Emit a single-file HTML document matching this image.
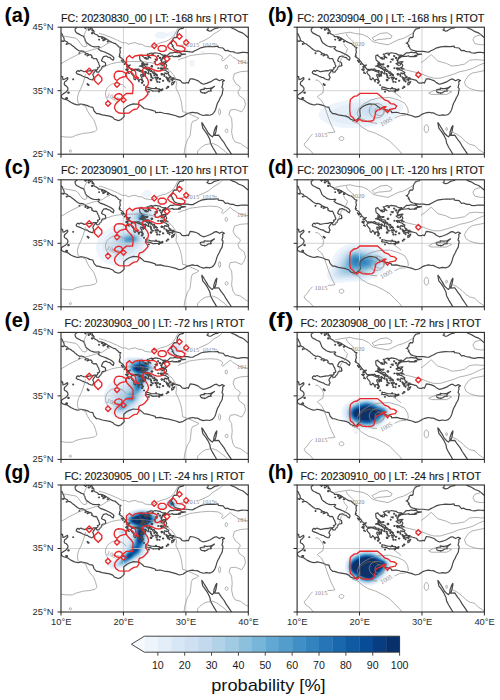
<!DOCTYPE html><html><head><meta charset="utf-8"><style>
html,body{margin:0;padding:0;background:#fff;}
svg{display:block;}
text{font-family:"Liberation Sans",sans-serif;}
</style></head><body>
<svg width="500" height="700" viewBox="0 0 500 700">
<defs>
<g id="coast" fill="none" stroke="#474747" stroke-width="1.2" stroke-linejoin="round" vector-effect="non-scaling-stroke">
<path vector-effect="non-scaling-stroke" d="M10.00 44.06 L10.05 44.03 L10.22 43.87 L10.30 43.55 L10.45 43.35 L10.50 43.15 L10.50 42.93 L10.75 42.80 L10.97 42.70 L11.10 42.55 L11.10 42.40 L11.20 42.44 L11.50 42.35 L11.80 42.10 L12.10 41.90 L12.22 41.77 L12.28 41.73 L12.62 41.45 L13.05 41.22 L13.25 41.28 L13.57 41.21 L13.75 41.10 L13.95 40.95 L14.12 40.82 L14.25 40.83 L14.45 40.73 L14.33 40.57 L14.55 40.62 L14.76 40.68 L15.00 40.42 L14.90 40.25 L15.10 40.15 L15.27 40.03 L15.63 40.07 L15.78 39.90 L15.79 39.80 L15.94 39.50 L16.04 39.36 L16.08 39.13 L16.20 38.92 L16.16 38.74 L15.83 38.62 L15.93 38.55 L15.90 38.42 L15.85 38.36 L15.72 38.25 L15.63 38.22 L15.65 38.10 L15.75 37.92 L16.06 37.93 L16.15 38.08 L16.26 38.23 L16.40 38.32 L16.55 38.69 L16.63 38.82 L17.02 38.90 L17.10 38.90 L17.20 39.03 L17.13 39.08 L17.13 39.37 L16.95 39.50 L16.65 39.60 L16.50 39.72 L16.53 39.87 L16.70 40.20 L16.82 40.37 L17.24 40.47 L17.50 40.30 L17.90 40.20 L17.99 40.05 L18.36 39.80 L18.49 40.15 L18.30 40.40 L17.94 40.64 L17.30 40.95 L16.87 41.13 L16.28 41.32 L15.92 41.63 L16.05 41.70 L16.18 41.88 L16.00 41.95 L15.88 41.93 L15.35 41.90 L14.99 42.00 L14.70 42.12 L14.40 42.35 L14.21 42.46 L13.95 42.75 L13.88 42.95 L13.80 43.18 L13.62 43.55 L13.52 43.62 L13.22 43.72 L12.90 43.91 L12.57 44.06 L12.40 44.20 L12.28 44.42 L12.25 44.70 L12.40 44.85 L12.55 44.95 L12.45 45.05"/>
<path vector-effect="non-scaling-stroke" d="M15.65 38.27 L15.24 38.26 L15.00 38.13 L14.75 38.16 L14.02 38.04 L13.70 37.98 L13.50 38.10 L13.36 38.13 L13.25 38.20 L13.10 38.19 L12.90 38.03 L12.73 38.18 L12.50 38.02 L12.43 37.80 L12.59 37.65 L12.83 37.58 L13.08 37.50 L13.52 37.28 L13.94 37.10 L14.25 37.06 L14.43 36.88 L14.85 36.72 L15.13 36.69 L15.15 36.90 L15.29 37.07 L15.22 37.23 L15.09 37.50 L15.20 37.73 L15.29 37.85 L15.56 38.19 L15.65 38.27Z"/>
<path vector-effect="non-scaling-stroke" d="M13.65 45.05 L13.70 45.00 L13.85 44.87 L13.90 44.76 L14.05 44.95 L14.15 45.05"/>
<path vector-effect="non-scaling-stroke" d="M14.85 45.05 L14.90 45.00 L15.00 44.75 L15.07 44.53 L15.30 44.35 L15.23 44.12 L15.44 43.94 L15.90 43.73 L15.97 43.53 L16.25 43.52 L16.44 43.51 L16.70 43.44 L17.02 43.30 L17.45 43.02 L17.70 42.90 L17.75 42.83 L18.09 42.65 L18.22 42.58 L18.53 42.45 L18.70 42.45 L18.84 42.28 L19.10 42.10 L19.20 41.93 L19.37 41.85 L19.60 41.80 L19.43 41.58 L19.45 41.32 L19.50 41.00 L19.40 40.80 L19.35 40.55 L19.49 40.47 L19.30 40.42 L19.47 40.25 L19.75 40.10 L20.00 39.87 L20.02 39.75 L20.17 39.62 L20.27 39.50 L20.40 39.28 L20.75 38.96 L21.10 39.05 L20.95 38.93 L20.80 38.85 L21.08 38.53 L21.20 38.35 L21.43 38.37 L21.76 38.33 L21.83 38.39 L22.20 38.35 L22.42 38.43 L22.60 38.25 L22.80 38.20 L23.15 38.18 L22.93 37.94 L22.73 38.00 L22.08 38.25 L21.78 38.30 L21.73 38.25 L21.35 38.17 L21.15 37.94 L21.32 37.65 L21.67 37.25 L21.68 36.92 L21.70 36.82 L21.88 36.72 L21.96 36.80 L22.11 37.03 L22.35 36.75 L22.48 36.39 L22.55 36.70 L22.57 36.76 L22.80 36.80 L23.05 36.50 L23.20 36.44 L23.05 36.69 L22.95 37.00 L22.75 37.40 L22.80 37.57 L23.10 37.45 L23.15 37.35 L23.45 37.45 L23.16 37.63 L23.00 37.93 L23.35 37.98 L23.55 38.03 L23.64 37.94 L23.78 37.80 L24.02 37.65 L24.06 37.72 L24.01 38.02 L24.00 38.15 L23.75 38.32 L23.60 38.46 L23.20 38.65 L22.85 38.85 L22.55 38.85 L22.95 39.00 L22.95 39.20 L22.94 39.36 L23.20 39.15 L23.05 39.08 L23.35 39.15 L23.20 39.40 L22.95 39.60 L22.70 39.80 L22.65 39.90 L22.60 40.25 L22.60 40.50 L22.94 40.64 L22.95 40.50 L23.30 40.25 L23.40 40.10 L23.70 39.95 L23.50 40.20 L23.60 40.25 L23.80 40.00 L23.95 39.98 L24.00 40.20 L23.90 40.35 L24.30 40.20 L24.40 40.15 L24.10 40.40 L23.80 40.75 L24.10 40.80 L24.41 40.94 L24.80 40.87 L25.10 40.98 L25.55 40.90 L25.87 40.85 L26.05 40.72 L26.30 40.60 L26.75 40.62 L26.55 40.45 L26.30 40.30 L26.18 40.05 L26.35 40.18 L26.67 40.41 L27.10 40.60 L27.50 40.98 L27.95 40.97 L28.25 41.07 L28.60 41.00 L28.98 41.00 L29.05 41.10 L29.10 41.22 L29.00 41.25 L28.60 41.35 L28.30 41.45 L28.10 41.63 L27.98 41.88 L27.80 42.00 L27.95 42.10 L27.85 42.17 L27.70 42.42 L27.47 42.50 L27.65 42.55 L27.73 42.66 L27.88 42.82 L27.90 42.90 L27.95 43.20 L28.17 43.40 L28.47 43.36 L28.60 43.55 L28.58 43.80 L28.65 44.17 L28.80 44.45 L29.00 44.70 L29.60 44.85 L29.65 45.05"/>
<path vector-effect="non-scaling-stroke" d="M33.60 45.05 L33.55 44.85 L33.52 44.62 L33.37 44.58 L33.50 44.50 L33.73 44.39 L34.00 44.42 L34.17 44.50 L34.42 44.67 L34.70 44.80 L34.97 44.85 L35.20 44.90 L35.35 45.05"/>
<path vector-effect="non-scaling-stroke" d="M37.10 45.05 L37.30 44.90 L37.60 44.75 L37.78 44.72 L38.05 44.57 L38.50 44.30 L39.07 44.10 L39.40 43.87 L39.72 43.58 L39.92 43.43 L40.05 43.36"/>
<path vector-effect="non-scaling-stroke" d="M40.05 40.95 L39.73 41.00 L39.55 41.02 L39.00 41.03 L38.39 40.92 L37.88 40.98 L37.77 41.07 L37.67 41.12 L37.28 41.13 L36.97 41.20 L36.70 41.35 L36.33 41.29 L35.95 41.72 L35.20 41.80 L35.15 42.02 L34.60 41.95 L34.34 41.95 L33.77 41.98 L33.00 41.89 L32.70 41.83 L32.38 41.75 L32.03 41.57 L31.80 41.45 L31.42 41.28 L31.12 41.09 L30.70 41.10 L30.20 41.18 L29.60 41.18 L29.10 41.20 L29.02 41.02 L29.30 40.82 L29.45 40.77 L29.92 40.76 L29.60 40.70 L29.27 40.65 L28.83 40.52 L29.15 40.43 L28.88 40.37 L28.50 40.40 L27.97 40.35 L27.90 40.50 L27.50 40.40 L27.30 40.40 L26.68 40.35 L26.40 40.15 L26.20 40.00 L26.15 39.80 L26.07 39.48 L26.33 39.50 L26.60 39.55 L26.95 39.58 L26.69 39.32 L26.89 39.07 L26.93 38.93 L26.75 38.67 L26.90 38.55 L27.14 38.42 L26.80 38.45 L26.50 38.65 L26.30 38.32 L26.78 38.20 L27.00 38.00 L27.26 37.86 L27.15 37.68 L27.30 37.48 L27.27 37.37 L27.60 37.24 L27.25 37.00 L27.43 37.03 L28.10 37.03 L27.70 36.75 L27.37 36.68 L28.27 36.85 L28.80 36.70 L29.10 36.62 L29.40 36.26 L29.64 36.20 L29.98 36.20 L30.15 36.30 L30.40 36.20 L30.57 36.60 L30.70 36.88 L31.00 36.85 L31.40 36.77 L32.00 36.54 L32.30 36.27 L32.80 36.02 L33.30 36.15 L33.93 36.38 L34.30 36.60 L34.63 36.80 L34.90 36.85 L35.37 36.57 L35.80 36.77 L36.17 36.59 L35.88 36.41 L35.93 36.08 L35.78 35.52 L35.93 35.36 L35.95 35.18 L35.88 34.89 L35.82 34.44 L35.65 34.12 L35.50 33.90 L35.37 33.56 L35.20 33.27 L35.10 33.10 L34.99 32.82 L34.89 32.50 L34.77 32.08 L34.65 31.80 L34.45 31.50 L34.25 31.30 L33.80 31.13 L33.30 31.20 L32.80 31.10 L32.30 31.26 L31.81 31.52 L31.50 31.50 L31.10 31.60 L30.80 31.55 L30.42 31.45 L30.07 31.32 L29.90 31.20 L29.50 30.95 L28.95 30.83 L28.40 31.05 L27.23 31.35 L26.50 31.45 L25.92 31.61 L25.15 31.55 L25.10 31.77 L24.50 31.95 L23.98 32.08 L23.30 32.20 L23.10 32.40 L22.64 32.77 L22.17 32.90 L21.97 32.90 L21.60 32.93 L20.95 32.72 L20.57 32.53 L20.07 32.12 L20.05 31.70 L20.10 31.20 L20.12 30.95 L20.00 30.80 L19.57 30.42 L19.20 30.28 L18.57 30.50 L18.30 30.80 L17.80 31.00 L16.59 31.20 L16.00 31.40 L15.70 31.40 L15.30 31.80 L15.10 32.37 L14.57 32.47 L14.26 32.65 L13.70 32.80 L13.18 32.90 L13.00 32.82 L12.73 32.77 L12.48 32.80 L12.08 32.93 L11.56 33.17 L11.10 33.50 L10.85 33.60 L10.40 33.70 L10.10 33.88 L10.05 34.10 L10.07 34.30 L10.35 34.50 L10.76 34.74 L11.00 35.00 L11.12 35.24 L11.07 35.50 L10.83 35.77 L10.64 35.83 L10.50 36.05 L10.60 36.40 L10.73 36.45 L11.10 36.85 L11.05 37.08 L10.98 37.05 L10.55 36.80 L10.30 36.75 L10.30 36.82 L10.33 36.86 L10.20 37.15 L10.28 37.18 L10.00 37.28 L9.90 37.30"/>
<path vector-effect="non-scaling-stroke" d="M34.98 24.90 L34.90 25.07 L34.65 25.50 L34.28 26.10 L33.94 26.75 L33.85 27.30 L33.50 28.00 L33.10 28.60 L32.70 29.10 L32.60 29.60 L32.55 29.97 L32.70 29.80 L33.00 29.30 L33.30 28.85 L33.60 28.30 L34.00 27.90 L34.25 27.73 L34.45 28.00 L34.50 28.50 L34.75 29.20 L34.95 29.50 L34.95 29.30 L34.80 28.50 L34.60 27.95 L35.25 28.00 L35.70 27.35 L36.10 26.85 L36.45 26.24 L36.90 25.60 L37.27 25.05 L37.30 24.90"/>
<path vector-effect="non-scaling-stroke" d="M23.58 35.60 L23.60 35.30 L23.53 35.27 L23.68 35.23 L24.00 35.20 L24.30 35.15 L24.73 34.93 L24.90 34.95 L25.50 34.98 L25.74 35.00 L26.10 35.02 L26.30 35.10 L26.30 35.30 L26.10 35.20 L25.72 35.19 L25.75 35.30 L25.13 35.34 L24.47 35.37 L24.20 35.45 L24.02 35.52 L23.75 35.55 L23.58 35.60Z"/>
<path vector-effect="non-scaling-stroke" d="M32.28 35.10 L32.42 34.77 L32.70 34.65 L33.04 34.67 L32.98 34.57 L33.30 34.70 L33.63 34.92 L34.08 34.96 L33.94 35.12 L34.20 35.40 L34.59 35.70 L34.00 35.40 L33.60 35.35 L33.32 35.34 L32.92 35.40 L32.95 35.20 L32.60 35.20 L32.28 35.10Z"/>
<path vector-effect="non-scaling-stroke" d="M28.22 36.45 L27.72 36.20 L27.75 35.90 L28.00 36.05 L28.22 36.45Z"/>
<path vector-effect="non-scaling-stroke" d="M22.85 38.85 L23.30 39.05 L23.60 38.75 L24.10 38.65 L24.20 38.40 L24.55 38.15 L24.60 37.98 L24.30 38.05 L24.00 38.35 L23.60 38.50 L23.20 38.75 L22.85 38.85Z"/>
<path vector-effect="non-scaling-stroke" d="M25.85 39.28 L26.20 39.00 L26.55 39.05 L26.60 39.30 L26.20 39.38 L25.85 39.28Z"/>
<path vector-effect="non-scaling-stroke" d="M25.85 38.55 L26.15 38.25 L26.10 38.60 L25.85 38.55Z"/>
<path vector-effect="non-scaling-stroke" d="M26.60 37.80 L27.05 37.70 L26.90 37.65 L26.60 37.80Z"/>
<path vector-effect="non-scaling-stroke" d="M25.05 39.95 L25.35 39.80 L25.40 40.00 L25.05 39.95Z"/>
<path vector-effect="non-scaling-stroke" d="M24.55 40.70 L24.75 40.60 L24.75 40.78 L24.55 40.70Z"/>
<path vector-effect="non-scaling-stroke" d="M19.65 39.80 L20.10 39.60 L19.90 39.45 L19.65 39.80Z"/>
<path vector-effect="non-scaling-stroke" d="M20.35 38.35 L20.70 38.10 L20.55 38.45 L20.35 38.35Z"/>
<path vector-effect="non-scaling-stroke" d="M20.65 37.80 L20.95 37.70 L20.75 37.90 L20.65 37.80Z"/>
<path vector-effect="non-scaling-stroke" d="M10.10 42.80 L10.45 42.75 L10.35 42.85 L10.10 42.80Z"/>
<path vector-effect="non-scaling-stroke" d="M24.67 37.85 L24.76 37.98 L24.94 37.98 L25.03 37.85 L24.94 37.72 L24.76 37.72Z"/>
<path vector-effect="non-scaling-stroke" d="M25.03 37.60 L25.09 37.68 L25.21 37.68 L25.27 37.60 L25.21 37.52 L25.09 37.52Z"/>
<path vector-effect="non-scaling-stroke" d="M25.25 37.45 L25.30 37.52 L25.40 37.52 L25.45 37.45 L25.40 37.38 L25.30 37.38Z"/>
<path vector-effect="non-scaling-stroke" d="M24.85 37.44 L24.89 37.50 L24.97 37.50 L25.01 37.44 L24.97 37.38 L24.89 37.38Z"/>
<path vector-effect="non-scaling-stroke" d="M24.23 37.63 L24.28 37.70 L24.38 37.70 L24.43 37.63 L24.38 37.56 L24.28 37.56Z"/>
<path vector-effect="non-scaling-stroke" d="M24.34 37.40 L24.38 37.46 L24.46 37.46 L24.50 37.40 L24.46 37.34 L24.38 37.34Z"/>
<path vector-effect="non-scaling-stroke" d="M24.40 37.15 L24.44 37.21 L24.52 37.21 L24.56 37.15 L24.52 37.09 L24.44 37.09Z"/>
<path vector-effect="non-scaling-stroke" d="M24.62 36.98 L24.66 37.04 L24.74 37.04 L24.78 36.98 L24.74 36.92 L24.66 36.92Z"/>
<path vector-effect="non-scaling-stroke" d="M24.28 36.70 L24.35 36.80 L24.49 36.80 L24.56 36.70 L24.49 36.60 L24.35 36.60Z"/>
<path vector-effect="non-scaling-stroke" d="M25.03 37.05 L25.09 37.13 L25.21 37.13 L25.27 37.05 L25.21 36.97 L25.09 36.97Z"/>
<path vector-effect="non-scaling-stroke" d="M25.30 37.05 L25.38 37.15 L25.52 37.15 L25.60 37.05 L25.52 36.95 L25.38 36.95Z"/>
<path vector-effect="non-scaling-stroke" d="M25.22 36.72 L25.26 36.78 L25.34 36.78 L25.38 36.72 L25.34 36.66 L25.26 36.66Z"/>
<path vector-effect="non-scaling-stroke" d="M25.73 36.85 L25.79 36.93 L25.91 36.93 L25.97 36.85 L25.91 36.77 L25.79 36.77Z"/>
<path vector-effect="non-scaling-stroke" d="M25.33 36.40 L25.38 36.47 L25.48 36.47 L25.53 36.40 L25.48 36.33 L25.38 36.33Z"/>
<path vector-effect="non-scaling-stroke" d="M25.71 36.36 L25.75 36.41 L25.82 36.41 L25.85 36.36 L25.82 36.31 L25.75 36.31Z"/>
<path vector-effect="non-scaling-stroke" d="M26.25 36.57 L26.30 36.64 L26.40 36.64 L26.45 36.57 L26.40 36.50 L26.30 36.50Z"/>
<path vector-effect="non-scaling-stroke" d="M26.95 36.85 L27.03 36.95 L27.18 36.95 L27.25 36.85 L27.18 36.75 L27.03 36.75Z"/>
<path vector-effect="non-scaling-stroke" d="M26.90 37.00 L26.94 37.06 L27.02 37.06 L27.06 37.00 L27.02 36.94 L26.94 36.94Z"/>
<path vector-effect="non-scaling-stroke" d="M26.78 37.15 L26.82 37.20 L26.89 37.20 L26.92 37.15 L26.89 37.10 L26.82 37.10Z"/>
<path vector-effect="non-scaling-stroke" d="M26.48 37.32 L26.52 37.37 L26.59 37.37 L26.62 37.32 L26.59 37.27 L26.52 37.27Z"/>
<path vector-effect="non-scaling-stroke" d="M26.01 37.60 L26.08 37.70 L26.22 37.70 L26.29 37.60 L26.22 37.50 L26.08 37.50Z"/>
<path vector-effect="non-scaling-stroke" d="M26.43 37.58 L26.46 37.63 L26.54 37.63 L26.57 37.58 L26.54 37.53 L26.46 37.53Z"/>
<path vector-effect="non-scaling-stroke" d="M27.08 36.60 L27.11 36.65 L27.18 36.65 L27.22 36.60 L27.18 36.55 L27.11 36.55Z"/>
<path vector-effect="non-scaling-stroke" d="M27.31 36.43 L27.34 36.48 L27.41 36.48 L27.45 36.43 L27.41 36.38 L27.34 36.38Z"/>
<path vector-effect="non-scaling-stroke" d="M27.76 36.60 L27.79 36.65 L27.86 36.65 L27.90 36.60 L27.86 36.55 L27.79 36.55Z"/>
<path vector-effect="non-scaling-stroke" d="M27.03 35.60 L27.09 35.68 L27.21 35.68 L27.27 35.60 L27.21 35.52 L27.09 35.52Z"/>
<path vector-effect="non-scaling-stroke" d="M26.85 35.40 L26.89 35.45 L26.96 35.45 L26.99 35.40 L26.96 35.35 L26.89 35.35Z"/>
<path vector-effect="non-scaling-stroke" d="M22.86 36.25 L22.92 36.33 L23.04 36.33 L23.10 36.25 L23.04 36.17 L22.92 36.17Z"/>
<path vector-effect="non-scaling-stroke" d="M23.23 35.87 L23.27 35.92 L23.34 35.92 L23.37 35.87 L23.34 35.82 L23.27 35.82Z"/>
<path vector-effect="non-scaling-stroke" d="M23.43 37.73 L23.46 37.78 L23.54 37.78 L23.57 37.73 L23.54 37.68 L23.46 37.68Z"/>
<path vector-effect="non-scaling-stroke" d="M23.43 37.93 L23.46 37.98 L23.54 37.98 L23.57 37.93 L23.54 37.88 L23.46 37.88Z"/>
<path vector-effect="non-scaling-stroke" d="M23.38 37.52 L23.41 37.57 L23.48 37.57 L23.52 37.52 L23.48 37.47 L23.41 37.47Z"/>
<path vector-effect="non-scaling-stroke" d="M23.40 37.34 L23.43 37.39 L23.50 37.39 L23.54 37.34 L23.50 37.29 L23.43 37.29Z"/>
<path vector-effect="non-scaling-stroke" d="M23.08 37.26 L23.11 37.31 L23.18 37.31 L23.22 37.26 L23.18 37.21 L23.11 37.21Z"/>
<path vector-effect="non-scaling-stroke" d="M23.38 39.16 L23.41 39.21 L23.48 39.21 L23.52 39.16 L23.48 39.11 L23.41 39.11Z"/>
<path vector-effect="non-scaling-stroke" d="M23.64 39.13 L23.68 39.19 L23.76 39.19 L23.80 39.13 L23.76 39.07 L23.68 39.07Z"/>
<path vector-effect="non-scaling-stroke" d="M23.78 39.17 L23.82 39.22 L23.89 39.22 L23.92 39.17 L23.89 39.12 L23.82 39.12Z"/>
<path vector-effect="non-scaling-stroke" d="M24.41 38.85 L24.48 38.95 L24.62 38.95 L24.69 38.85 L24.62 38.75 L24.48 38.75Z"/>
<path vector-effect="non-scaling-stroke" d="M24.92 39.53 L24.95 39.58 L25.02 39.58 L25.06 39.53 L25.02 39.48 L24.95 39.48Z"/>
<path vector-effect="non-scaling-stroke" d="M25.73 40.17 L25.79 40.25 L25.91 40.25 L25.97 40.17 L25.91 40.09 L25.79 40.09Z"/>
<path vector-effect="non-scaling-stroke" d="M25.96 39.83 L26.00 39.88 L26.07 39.88 L26.10 39.83 L26.07 39.78 L26.00 39.78Z"/>
<path vector-effect="non-scaling-stroke" d="M25.46 40.47 L25.50 40.53 L25.60 40.53 L25.64 40.47 L25.60 40.41 L25.50 40.41Z"/>
<path vector-effect="non-scaling-stroke" d="M25.50 38.55 L25.54 38.60 L25.61 38.60 L25.64 38.55 L25.61 38.50 L25.54 38.50Z"/>
<path vector-effect="non-scaling-stroke" d="M26.15 38.52 L26.18 38.57 L26.25 38.57 L26.29 38.52 L26.25 38.47 L26.18 38.47Z"/>
<path vector-effect="non-scaling-stroke" d="M24.01 34.84 L24.04 34.89 L24.11 34.89 L24.15 34.84 L24.11 34.79 L24.04 34.79Z"/>
<path vector-effect="non-scaling-stroke" d="M25.63 34.87 L25.66 34.92 L25.73 34.92 L25.77 34.87 L25.73 34.82 L25.66 34.82Z"/>
<path vector-effect="non-scaling-stroke" d="M25.15 35.45 L25.18 35.50 L25.25 35.50 L25.29 35.45 L25.25 35.40 L25.18 35.40Z"/>
<path vector-effect="non-scaling-stroke" d="M20.13 39.20 L20.16 39.25 L20.23 39.25 L20.27 39.20 L20.23 39.15 L20.16 39.15Z"/>
<path vector-effect="non-scaling-stroke" d="M20.53 38.75 L20.59 38.83 L20.71 38.83 L20.77 38.75 L20.71 38.67 L20.59 38.67Z"/>
<path vector-effect="non-scaling-stroke" d="M20.63 38.40 L20.66 38.45 L20.73 38.45 L20.77 38.40 L20.73 38.35 L20.66 38.35Z"/>
<path vector-effect="non-scaling-stroke" d="M14.30 35.90 L14.35 35.97 L14.45 35.97 L14.50 35.90 L14.45 35.83 L14.35 35.83Z"/>
<path vector-effect="non-scaling-stroke" d="M14.18 36.05 L14.21 36.10 L14.29 36.10 L14.32 36.05 L14.29 36.00 L14.21 36.00Z"/>
<path vector-effect="non-scaling-stroke" d="M11.88 36.80 L11.91 36.85 L11.98 36.85 L12.02 36.80 L11.98 36.75 L11.91 36.75Z"/>
<path vector-effect="non-scaling-stroke" d="M10.75 33.80 L10.83 33.90 L10.97 33.90 L11.05 33.80 L10.97 33.70 L10.83 33.70Z"/>
<path vector-effect="non-scaling-stroke" d="M11.08 34.70 L11.14 34.78 L11.26 34.78 L11.32 34.70 L11.26 34.62 L11.14 34.62Z"/>
<path vector-effect="non-scaling-stroke" d="M16.85 43.10 L16.93 43.20 L17.07 43.20 L17.15 43.10 L17.07 43.00 L16.93 43.00Z"/>
<path vector-effect="non-scaling-stroke" d="M16.48 43.30 L16.54 43.38 L16.66 43.38 L16.72 43.30 L16.66 43.22 L16.54 43.22Z"/>
<path vector-effect="non-scaling-stroke" d="M16.03 43.05 L16.07 43.10 L16.14 43.10 L16.17 43.05 L16.14 43.00 L16.07 43.00Z"/>
<path vector-effect="non-scaling-stroke" d="M17.40 42.75 L17.45 42.82 L17.55 42.82 L17.60 42.75 L17.55 42.68 L17.45 42.68Z"/>
<path vector-effect="non-scaling-stroke" d="M16.68 42.95 L16.74 43.03 L16.86 43.03 L16.92 42.95 L16.86 42.87 L16.74 42.87Z"/>
<path vector-effect="non-scaling-stroke" d="M14.88 44.05 L14.94 44.13 L15.06 44.13 L15.12 44.05 L15.06 43.97 L14.94 43.97Z"/>
<path vector-effect="non-scaling-stroke" d="M14.35 44.60 L14.40 44.67 L14.50 44.67 L14.55 44.60 L14.50 44.53 L14.40 44.53Z"/>
<path vector-effect="non-scaling-stroke" d="M14.30 44.95 L14.35 45.02 L14.45 45.02 L14.50 44.95 L14.45 44.88 L14.35 44.88Z"/>
<path vector-effect="non-scaling-stroke" d="M14.50 45.00 L14.55 45.07 L14.65 45.07 L14.70 45.00 L14.65 44.93 L14.55 44.93Z"/>
<path vector-effect="non-scaling-stroke" d="M14.95 44.50 L15.00 44.57 L15.10 44.57 L15.15 44.50 L15.10 44.43 L15.00 44.43Z"/>
<path vector-effect="non-scaling-stroke" d="M14.68 44.75 L14.71 44.80 L14.79 44.80 L14.82 44.75 L14.79 44.70 L14.71 44.70Z"/>
<path vector-effect="non-scaling-stroke" d="M14.16 40.55 L14.20 40.60 L14.27 40.60 L14.30 40.55 L14.27 40.50 L14.20 40.50Z"/>
<path vector-effect="non-scaling-stroke" d="M13.83 40.72 L13.87 40.77 L13.94 40.77 L13.97 40.72 L13.94 40.67 L13.87 40.67Z"/>
<path vector-effect="non-scaling-stroke" d="M12.88 40.90 L12.91 40.95 L12.98 40.95 L13.02 40.90 L12.98 40.85 L12.91 40.85Z"/>
<path vector-effect="non-scaling-stroke" d="M10.83 42.35 L10.87 42.40 L10.94 42.40 L10.97 42.35 L10.94 42.30 L10.87 42.30Z"/>
<path vector-effect="non-scaling-stroke" d="M9.83 43.00 L9.87 43.05 L9.94 43.05 L9.97 43.00 L9.94 42.95 L9.87 42.95Z"/>
</g>

<clipPath id="cp0"><rect x="61.00" y="27.20" width="187.30" height="127.00"/></clipPath>
<clipPath id="cp1"><rect x="297.10" y="27.20" width="187.30" height="127.00"/></clipPath>
<clipPath id="cp2"><rect x="61.00" y="179.80" width="187.30" height="127.00"/></clipPath>
<clipPath id="cp3"><rect x="297.10" y="179.80" width="187.30" height="127.00"/></clipPath>
<clipPath id="cp4"><rect x="61.00" y="332.40" width="187.30" height="127.00"/></clipPath>
<clipPath id="cp5"><rect x="297.10" y="332.40" width="187.30" height="127.00"/></clipPath>
<clipPath id="cp6"><rect x="61.00" y="485.00" width="187.30" height="127.00"/></clipPath>
<clipPath id="cp7"><rect x="297.10" y="485.00" width="187.30" height="127.00"/></clipPath>
<filter id="bl" x="-5%" y="-5%" width="110%" height="110%"><feGaussianBlur stdDeviation="0.5"/></filter>
</defs>
<rect width="500" height="700" fill="#fff"/>
<g clip-path="url(#cp0)">
<g transform="translate(61.00 27.20)" filter="url(#bl)">
<path d="M110.8 3.5l1.2 -.3 1.5 .1 1.3 .7 .7 1 .2 1.5 -.3 1 -.9 1.2 -1.5 .7 -2 .1 -3.5 -.6 -4.2 2.1 -1.8 .4 -2 .1 -2 -.3 -1.9 -.7 -1.3 -1 -.5 -1 0 -1 .5 -1 1.2 -1 1.5 -.6 2 -.4 2 0 2 .4 3 1 1 0 3.8 -2.4zM140.4 24l1.1 -.4 1.5 .1 .6 .3 .4 .5 .2 .5 -.2 .5 -.5 .5 -1 .4 -1.5 -.1 -1 -.7 -.2 -.6 .2 -.5 .4 -.5zM130.8 32.5l1.2 .2 .9 .8 .6 1.1 .2 1.4 -.2 1.4 -.6 1.1 -.9 .8 -1 .2 -1 -.2 -.9 -.8 -.6 -1.1 -.2 -1.4 .2 -1.4 .5 -1 1 -.9 .8 -.2z" fill="#edf4fc" fill-rule="evenodd"/>
</g>
<g transform="translate(-1.433 312.950) scale(6.24333 -6.35000)">
<g stroke="#c8c8c8" stroke-width="0.8" fill="none">
<path vector-effect="non-scaling-stroke" d="M20 25 L20 45 M30 25 L30 45 M10 35 L40 35"/>
</g>
<use href="#coast"/>
</g>
<g transform="translate(61.00 27.20)">
<g stroke="#8e8e8e" stroke-width="0.7" fill="none">
<path d="M0.00 8.60 L3.20 9.00 L8.00 9.80 L14.80 11.00 L17.20 13.00 L19.60 16.60 L21.60 19.00 L24.00 19.60 L26.00 18.60 L25.60 17.00 L24.00 13.40 L23.20 7.40 L26.80 0.00"/>
<path d="M0.00 36.50 L4.00 34.20 L8.80 31.40 L12.00 29.80 L19.20 26.20 L22.00 25.40 L30.00 23.00 L41.20 19.80 L46.00 16.60 L49.20 15.40"/>
<path d="M38.00 6.20 L42.80 7.40 L50.00 10.20 L56.40 13.00 L62.00 15.80 L64.40 15.40 L67.60 17.00 L70.00 16.20 L74.00 15.40 L78.00 17.00 L80.80 17.00 L84.00 19.00 L90.40 19.80 L96.00 17.00 L100.00 15.40 L104.80 14.20 L109.60 11.80 L112.80 8.60 L115.20 4.60 L116.50 2.00 L118.00 0.00"/>
<path d="M118.00 18.40 L124.00 17.60"/>
<path d="M153.00 16.80 L156.00 17.00"/>
<path d="M138.00 15.40 L142.00 13.80 L147.60 11.00 L152.40 7.00 L158.00 3.60 L161.80 0.00"/>
<path d="M124.00 30.50 L125.00 30.00 L128.70 28.50 L131.60 28.10 L140.40 26.90 L149.20 26.30 L156.70 26.90 L160.50 28.80 L161.80 30.70 L160.50 32.50 L161.80 33.80 L165.60 30.70 L169.30 27.50 L172.10 30.30 L174.40 31.30 L177.10 33.40"/>
<path d="M124.00 30.50 L120.00 31.50 L117.00 33.00"/>
<path d="M24.50 47.00 L23.90 49.70 L22.00 56.00 L20.00 61.00 L17.50 66.00 L16.40 70.90 L17.00 75.90 L20.20 77.20 L24.60 79.10 L26.40 83.50 L29.00 87.90 L32.70 92.30 L34.60 97.30 L35.90 102.40 L34.00 104.30 L29.00 105.50 L22.70 106.10 L15.10 108.00 L11.30 109.90 L5.00 109.90 L1.30 109.30 L0.00 109.30"/>
<path d="M36.00 46.00 L39.00 42.80 L44.10 39.00 L50.40 36.50 L56.70 35.20 L63.00 34.60 L70.00 34.30 L80.40 34.40 L90.00 35.50 L97.20 37.40 L104.00 40.50 L110.30 44.90 L114.00 50.00 L115.50 56.00 L114.90 60.80 L117.40 65.80 L119.30 70.90 L120.60 75.90 L121.20 81.00 L121.80 84.70 L124.00 84.90 L130.00 87.50 L137.90 91.00 L135.30 92.90 L131.60 94.20 L130.30 97.30 L129.70 103.60 L129.00 108.70 L126.50 112.40 L125.30 116.20 L124.00 120.00 L123.00 127.00"/>
<path d="M47.07 73.25 L46.02 71.83 L45.23 70.26 L44.72 68.59 L44.51 66.87 L44.59 65.13 L44.98 63.43 L45.66 61.81 L46.60 60.33 L47.79 59.01 L49.19 57.90 L50.76 57.02 L52.47 56.41 L54.25 56.07 L56.08 56.01 L57.88 56.25 L59.62 56.76 L61.25 57.55 L62.72 58.58 L63.99 59.82 L65.03 61.25"/>
<path d="M187.00 43.90 L179.60 44.50 L173.40 46.40 L172.10 51.40 L174.60 56.30 L178.30 58.80 L179.40 60.80 L176.90 64.60 L178.20 68.40 L183.20 72.10 L184.50 77.20 L183.20 81.00 L180.70 84.70 L174.40 82.20 L169.30 82.80 L168.00 87.30 L170.60 91.00 L171.20 98.60 L170.60 104.90 L171.90 111.20 L174.40 115.00 L179.40 116.20 L184.50 120.00 L187.00 121.30"/>
<path d="M136.60 127.00 L136.60 123.80 L140.40 120.00 L144.20 117.50 L147.90 116.80 L151.70 116.20 L156.00 118.00 L160.00 121.00 L164.00 124.00 L167.00 127.00"/>
<path d="M159.60 84.70 L159.47 86.20 L159.10 87.30 L158.60 87.70 L158.10 87.30 L157.73 86.20 L157.60 84.70 L157.73 83.20 L158.10 82.10 L158.60 81.70 L159.10 82.10 L159.47 83.20 L159.60 84.70"/>
<path d="M167.00 103.60 L166.81 104.50 L166.30 105.16 L165.60 105.40 L164.90 105.16 L164.39 104.50 L164.20 103.60 L164.39 102.70 L164.90 102.04 L165.60 101.80 L166.30 102.04 L166.81 102.70 L167.00 103.60"/>
<path d="M166.50 39.60 L166.34 40.60 L165.90 41.33 L165.30 41.60 L164.70 41.33 L164.26 40.60 L164.10 39.60 L164.26 38.60 L164.70 37.87 L165.30 37.60 L165.90 37.87 L166.34 38.60 L166.50 39.60"/>
<path d="M10.40 123.80 L10.21 124.51 L9.71 124.94 L9.09 124.94 L8.59 124.51 L8.40 123.80 L8.59 123.09 L9.09 122.66 L9.71 122.66 L10.21 123.09 L10.40 123.80"/>
<path d="M177.10 33.40 L182.00 35.00 L187.30 36.00"/>
</g>
<text x="125.3" y="19.4" font-size="6.4" style="font-family:&quot;Liberation Serif&quot;,serif" fill="#858585" transform="rotate(0 125.3 19.4)">1015</text>
<text x="141.0" y="19.4" font-size="6.4" style="font-family:&quot;Liberation Serif&quot;,serif" fill="#858585" transform="rotate(0 141.0 19.4)">1015</text>
<text x="176.0" y="36.8" font-size="6.4" style="font-family:&quot;Liberation Serif&quot;,serif" fill="#858585" transform="rotate(0 176.0 36.8)">101</text>
<text x="45.0" y="69.5" font-size="6.4" style="font-family:&quot;Liberation Serif&quot;,serif" fill="#858585" transform="rotate(25 45.0 69.5)">1005</text>
<g stroke="#e8292b" stroke-width="1.35" fill="none" stroke-linejoin="miter" stroke-miterlimit="3">
<path d="M77.80 51.00 L75.00 48.60 L74.60 45.00 L73.40 43.00 L71.00 41.80 L68.20 41.00 L66.20 39.80 L65.40 37.40 L65.40 33.40 L65.60 30.80 L68.50 28.30 L70.00 29.80 L71.50 30.80 L74.00 28.80 L78.00 28.10 L88.60 28.20 L93.00 28.30 L95.00 29.30 L96.50 31.30 L96.00 32.80 L94.50 33.80 L94.00 35.80 L94.50 37.30 L96.50 37.80 L99.00 36.30 L101.00 36.30 L103.00 37.80 L103.50 40.30 L102.00 42.80 L99.00 43.80 L96.00 43.80 L93.00 42.80 L90.00 41.30 L87.00 40.60 L84.00 40.80 L82.00 41.80 L81.00 43.30 L81.50 44.80 L84.00 47.80 L85.00 49.80 L86.50 51.80 L87.50 54.80 L87.00 57.80 L85.00 59.80 L84.50 62.80 L86.00 64.30 L87.00 66.80 L84.00 70.30 L81.50 72.30 L78.50 73.30 L77.50 75.80 L78.00 78.80 L76.00 81.80 L73.00 82.30 L70.50 83.80 L68.00 85.80 L62.00 86.10 L58.00 85.80 L55.00 83.80 L53.50 80.80 L54.00 77.80 L56.00 75.30 L59.00 72.80 L61.00 71.50"/>
<path d="M77.80 51.00 L75.00 51.00 L73.40 49.40 L72.60 47.40 L70.20 45.00 L67.80 44.20 L65.80 45.00 L65.00 47.40 L65.80 50.20 L67.80 52.60 L70.20 55.00 L72.00 57.80 L72.00 62.80 L71.50 66.30 L68.50 66.30 L65.50 66.30 L63.50 67.80 L62.00 69.30"/>
<path d="M65.00 47.40 L64.20 45.80 L61.40 44.20 L57.40 43.80 L55.00 44.60 L53.40 47.00 L53.20 49.80 L54.20 52.00 L56.00 53.30 L59.00 50.80 L62.00 49.80 L64.50 49.30 L65.00 47.40"/>
<path d="M53.50 69.30 L55.00 67.30 L58.00 66.30 L60.50 67.30 L61.50 69.30 L60.00 71.80 L58.00 72.30 L55.50 71.80 L53.50 70.30 L53.50 69.30"/>
<path d="M59.90 72.80 L62.50 70.20 L65.10 72.80 L62.50 75.40 L59.90 72.80"/>
<path d="M24.90 44.20 L28.20 40.90 L31.50 44.20 L28.20 47.50 L24.90 44.20"/>
<path d="M33.60 50.60 L37.20 47.00 L40.80 50.60 L40.80 53.60 L37.20 57.20 L33.60 53.60 L33.60 50.60"/>
<path d="M53.20 57.30 L56.00 54.50 L58.80 57.30 L56.00 60.10 L53.20 57.30"/>
<path d="M44.20 76.30 L47.00 73.50 L49.80 76.30 L47.00 79.10 L44.20 76.30"/>
<path d="M90.40 18.50 L93.20 15.70 L96.00 18.50 L93.20 21.30 L90.40 18.50"/>
<path d="M97.20 20.00 L99.40 18.40 L103.00 18.40 L105.20 20.00 L105.20 22.61 L103.00 24.20 L99.40 24.20 L97.20 22.61 L97.20 20.00"/>
<path d="M106.40 18.80 L108.80 16.00 L111.60 12.80 L113.20 14.00 L115.20 16.00 L116.00 18.40 L118.00 18.60 L121.20 19.20 L124.00 21.20 L123.60 23.20 L121.20 24.40 L117.20 24.80 L114.00 24.00 L111.20 22.80 L108.40 21.20 L106.40 18.80"/>
<path d="M115.60 9.30 L118.40 6.50 L121.20 9.30 L118.40 12.10 L115.60 9.30"/>
<path d="M122.30 15.40 L125.10 12.60 L127.90 15.40 L125.10 18.20 L122.30 15.40"/>
<path d="M103.10 31.60 L106.00 28.70 L108.90 31.60 L106.00 34.50 L103.10 31.60"/>
</g>
</g></g>
<rect x="61.00" y="27.20" width="187.30" height="127.00" fill="none" stroke="#2a2a2a" stroke-width="1.1"/>
<path d="M61.00 27.20 h-3.5 M61.00 90.70 h-3.5 M61.00 154.20 h-3.5 M61.00 154.20 v3.5 M123.43 154.20 v3.5 M185.87 154.20 v3.5 M248.30 154.20 v3.5" stroke="#2a2a2a" stroke-width="1.0"/>
<text x="154.65" y="21.70" font-size="11" fill="#1a1a1a" stroke="#1a1a1a" stroke-width="0.18" text-anchor="middle" textLength="187.2" lengthAdjust="spacingAndGlyphs">FC: 20230830_00 | LT: -168 hrs | RTOT</text>
<text x="4.60" y="21.60" font-size="19.5" font-weight="bold" fill="#000" textLength="25.5" lengthAdjust="spacingAndGlyphs"><tspan font-size="21" dy="0">(</tspan>a<tspan font-size="21">)</tspan></text>
<text x="32.60" y="30.10" font-size="9.4" fill="#2a2a2a" textLength="21" lengthAdjust="spacingAndGlyphs">45°N</text>
<text x="32.60" y="93.60" font-size="9.4" fill="#2a2a2a" textLength="21" lengthAdjust="spacingAndGlyphs">35°N</text>
<text x="32.60" y="157.10" font-size="9.4" fill="#2a2a2a" textLength="21" lengthAdjust="spacingAndGlyphs">25°N</text>
<g clip-path="url(#cp1)">
<g transform="translate(297.10 27.20)" filter="url(#bl)">
<path d="M62.3 71.5l7.2 -.4 6.5 .1 18 1.7 4 .5 3.7 1.1 2.6 1.5 1 1 .6 1 .3 1 -.1 1 -.5 1.5 -1.3 2 -4 4.5 -2.7 2.5 -2.6 1.8 -3 1.7 -3 1.3 -4 1.4 -4.5 1.2 -5.5 1.1 -6 .8 -6.5 .6 -6.5 .4 -6 0 -5 -.3 -4.5 -.6 -4.5 -1.2 -4.5 -1.7 -4 -2.1 -3.3 -2.4 -1.8 -2 -.5 -1 -.4 -1.5 0 -1.5 .3 -1 1.2 -2 2.1 -2 3.4 -2 4.5 -2 5.5 -1.9 5 -1.3 5.5 -1.2 6 -.9 7.3 -.7z" fill="#edf4fc" fill-rule="evenodd"/>
<path d="M71.2 74l3.8 0 4 .2 14 2.1 3.5 .9 1 .6 .7 .7 .3 1 -.6 1.5 -6.4 7.1 -1.6 1.4 -1.9 1.3 -4.5 2.2 -3 .9 -3.5 .9 -8 1.2 -12.5 1.1 -4.5 .1 -3.5 -.2 -3 -.4 -2.5 -.5 -4.1 -1.6 -2.5 -1.5 -1.9 -1.5 -1.5 -1.5 -.9 -1.5 -.2 -1.5 .3 -1 .6 -1 1.1 -1 3.1 -2 5.5 -2.5 5 -1.6 6.3 -1.4 10.7 -1.8 6.7 -.7z" fill="#e3eef8" fill-rule="evenodd"/>
<path d="M69.5 76.5l5 -.4 5 .4 2.6 .5 2.9 .9 1.6 .6 1.7 1 .9 1 .2 1 0 1 -.5 1.5 -.8 1.5 -1.1 1.4 -2.5 2.1 -2.5 1.2 -3 1 -3.5 .7 -4 .3 -9.5 -.2 -7 .2 -2.5 0 -3 -.7 -1 -.6 -.9 -.9 -.2 -.5 .1 -1 .5 -1 1 -1 7.7 -5 3.7 -2 2.6 -1.2 3.5 -1.1 3 -.7z" fill="#d8e7f5" fill-rule="evenodd"/>
<path d="M71 78.5l2.5 -.4 3 0 2.6 .4 2.4 .8 2 1.2 .9 1 .4 1.5 -.4 1.5 -1 1.5 -1.4 1.2 -2 1 -2 .6 -2.5 .4 -2.5 0 -2.5 -.4 -2 -.6 -1.5 -.8 -1.4 -1.4 -.7 -1.5 -.1 -1.5 .7 -1.5 1 -1 2 -1.2 2.5 -.8z" fill="#cee0f2" fill-rule="evenodd"/>
<path d="M73.5 80.5l2.5 -.2 1.5 .3 1.2 .4 .8 .5 .8 1 .2 .5 -.2 1 -.7 1 -.6 .5 -2 .7 -2.5 .2 -2.5 -.6 -1 -.6 -.6 -.7 -.3 -.5 0 -1 .4 -.9 .6 -.6 .9 -.5 1.5 -.5z" fill="#c2d9ee" fill-rule="evenodd"/>
</g>
<g transform="translate(234.667 312.950) scale(6.24333 -6.35000)">
<g stroke="#c8c8c8" stroke-width="0.8" fill="none">
<path vector-effect="non-scaling-stroke" d="M20 25 L20 45 M30 25 L30 45 M10 35 L40 35"/>
</g>
<use href="#coast"/>
</g>
<g transform="translate(297.10 27.20)">
<g stroke="#8e8e8e" stroke-width="0.7" fill="none">
<path d="M38.00 7.50 L44.00 6.30 L48.00 5.70 L53.00 5.00 L58.00 6.30 L63.00 6.90 L66.00 7.40 L71.00 9.90 L73.50 12.40 L76.00 14.50 L81.00 15.80 L91.00 17.60 L96.00 15.10 L101.00 12.60 L106.00 11.30 L111.00 8.80 L115.00 6.30 L118.90 2.50 L122.60 0.00"/>
<path d="M75.00 10.60 L79.00 8.60 L83.00 6.30 L90.00 5.50 L95.00 8.60 L93.70 11.10 L88.00 11.80 L81.00 12.40 L77.40 13.60 L75.00 10.60"/>
<path d="M49.10 6.30 L50.40 9.40 L54.20 12.60 L56.00 14.50 L57.90 16.40"/>
<path d="M46.60 16.40 L47.90 18.90 L50.40 21.40 L49.10 25.20 L46.60 29.00 L44.10 31.50 L41.60 40.30 L37.80 44.10 L35.30 46.60"/>
<path d="M18.30 52.90 L20.80 52.90 L23.30 55.40 L25.20 57.90 L26.40 60.80 L25.80 65.80 L21.40 68.40 L20.20 69.60 L24.60 73.40 L27.10 78.40 L29.00 83.50 L31.50 91.00 L34.00 97.30 L36.50 102.40 L37.80 104.90 L34.00 105.50 L30.50 105.50"/>
<path d="M15.50 106.80 L12.60 109.90 L10.10 113.70 L6.90 116.80 L8.80 120.00 L12.60 122.50 L16.40 127.00"/>
<path d="M46.80 111.40 L46.48 112.40 L45.60 113.13 L44.40 113.40 L43.20 113.13 L42.32 112.40 L42.00 111.40 L42.32 110.40 L43.20 109.67 L44.40 109.40 L45.60 109.67 L46.48 110.40 L46.80 111.40"/>
<path d="M87.40 83.50 L87.21 85.10 L86.65 86.62 L85.74 87.99 L84.54 89.13 L83.10 89.99 L81.49 90.52 L79.80 90.70 L78.11 90.52 L76.50 89.99 L75.06 89.13 L73.86 87.99 L72.95 86.62 L72.39 85.10 L72.20 83.50 L72.39 81.90 L72.95 80.38 L73.86 79.01 L75.06 77.87 L76.50 77.01 L78.11 76.48 L79.80 76.30 L81.49 76.48 L83.10 77.01 L84.54 77.87 L85.74 79.01 L86.65 80.38 L87.21 81.90 L87.40 83.50"/>
<path d="M86.70 84.10 L86.48 85.46 L85.86 86.69 L84.89 87.66 L83.66 88.28 L82.30 88.50 L80.94 88.28 L79.71 87.66 L78.74 86.69 L78.12 85.46 L77.90 84.10 L78.12 82.74 L78.74 81.51 L79.71 80.54 L80.94 79.92 L82.30 79.70 L83.66 79.92 L84.89 80.54 L85.86 81.51 L86.48 82.74 L86.70 84.10"/>
<path d="M62.20 91.00 L60.00 86.00 L62.00 81.00 L66.00 77.20 L73.50 72.90 L81.00 70.90 L92.40 70.20 L101.20 72.80 L107.50 75.90 L110.60 80.90 L111.30 85.40 L108.80 87.90 L102.50 88.50 L97.40 91.00"/>
<path d="M80.00 96.10 L73.50 95.40 L66.00 92.30 L62.20 91.00"/>
<path d="M55.00 94.00 L60.90 96.10 L64.70 99.80 L71.00 103.60 L78.50 106.10 L86.10 109.90 L92.40 113.70 L97.40 118.70 L102.50 123.80 L105.00 127.00"/>
<path d="M123.90 35.60 L129.00 31.80 L134.10 27.30 L140.50 33.70 L149.50 36.30 L154.60 38.80 L161.00 38.20 L167.40 36.90 L172.50 33.10 L177.70 32.40 L187.90 33.10"/>
<path d="M105.00 42.00 L112.00 43.50 L118.00 45.00 L123.90 46.50 L130.30 49.10 L136.70 51.00 L143.10 51.00 L149.50 49.10 L155.90 47.20 L162.30 44.60 L168.70 43.30 L175.10 41.40 L181.50 38.20 L187.90 35.60"/>
<path d="M187.90 43.30 L181.50 44.60 L175.10 45.90 L171.30 48.50 L168.70 52.30 L167.40 54.80 L168.70 58.70 L172.50 61.20 L178.00 63.00 L184.00 64.00 L187.90 63.50"/>
<path d="M184.00 7.50 L177.70 9.40 L175.80 12.60 L177.70 16.40 L184.10 17.70 L187.90 17.10"/>
<path d="M131.60 65.90 L136.70 63.40 L149.50 62.70 L154.60 64.60 L149.50 67.20 L143.10 67.20 L134.10 67.20 L131.60 65.90"/>
<path d="M131.50 101.50 L131.28 103.24 L130.67 104.63 L129.79 105.40 L128.81 105.40 L127.93 104.63 L127.32 103.24 L127.10 101.50 L127.32 99.76 L127.93 98.37 L128.81 97.60 L129.79 97.60 L130.67 98.37 L131.28 99.76 L131.50 101.50"/>
<path d="M150.30 101.80 L150.15 102.74 L149.75 103.32 L149.25 103.32 L148.85 102.74 L148.70 101.80 L148.85 100.86 L149.25 100.28 L149.75 100.28 L150.15 100.86 L150.30 101.80"/>
<path d="M154.60 104.30 L159.70 106.90 L164.90 110.70 L168.70 114.60 L172.50 117.10 L177.70 118.40 L181.50 122.30 L185.40 124.80 L187.30 126.00"/>
<path d="M92.00 61.00 L96.00 64.50 L101.00 68.00 L104.00 70.50"/>
</g>
<text x="54.5" y="18.6" font-size="6.4" style="font-family:&quot;Liberation Serif&quot;,serif" fill="#858585" transform="rotate(0 54.5 18.6)">1020</text>
<text x="17.5" y="109.8" font-size="6.4" style="font-family:&quot;Liberation Serif&quot;,serif" fill="#858585" transform="rotate(0 17.5 109.8)">1015</text>
<text x="84.5" y="99.3" font-size="6.4" style="font-family:&quot;Liberation Serif&quot;,serif" fill="#858585" transform="rotate(-28 84.5 99.3)">1005</text>
<g stroke="#e8292b" stroke-width="1.35" fill="none" stroke-linejoin="miter" stroke-miterlimit="3">
<path d="M53.30 72.20 L56.90 69.20 L59.90 68.60 L62.90 66.20 L80.30 66.20 L83.90 69.20 L87.50 72.80 L91.10 74.00 L93.50 76.40 L97.10 77.00 L99.50 78.80 L98.30 81.20 L94.70 81.80 L92.30 82.40 L90.50 85.40 L89.30 84.20 L87.50 82.40 L86.90 80.60 L89.30 79.40 L86.90 79.40 L84.50 81.20 L82.70 82.40 L80.30 83.00 L78.50 84.80 L77.90 88.40 L76.70 92.60 L74.90 93.80 L69.50 94.20 L65.30 93.80 L62.30 92.00 L59.90 94.40 L58.10 93.20 L55.70 90.20 L53.30 88.40 L52.70 83.60 L52.70 77.60 L53.30 72.20"/>
<path d="M118.40 47.50 L121.20 44.70 L124.00 47.50 L121.20 50.30 L118.40 47.50"/>
</g>
</g></g>
<rect x="297.10" y="27.20" width="187.30" height="127.00" fill="none" stroke="#2a2a2a" stroke-width="1.1"/>
<path d="M297.10 27.20 h-3.5 M297.10 90.70 h-3.5 M297.10 154.20 h-3.5 M297.10 154.20 v3.5 M359.53 154.20 v3.5 M421.97 154.20 v3.5 M484.40 154.20 v3.5" stroke="#2a2a2a" stroke-width="1.0"/>
<text x="390.75" y="21.70" font-size="11" fill="#1a1a1a" stroke="#1a1a1a" stroke-width="0.18" text-anchor="middle" textLength="187.2" lengthAdjust="spacingAndGlyphs">FC: 20230904_00 | LT: -168 hrs | RTOT</text>
<text x="267.90" y="21.60" font-size="19.5" font-weight="bold" fill="#000" textLength="25.5" lengthAdjust="spacingAndGlyphs"><tspan font-size="21" dy="0">(</tspan>b<tspan font-size="21">)</tspan></text>
<g clip-path="url(#cp2)">
<g transform="translate(61.00 179.80)" filter="url(#bl)">
<path d="M83.9 10.5l1.6 -.4 1.5 .1 1.5 .5 1.2 .8 .8 1 .4 1.5 -.4 1.5 -.8 1 -1.7 1.1 -2 .3 -2 -.3 -1.7 -1.1 -1 -1.5 -.2 -1 .2 -1 1 -1.5 1.6 -1zM82.9 26l2.6 .1 2.5 .3 3 .8 2 .9 1.5 .9 1.5 1.5 .8 1.5 .4 2 -.4 2.5 -.8 1.5 -1 1.4 -2.5 2.5 -5 4.1 -1.1 1.5 -.2 1 .2 1.5 1.7 4 .8 2.5 .3 2 -.1 2.5 -.4 2.5 -1 3 -1.4 3 -1.7 2.5 -2.1 2.5 -2 1.9 -2.5 2 -2.5 1.7 -3 1.6 -2.5 1.1 -3 1 -3.5 .9 -3 .5 -3 .2 -3 -.1 -3 -.3 -3 -.7 -2.5 -.9 -2.5 -1.2 -2 -1.3 -2.5 -2.2 -2 -2.7 -1.3 -3 -.7 -3.5 .1 -3.5 .8 -3.5 1.3 -3 2.2 -3.5 3.1 -3.5 3.5 -2.9 3.5 -2.3 6.2 -3.3 2.1 -1.5 1.7 -2 2.1 -4 1.4 -2 2 -2 2 -1.6 3.5 -2 4 -1.5 4.5 -1.1 3.9 -.3z" fill="#edf4fc" fill-rule="evenodd"/>
<path d="M78.4 28.5l2.6 -.3 3 -.1 2.5 .3 2.5 .7 1.8 .9 1.3 1 1.1 1.5 .4 1.5 0 1 -.4 1.5 -1.5 2.5 -3.2 2.9 -4.5 2.8 -.7 .8 -.6 1 -.7 3 0 2.5 2 5 .3 1.5 0 1.5 -.2 1.5 -.6 2 -2.1 4 -3 4 -1.9 1.9 -2 1.6 -2 1.4 -2.5 1.3 -4.5 1.7 -5 1 -2.5 .1 -2.5 -.1 -2.5 -.4 -2 -.5 -2 -.8 -2 -1.1 -2.1 -1.6 -1.7 -2 -1.1 -2 -.8 -2.5 -.2 -2.5 .3 -2.5 1 -3 1.3 -2.5 1.5 -2 1.8 -2 2 -1.7 2 -1.4 4 -2.2 7.2 -2.7 2.3 -1.2 .7 -.8 .2 -1 -.5 -3.5 .2 -2.5 .8 -2 1 -1.5 2.1 -2 2.5 -1.6 3.5 -1.5 3.4 -.9z" fill="#e3eef8" fill-rule="evenodd"/>
<path d="M78.1 30l2.4 -.4 2.5 0 2 .2 2 .5 1.5 .7 1.3 1 .8 1 .5 1.5 0 1 -.5 1.5 -1.6 2.5 -2.5 2.2 -3.9 2.3 -.9 1 -.4 1 -1.6 5 -.2 1 .4 1.5 1.6 3 .5 2 -.3 2.5 -1.1 2.5 -2.6 3.2 -4.9 4.8 -3.1 2.2 -3.5 1.7 -4.5 1.2 -4 .2 -4 -.6 -2 -.7 -1.5 -.8 -1.6 -1.2 -1.4 -1.5 -.9 -1.5 -.7 -2 -.2 -2 .2 -2 .8 -2.5 1.1 -2 1.9 -2.5 2.3 -2.2 3 -2 3 -1.4 3.5 -1.1 3 -.5 3 -.1 4.5 .2 1 -.1 .7 -.3 .4 -.5 .1 -1 -.3 -1.5 -.4 -1.4 -1 -1.5 -2.5 -1.9 -1.1 -1.2 -.7 -1.5 -.1 -2 .6 -1.5 .6 -1 2 -2 3.2 -1.8 3.6 -1.2z" fill="#d8e7f5" fill-rule="evenodd"/>
<path d="M78.8 31l2.2 -.3 2 0 2 .4 1.5 .6 1.3 .8 .8 1 .5 1 .1 1.5 -.6 2 -1.4 2 -1.7 1.4 -3.2 1.6 -1.3 1 -.7 1 -1.3 3.2 -.5 .6 -1 .4 -.5 -.2 -.7 -1 -1.3 -3.5 -.8 -1.5 -3.2 -3.5 -.4 -1 -.1 -1 .3 -1 .4 -1 1.9 -2 2.6 -1.5 3.1 -1zM63.2 52.5l2.8 -.4 3.5 -.1 5 .4 2 .4 1 .7 1 .9 1.4 2.1 .6 2 -.1 1.5 -.3 1 -1.2 2 -2.4 2.4 -6.5 4.5 -3.5 2 -3 1 -3 .5 -3 -.1 -2.5 -.7 -1.5 -.8 -1.1 -.8 -.9 -1 -.9 -1.5 -.4 -1.5 -.2 -1.5 .2 -1.5 .6 -2 1 -2 1 -1.5 1.4 -1.5 1.3 -1.1 1.5 -1.1 2 -1 2 -.7 2.2 -.6z" fill="#cee0f2" fill-rule="evenodd"/>
<path d="M78.5 32l1.5 -.3 2 -.1 1.5 .2 1.5 .4 1.3 .8 1 1 .5 1 .2 1.5 -.6 2 -1.4 1.7 -1.5 1.1 -3.9 1.7 -1.2 1 -.9 1.3 -.5 .4 -.5 -.1 -.5 -.6 -1.4 -2.5 -2.2 -3 -.5 -1 -.2 -1 .3 -1.5 1 -1.5 2 -1.5 2.5 -1zM64.8 53.5l3.2 -.4 3.5 .1 3 .4 2 .8 1.5 1.2 1.1 1.9 .2 1.5 -.5 2 -1.3 1.8 -2 1.7 -3 1.6 -4 1.7 -4 1.3 -2.5 .5 -2.5 -.1 -2 -.6 -1 -.6 -1 -1 -.5 -.8 -.6 -1.5 -.1 -1.5 .1 -1.5 .8 -2.5 1.4 -2 2.4 -1.9 2.5 -1.2 3.3 -.9z" fill="#c2d9ee" fill-rule="evenodd"/>
<path d="M79.6 32.5l1.4 -.2 1.5 .1 1.5 .3 1 .5 1 .8 .8 1 .3 1 0 1 -.3 1 -.5 1 -.9 1 -.9 .7 -2.5 1.1 -3 .8 -1 .1 -1 -.6 -1.8 -2.1 -.8 -1.5 -.1 -1.5 .5 -1.5 1.2 -1.3 1.5 -1 2.1 -.7zM68.4 54l2.6 0 2.5 .3 2 .6 1.5 1 1.1 1.6 .2 1.5 -.3 1.5 -1 1.4 -1.5 1.3 -2.5 1.4 -3 1.1 -2.5 .6 -2.5 .2 -2.5 -.1 -2 -.5 -1.5 -.9 -1.3 -1.5 -.5 -2 .3 -2 .9 -1.5 1.6 -1.5 2.5 -1.3 3 -.9 2.9 -.3z" fill="#b2d2e8" fill-rule="evenodd"/>
<path d="M80.2 33l1.3 -.1 1.5 .2 2 .9 1.2 1.5 .2 1 -.1 1 -.6 1.5 -1.7 1.5 -2.5 .9 -2.5 .3 -1.5 -.6 -1.2 -1.1 -.8 -1.5 -.1 -1.5 .5 -1.5 .9 -1 1.7 -1 1.7 -.5zM66.3 55l2.7 -.3 2.5 0 2 .3 1.5 .5 1.4 1 .7 1 .3 1.5 -.4 1.5 -1 1.3 -1.5 1.1 -2 1 -2.5 .8 -2.5 .3 -2 .1 -2 -.3 -2 -.8 -1.3 -1 -.7 -1 -.4 -1.5 .4 -1.5 1.1 -1.5 1.4 -1 2 -.9 2.3 -.6z" fill="#a1cbe2" fill-rule="evenodd"/>
<path d="M80.4 33.5l2.1 0 1 .3 1 .6 .6 .6 .6 1 .1 1.5 -.7 1.5 -1.6 1.3 -2 .7 -2 .1 -1.5 -.5 -1 -.9 -.6 -1.2 -.2 -1.5 .3 -1 1 -1.2 1.5 -.9 1.4 -.4zM67.6 55.5l2.4 -.2 2 .1 1.5 .3 1.5 .7 1.1 1.1 .4 1 -.1 1 -.4 1 -.9 1 -1.4 1 -1.7 .7 -2 .6 -2 .3 -2 -.1 -2 -.4 -1.4 -.6 -1.2 -1 -.5 -1 -.1 -1.5 .5 -1 1 -1 1.7 -1 1.5 -.6 2.1 -.4z" fill="#8cc0dd" fill-rule="evenodd"/>
<path d="M80.2 34l1.3 -.1 1.5 .3 1.4 .8 .7 1 .2 1.5 -.4 1 -.9 1 -1 .6 -2 .5 -1.5 -.1 -1.5 -.7 -.9 -1.3 -.2 -1.5 .6 -1.4 1.3 -1.1 1.4 -.5zM68.8 56l3.2 0 1.5 .4 1.1 .6 .8 1 .2 1 -.3 1 -.8 1 -1 .8 -1.5 .7 -1.5 .4 -2 .3 -2 -.1 -1.5 -.3 -1 -.4 -1.2 -.9 -.5 -1 0 -1 .5 -1 .5 -.5 2.2 -1.3 3.3 -.7z" fill="#77b5d9" fill-rule="evenodd"/>
<path d="M80 34.5l1.5 -.2 1 .2 1 .4 .7 .6 .6 1 0 1 -.4 1 -.9 .9 -1.5 .7 -1.5 .1 -1.5 -.4 -1 -.8 -.5 -1 .1 -1.5 .9 -1.2 1.5 -.8zM67.2 57l3.3 -.4 2.5 .4 1.3 1 .3 .5 -.1 1 -.5 .9 -.7 .6 -2.3 1 -3 .4 -2.3 -.4 -1.6 -1 -.3 -.5 -.1 -1 .6 -1 .6 -.5 2.3 -1z" fill="#63a8d3" fill-rule="evenodd"/>
<path d="M79.9 35l1.1 -.3 1 .1 1.6 .7 .4 .5 .4 1 -.2 1 -.7 .9 -1 .6 -1.5 .3 -1.5 -.2 -.8 -.6 -.6 -1 -.1 -1 .5 -1 1.4 -1zM68.4 57.5l2.1 -.2 1.5 .2 .9 .5 .4 .5 0 1 -.8 1 -2 .8 -2 .2 -2 -.4 -.9 -.6 -.2 -.5 .2 -1 1.3 -1 1.5 -.5z" fill="#529dcc" fill-rule="evenodd"/>
<path d="M79.9 35.5l1.1 -.3 1 0 .7 .3 .7 .5 .5 1 -.2 1 -.4 .5 -.8 .6 -1 .3 -1 0 -1 -.4 -.8 -1 -.1 -1 .6 -1 .7 -.5zM68.9 58.5l1.1 -.1 1 .1 .6 .5 -.1 .5 -.5 .5 -1 .3 -1.5 0 -.7 -.3 -.2 -.5 .3 -.5 1 -.5z" fill="#4090c5" fill-rule="evenodd"/>
<path d="M80 36l1 -.4 1.5 .3 .6 .6 .2 .5 -.2 1 -.6 .6 -1 .4 -1.5 -.3 -.5 -.4 -.4 -.8 .3 -1 .6 -.5z" fill="#3383be" fill-rule="evenodd"/>
<path d="M80.3 36.5l1.2 -.3 .8 .3 .4 .5 -.2 .9 -1 .6 -1 -.2 -.5 -.3 -.2 -.5 .1 -.5 .4 -.5z" fill="#2575b7" fill-rule="evenodd"/>
</g>
<g transform="translate(-1.433 465.550) scale(6.24333 -6.35000)">
<g stroke="#c8c8c8" stroke-width="0.8" fill="none">
<path vector-effect="non-scaling-stroke" d="M20 25 L20 45 M30 25 L30 45 M10 35 L40 35"/>
</g>
<use href="#coast"/>
</g>
<g transform="translate(61.00 179.80)">
<g stroke="#8e8e8e" stroke-width="0.7" fill="none">
<path d="M0.00 8.60 L3.20 9.00 L8.00 9.80 L14.80 11.00 L17.20 13.00 L19.60 16.60 L21.60 19.00 L24.00 19.60 L26.00 18.60 L25.60 17.00 L24.00 13.40 L23.20 7.40 L26.80 0.00"/>
<path d="M0.00 36.50 L4.00 34.20 L8.80 31.40 L12.00 29.80 L19.20 26.20 L22.00 25.40 L30.00 23.00 L41.20 19.80 L46.00 16.60 L49.20 15.40"/>
<path d="M38.00 6.20 L42.80 7.40 L50.00 10.20 L56.40 13.00 L62.00 15.80 L64.40 15.40 L67.60 17.00 L70.00 16.20 L74.00 15.40 L78.00 17.00 L80.80 17.00 L84.00 19.00 L90.40 19.80 L96.00 17.00 L100.00 15.40 L104.80 14.20 L109.60 11.80 L112.80 8.60 L115.20 4.60 L116.50 2.00 L118.00 0.00"/>
<path d="M118.00 18.40 L124.00 17.60"/>
<path d="M153.00 16.80 L156.00 17.00"/>
<path d="M138.00 15.40 L142.00 13.80 L147.60 11.00 L152.40 7.00 L158.00 3.60 L161.80 0.00"/>
<path d="M124.00 30.50 L125.00 30.00 L128.70 28.50 L131.60 28.10 L140.40 26.90 L149.20 26.30 L156.70 26.90 L160.50 28.80 L161.80 30.70 L160.50 32.50 L161.80 33.80 L165.60 30.70 L169.30 27.50 L172.10 30.30 L174.40 31.30 L177.10 33.40"/>
<path d="M124.00 30.50 L120.00 31.50 L117.00 33.00"/>
<path d="M24.50 47.00 L23.90 49.70 L22.00 56.00 L20.00 61.00 L17.50 66.00 L16.40 70.90 L17.00 75.90 L20.20 77.20 L24.60 79.10 L26.40 83.50 L29.00 87.90 L32.70 92.30 L34.60 97.30 L35.90 102.40 L34.00 104.30 L29.00 105.50 L22.70 106.10 L15.10 108.00 L11.30 109.90 L5.00 109.90 L1.30 109.30 L0.00 109.30"/>
<path d="M36.00 46.00 L39.00 42.80 L44.10 39.00 L50.40 36.50 L56.70 35.20 L63.00 34.60 L70.00 34.30 L80.40 34.40 L90.00 35.50 L97.20 37.40 L104.00 40.50 L110.30 44.90 L114.00 50.00 L115.50 56.00 L114.90 60.80 L117.40 65.80 L119.30 70.90 L120.60 75.90 L121.20 81.00 L121.80 84.70 L124.00 84.90 L130.00 87.50 L137.90 91.00 L135.30 92.90 L131.60 94.20 L130.30 97.30 L129.70 103.60 L129.00 108.70 L126.50 112.40 L125.30 116.20 L124.00 120.00 L123.00 127.00"/>
<path d="M47.07 73.25 L46.02 71.83 L45.23 70.26 L44.72 68.59 L44.51 66.87 L44.59 65.13 L44.98 63.43 L45.66 61.81 L46.60 60.33 L47.79 59.01 L49.19 57.90 L50.76 57.02 L52.47 56.41 L54.25 56.07 L56.08 56.01 L57.88 56.25 L59.62 56.76 L61.25 57.55 L62.72 58.58 L63.99 59.82 L65.03 61.25"/>
<path d="M187.00 43.90 L179.60 44.50 L173.40 46.40 L172.10 51.40 L174.60 56.30 L178.30 58.80 L179.40 60.80 L176.90 64.60 L178.20 68.40 L183.20 72.10 L184.50 77.20 L183.20 81.00 L180.70 84.70 L174.40 82.20 L169.30 82.80 L168.00 87.30 L170.60 91.00 L171.20 98.60 L170.60 104.90 L171.90 111.20 L174.40 115.00 L179.40 116.20 L184.50 120.00 L187.00 121.30"/>
<path d="M136.60 127.00 L136.60 123.80 L140.40 120.00 L144.20 117.50 L147.90 116.80 L151.70 116.20 L156.00 118.00 L160.00 121.00 L164.00 124.00 L167.00 127.00"/>
<path d="M159.60 84.70 L159.47 86.20 L159.10 87.30 L158.60 87.70 L158.10 87.30 L157.73 86.20 L157.60 84.70 L157.73 83.20 L158.10 82.10 L158.60 81.70 L159.10 82.10 L159.47 83.20 L159.60 84.70"/>
<path d="M167.00 103.60 L166.81 104.50 L166.30 105.16 L165.60 105.40 L164.90 105.16 L164.39 104.50 L164.20 103.60 L164.39 102.70 L164.90 102.04 L165.60 101.80 L166.30 102.04 L166.81 102.70 L167.00 103.60"/>
<path d="M166.50 39.60 L166.34 40.60 L165.90 41.33 L165.30 41.60 L164.70 41.33 L164.26 40.60 L164.10 39.60 L164.26 38.60 L164.70 37.87 L165.30 37.60 L165.90 37.87 L166.34 38.60 L166.50 39.60"/>
<path d="M10.40 123.80 L10.21 124.51 L9.71 124.94 L9.09 124.94 L8.59 124.51 L8.40 123.80 L8.59 123.09 L9.09 122.66 L9.71 122.66 L10.21 123.09 L10.40 123.80"/>
<path d="M177.10 33.40 L182.00 35.00 L187.30 36.00"/>
</g>
<text x="125.3" y="19.4" font-size="6.4" style="font-family:&quot;Liberation Serif&quot;,serif" fill="#858585" transform="rotate(0 125.3 19.4)">1015</text>
<text x="141.0" y="19.4" font-size="6.4" style="font-family:&quot;Liberation Serif&quot;,serif" fill="#858585" transform="rotate(0 141.0 19.4)">1015</text>
<text x="176.0" y="36.8" font-size="6.4" style="font-family:&quot;Liberation Serif&quot;,serif" fill="#858585" transform="rotate(0 176.0 36.8)">101</text>
<text x="45.0" y="69.5" font-size="6.4" style="font-family:&quot;Liberation Serif&quot;,serif" fill="#858585" transform="rotate(25 45.0 69.5)">1005</text>
<g stroke="#e8292b" stroke-width="1.35" fill="none" stroke-linejoin="miter" stroke-miterlimit="3">
<path d="M77.80 51.00 L75.00 48.60 L74.60 45.00 L73.40 43.00 L71.00 41.80 L68.20 41.00 L66.20 39.80 L65.40 37.40 L65.40 33.40 L65.60 30.80 L68.50 28.30 L70.00 29.80 L71.50 30.80 L74.00 28.80 L78.00 28.10 L88.60 28.20 L93.00 28.30 L95.00 29.30 L96.50 31.30 L96.00 32.80 L94.50 33.80 L94.00 35.80 L94.50 37.30 L96.50 37.80 L99.00 36.30 L101.00 36.30 L103.00 37.80 L103.50 40.30 L102.00 42.80 L99.00 43.80 L96.00 43.80 L93.00 42.80 L90.00 41.30 L87.00 40.60 L84.00 40.80 L82.00 41.80 L81.00 43.30 L81.50 44.80 L84.00 47.80 L85.00 49.80 L86.50 51.80 L87.50 54.80 L87.00 57.80 L85.00 59.80 L84.50 62.80 L86.00 64.30 L87.00 66.80 L84.00 70.30 L81.50 72.30 L78.50 73.30 L77.50 75.80 L78.00 78.80 L76.00 81.80 L73.00 82.30 L70.50 83.80 L68.00 85.80 L62.00 86.10 L58.00 85.80 L55.00 83.80 L53.50 80.80 L54.00 77.80 L56.00 75.30 L59.00 72.80 L61.00 71.50"/>
<path d="M77.80 51.00 L75.00 51.00 L73.40 49.40 L72.60 47.40 L70.20 45.00 L67.80 44.20 L65.80 45.00 L65.00 47.40 L65.80 50.20 L67.80 52.60 L70.20 55.00 L72.00 57.80 L72.00 62.80 L71.50 66.30 L68.50 66.30 L65.50 66.30 L63.50 67.80 L62.00 69.30"/>
<path d="M65.00 47.40 L64.20 45.80 L61.40 44.20 L57.40 43.80 L55.00 44.60 L53.40 47.00 L53.20 49.80 L54.20 52.00 L56.00 53.30 L59.00 50.80 L62.00 49.80 L64.50 49.30 L65.00 47.40"/>
<path d="M53.50 69.30 L55.00 67.30 L58.00 66.30 L60.50 67.30 L61.50 69.30 L60.00 71.80 L58.00 72.30 L55.50 71.80 L53.50 70.30 L53.50 69.30"/>
<path d="M59.90 72.80 L62.50 70.20 L65.10 72.80 L62.50 75.40 L59.90 72.80"/>
<path d="M24.90 44.20 L28.20 40.90 L31.50 44.20 L28.20 47.50 L24.90 44.20"/>
<path d="M33.60 50.60 L37.20 47.00 L40.80 50.60 L40.80 53.60 L37.20 57.20 L33.60 53.60 L33.60 50.60"/>
<path d="M53.20 57.30 L56.00 54.50 L58.80 57.30 L56.00 60.10 L53.20 57.30"/>
<path d="M44.20 76.30 L47.00 73.50 L49.80 76.30 L47.00 79.10 L44.20 76.30"/>
<path d="M90.40 18.50 L93.20 15.70 L96.00 18.50 L93.20 21.30 L90.40 18.50"/>
<path d="M97.20 20.00 L99.40 18.40 L103.00 18.40 L105.20 20.00 L105.20 22.61 L103.00 24.20 L99.40 24.20 L97.20 22.61 L97.20 20.00"/>
<path d="M106.40 18.80 L108.80 16.00 L111.60 12.80 L113.20 14.00 L115.20 16.00 L116.00 18.40 L118.00 18.60 L121.20 19.20 L124.00 21.20 L123.60 23.20 L121.20 24.40 L117.20 24.80 L114.00 24.00 L111.20 22.80 L108.40 21.20 L106.40 18.80"/>
<path d="M115.60 9.30 L118.40 6.50 L121.20 9.30 L118.40 12.10 L115.60 9.30"/>
<path d="M122.30 15.40 L125.10 12.60 L127.90 15.40 L125.10 18.20 L122.30 15.40"/>
<path d="M103.10 31.60 L106.00 28.70 L108.90 31.60 L106.00 34.50 L103.10 31.60"/>
</g>
</g></g>
<rect x="61.00" y="179.80" width="187.30" height="127.00" fill="none" stroke="#2a2a2a" stroke-width="1.1"/>
<path d="M61.00 179.80 h-3.5 M61.00 243.30 h-3.5 M61.00 306.80 h-3.5 M61.00 306.80 v3.5 M123.43 306.80 v3.5 M185.87 306.80 v3.5 M248.30 306.80 v3.5" stroke="#2a2a2a" stroke-width="1.0"/>
<text x="154.65" y="174.30" font-size="11" fill="#1a1a1a" stroke="#1a1a1a" stroke-width="0.18" text-anchor="middle" textLength="187.2" lengthAdjust="spacingAndGlyphs">FC: 20230901_00 | LT: -120 hrs | RTOT</text>
<text x="4.60" y="174.20" font-size="19.5" font-weight="bold" fill="#000" textLength="25.5" lengthAdjust="spacingAndGlyphs"><tspan font-size="21" dy="0">(</tspan>c<tspan font-size="21">)</tspan></text>
<text x="32.60" y="182.70" font-size="9.4" fill="#2a2a2a" textLength="21" lengthAdjust="spacingAndGlyphs">45°N</text>
<text x="32.60" y="246.20" font-size="9.4" fill="#2a2a2a" textLength="21" lengthAdjust="spacingAndGlyphs">35°N</text>
<text x="32.60" y="309.70" font-size="9.4" fill="#2a2a2a" textLength="21" lengthAdjust="spacingAndGlyphs">25°N</text>
<g clip-path="url(#cp3)">
<g transform="translate(297.10 179.80)" filter="url(#bl)">
<path d="M61.3 63l3.7 .1 3.5 .5 3 .7 3 .9 3.5 1.4 3.5 1.7 5.5 3 2.5 1.5 2 1.7 1.3 1.5 .9 1.5 .5 1.5 .1 1.5 -.2 1.5 -.9 2 -1 1.5 -1.8 2 -4.9 4.7 -4.5 3.8 -2 1.3 -2.5 1.3 -5 1.8 -3.5 .7 -3.5 .5 -12 .4 -8 .9 -3.5 .3 -2.5 -.1 -2.5 -.5 -2 -.7 -1.4 -.9 -1.4 -1.5 -1 -2 -.3 -2 .3 -2.5 .6 -2 2.6 -6.5 2.4 -7 1.3 -2.5 1.3 -2 1.8 -2 2.3 -2 2.5 -1.7 3 -1.5 3 -1.2 3.5 -.9 3.5 -.6 3.3 -.1z" fill="#edf4fc" fill-rule="evenodd"/>
<path d="M56.9 66l2.6 -.2 3.5 0 3.5 .4 3.5 .7 5.5 1.8 9.5 4.3 2 1.2 1.7 1.3 .9 1 1 1.5 .4 1 .1 1.5 -.3 1.5 -.7 1.5 -1.1 1.5 -1.5 1.5 -8.5 7.4 -4.5 2.8 -4.5 1.7 -3.5 .8 -3.5 .5 -11 .2 -9 .7 -4 -.3 -1.5 -.5 -1.5 -.8 -1.2 -1 -.9 -1.5 -.4 -2 .2 -2 1.2 -3.5 4.3 -10 1.5 -3 1.5 -2 1.4 -1.5 1.9 -1.6 2 -1.4 4.5 -2.2 2.5 -.8 2.4 -.5z" fill="#e3eef8" fill-rule="evenodd"/>
<path d="M55.7 68l2.3 -.4 3 0 3 .2 3.5 .5 5 1.4 8 3.1 4.5 2.2 2.4 2 .8 1 .5 1.5 .1 1 -.3 1.5 -.8 1.5 -1.7 1.9 -7 6.1 -3 2.1 -2.5 1.6 -2 1 -2.5 .9 -4.5 1 -4.5 .4 -8 0 -8 .3 -2.5 -.2 -2.2 -.6 -1.6 -1 -.9 -1 -.6 -1.5 0 -2 .3 -1.5 .7 -2 5.2 -11 2.5 -3.5 3.1 -2.8 4 -2.4 3.7 -1.3z" fill="#d8e7f5" fill-rule="evenodd"/>
<path d="M58.1 69l4.9 .2 6 1 6 2 7 2.8 2.5 1.5 1.1 1 .7 1 .4 1 .1 1 -.1 1 -.8 1.5 -1.2 1.5 -2 2 -5.7 4.6 -6 3.7 -2 .9 -2.5 .8 -3 .6 -3 .3 -14.5 0 -3.5 -.4 -1.5 -.4 -1 -.6 -1 -1 -.5 -1 -.1 -1.5 .2 -1.5 1.3 -3.5 3.3 -7 1.7 -3 1.5 -2 1.4 -1.5 3.2 -2.5 3.5 -1.8 3.6 -.7z" fill="#cee0f2" fill-rule="evenodd"/>
<path d="M56 70.5l2 -.3 2 -.1 6 .8 5.5 1.4 7 2.5 3.5 1.7 1.9 1.5 .7 1 .4 1 -.1 1 -.2 1 -1 1.5 -1.3 1.5 -2.9 2.7 -2.5 2 -2.5 1.6 -3.5 1.9 -2.7 1.3 -2.3 .8 -3.5 .8 -4.5 .3 -11.5 -.3 -2 -.3 -1.5 -.4 -1.4 -.9 -.8 -1 -.3 -1 .1 -1.5 .9 -3 3.8 -8 2.2 -3.5 2.5 -2.7 3 -2.1 3 -1.2z" fill="#c2d9ee" fill-rule="evenodd"/>
<path d="M56.2 71.5l3.3 -.4 5 .7 6 1.4 6.5 2.2 3.4 1.6 1.9 1.5 .8 1.5 .1 1 -.3 1 -.9 1.5 -1.3 1.5 -2.2 2.1 -2.5 1.9 -4 2.3 -7 3 -3.5 .7 -4 .3 -9 -.4 -2 -.3 -1.5 -.4 -1.3 -.7 -.7 -.9 -.4 -1.1 0 -1 .9 -3 2.9 -6.5 2 -3.5 2.5 -3 2.6 -1.9 2.7 -1.1z" fill="#b2d2e8" fill-rule="evenodd"/>
<path d="M56.1 72.5l2.9 -.4 3.5 .4 7 1.5 6 2 3.3 1.5 1.7 1.3 .6 .7 .3 1 -.2 1.5 -.8 1.5 -1.2 1.5 -2.2 2 -2 1.5 -3.5 1.8 -6.5 2.4 -3.5 .9 -4 .3 -7 -.3 -2 -.3 -1.5 -.4 -1 -.6 -.7 -.8 -.4 -1 0 -1 .5 -2.5 2 -5 1.8 -3.5 2.2 -3 2.1 -1.8 2.6 -1.2z" fill="#a1cbe2" fill-rule="evenodd"/>
<path d="M55.9 73.5l2.6 -.5 3 .3 7.5 1.7 5.5 1.7 2.8 1.3 1.8 1.5 .6 1.5 -.3 1.5 -1.3 2 -2.7 2.5 -2.9 1.8 -3.5 1.3 -6.5 1.5 -4 .5 -5.5 0 -3.5 -.7 -1.5 -.9 -.5 -.7 -.3 -.8 .2 -2.5 1 -3.5 1.8 -4 1.6 -2.5 2.2 -2 1.9 -1z" fill="#8cc0dd" fill-rule="evenodd"/>
<path d="M57.5 74l2 -.1 2.5 .4 8 2 4.5 1.5 2 1.2 1 1 .5 1.5 -.4 1.5 -1.4 2 -2.2 1.8 -2.5 1.4 -3 .9 -4.5 .8 -5.5 .5 -4 0 -3 -.7 -1.5 -1.1 -.4 -.6 -.3 -1 .2 -2.5 1 -3.5 1.4 -3 1.6 -2 2 -1.4 2 -.6z" fill="#77b5d9" fill-rule="evenodd"/>
<path d="M57.1 75l1.9 -.2 2 .3 8.5 2.1 3.5 1.2 1.9 1.1 1 1 .4 1 -.3 1.5 -.9 1.5 -1.7 1.5 -2.4 1.3 -2.5 .8 -4 .6 -5.5 .3 -3 -.1 -2.5 -.6 -1.5 -.9 -.8 -1.4 -.1 -2 .4 -2.5 1 -2.5 1.4 -2 1.6 -1.3 1.6 -.7z" fill="#63a8d3" fill-rule="evenodd"/>
<path d="M57.1 76l1.4 -.2 2 .2 8.5 2.2 2.4 .8 1.6 .8 1 1 .5 1.2 -.2 1 -1 1.5 -1.2 1 -1.6 .8 -2.2 .7 -3.3 .5 -5.5 .3 -2.5 -.2 -2 -.5 -1.5 -1 -.6 -1.1 -.3 -1.5 .1 -2 .7 -2 .9 -1.5 1.2 -1.2 1.6 -.8z" fill="#529dcc" fill-rule="evenodd"/>
<path d="M57.5 77l1.5 -.2 1.5 .3 9.5 2.8 1.1 .6 .9 .8 .3 .7 0 1 -.7 1 -1.1 .9 -1.4 .6 -1.6 .4 -7 .6 -2.5 -.1 -1.5 -.4 -1 -.5 -1 -1 -.5 -1.5 0 -1.5 .4 -1.5 .8 -1.5 1.2 -1 1.1 -.5z" fill="#4090c5" fill-rule="evenodd"/>
<path d="M57.3 78.5l1.2 -.4 1.5 .2 7.5 2.7 1 .5 .5 .5 .2 .5 -.1 .5 -.4 .5 -.9 .5 -2.3 .5 -5 .5 -1.5 -.1 -1.5 -.3 -1 -.6 -.5 -.5 -.5 -1.5 0 -1 .4 -1 .6 -.9 .8 -.6z" fill="#3383be" fill-rule="evenodd"/>
<path d="M58.8 80.5l.7 0 1 .4 .5 .6 -.1 .5 -.9 .5 -1 -.1 -.5 -.2 -.4 -.7 .1 -.5 .6 -.5z" fill="#2575b7" fill-rule="evenodd"/>
</g>
<g transform="translate(234.667 465.550) scale(6.24333 -6.35000)">
<g stroke="#c8c8c8" stroke-width="0.8" fill="none">
<path vector-effect="non-scaling-stroke" d="M20 25 L20 45 M30 25 L30 45 M10 35 L40 35"/>
</g>
<use href="#coast"/>
</g>
<g transform="translate(297.10 179.80)">
<g stroke="#8e8e8e" stroke-width="0.7" fill="none">
<path d="M38.00 7.50 L44.00 6.30 L48.00 5.70 L53.00 5.00 L58.00 6.30 L63.00 6.90 L66.00 7.40 L71.00 9.90 L73.50 12.40 L76.00 14.50 L81.00 15.80 L91.00 17.60 L96.00 15.10 L101.00 12.60 L106.00 11.30 L111.00 8.80 L115.00 6.30 L118.90 2.50 L122.60 0.00"/>
<path d="M75.00 10.60 L79.00 8.60 L83.00 6.30 L90.00 5.50 L95.00 8.60 L93.70 11.10 L88.00 11.80 L81.00 12.40 L77.40 13.60 L75.00 10.60"/>
<path d="M49.10 6.30 L50.40 9.40 L54.20 12.60 L56.00 14.50 L57.90 16.40"/>
<path d="M46.60 16.40 L47.90 18.90 L50.40 21.40 L49.10 25.20 L46.60 29.00 L44.10 31.50 L41.60 40.30 L37.80 44.10 L35.30 46.60"/>
<path d="M18.30 52.90 L20.80 52.90 L23.30 55.40 L25.20 57.90 L26.40 60.80 L25.80 65.80 L21.40 68.40 L20.20 69.60 L24.60 73.40 L27.10 78.40 L29.00 83.50 L31.50 91.00 L34.00 97.30 L36.50 102.40 L37.80 104.90 L34.00 105.50 L30.50 105.50"/>
<path d="M15.50 106.80 L12.60 109.90 L10.10 113.70 L6.90 116.80 L8.80 120.00 L12.60 122.50 L16.40 127.00"/>
<path d="M46.80 111.40 L46.48 112.40 L45.60 113.13 L44.40 113.40 L43.20 113.13 L42.32 112.40 L42.00 111.40 L42.32 110.40 L43.20 109.67 L44.40 109.40 L45.60 109.67 L46.48 110.40 L46.80 111.40"/>
<path d="M87.40 83.50 L87.21 85.10 L86.65 86.62 L85.74 87.99 L84.54 89.13 L83.10 89.99 L81.49 90.52 L79.80 90.70 L78.11 90.52 L76.50 89.99 L75.06 89.13 L73.86 87.99 L72.95 86.62 L72.39 85.10 L72.20 83.50 L72.39 81.90 L72.95 80.38 L73.86 79.01 L75.06 77.87 L76.50 77.01 L78.11 76.48 L79.80 76.30 L81.49 76.48 L83.10 77.01 L84.54 77.87 L85.74 79.01 L86.65 80.38 L87.21 81.90 L87.40 83.50"/>
<path d="M86.70 84.10 L86.48 85.46 L85.86 86.69 L84.89 87.66 L83.66 88.28 L82.30 88.50 L80.94 88.28 L79.71 87.66 L78.74 86.69 L78.12 85.46 L77.90 84.10 L78.12 82.74 L78.74 81.51 L79.71 80.54 L80.94 79.92 L82.30 79.70 L83.66 79.92 L84.89 80.54 L85.86 81.51 L86.48 82.74 L86.70 84.10"/>
<path d="M62.20 91.00 L60.00 86.00 L62.00 81.00 L66.00 77.20 L73.50 72.90 L81.00 70.90 L92.40 70.20 L101.20 72.80 L107.50 75.90 L110.60 80.90 L111.30 85.40 L108.80 87.90 L102.50 88.50 L97.40 91.00"/>
<path d="M80.00 96.10 L73.50 95.40 L66.00 92.30 L62.20 91.00"/>
<path d="M55.00 94.00 L60.90 96.10 L64.70 99.80 L71.00 103.60 L78.50 106.10 L86.10 109.90 L92.40 113.70 L97.40 118.70 L102.50 123.80 L105.00 127.00"/>
<path d="M123.90 35.60 L129.00 31.80 L134.10 27.30 L140.50 33.70 L149.50 36.30 L154.60 38.80 L161.00 38.20 L167.40 36.90 L172.50 33.10 L177.70 32.40 L187.90 33.10"/>
<path d="M105.00 42.00 L112.00 43.50 L118.00 45.00 L123.90 46.50 L130.30 49.10 L136.70 51.00 L143.10 51.00 L149.50 49.10 L155.90 47.20 L162.30 44.60 L168.70 43.30 L175.10 41.40 L181.50 38.20 L187.90 35.60"/>
<path d="M187.90 43.30 L181.50 44.60 L175.10 45.90 L171.30 48.50 L168.70 52.30 L167.40 54.80 L168.70 58.70 L172.50 61.20 L178.00 63.00 L184.00 64.00 L187.90 63.50"/>
<path d="M184.00 7.50 L177.70 9.40 L175.80 12.60 L177.70 16.40 L184.10 17.70 L187.90 17.10"/>
<path d="M131.60 65.90 L136.70 63.40 L149.50 62.70 L154.60 64.60 L149.50 67.20 L143.10 67.20 L134.10 67.20 L131.60 65.90"/>
<path d="M131.50 101.50 L131.28 103.24 L130.67 104.63 L129.79 105.40 L128.81 105.40 L127.93 104.63 L127.32 103.24 L127.10 101.50 L127.32 99.76 L127.93 98.37 L128.81 97.60 L129.79 97.60 L130.67 98.37 L131.28 99.76 L131.50 101.50"/>
<path d="M150.30 101.80 L150.15 102.74 L149.75 103.32 L149.25 103.32 L148.85 102.74 L148.70 101.80 L148.85 100.86 L149.25 100.28 L149.75 100.28 L150.15 100.86 L150.30 101.80"/>
<path d="M154.60 104.30 L159.70 106.90 L164.90 110.70 L168.70 114.60 L172.50 117.10 L177.70 118.40 L181.50 122.30 L185.40 124.80 L187.30 126.00"/>
<path d="M92.00 61.00 L96.00 64.50 L101.00 68.00 L104.00 70.50"/>
</g>
<text x="54.5" y="18.6" font-size="6.4" style="font-family:&quot;Liberation Serif&quot;,serif" fill="#858585" transform="rotate(0 54.5 18.6)">1020</text>
<text x="17.5" y="109.8" font-size="6.4" style="font-family:&quot;Liberation Serif&quot;,serif" fill="#858585" transform="rotate(0 17.5 109.8)">1015</text>
<text x="84.5" y="99.3" font-size="6.4" style="font-family:&quot;Liberation Serif&quot;,serif" fill="#858585" transform="rotate(-28 84.5 99.3)">1005</text>
<g stroke="#e8292b" stroke-width="1.35" fill="none" stroke-linejoin="miter" stroke-miterlimit="3">
<path d="M53.30 72.20 L56.90 69.20 L59.90 68.60 L62.90 66.20 L80.30 66.20 L83.90 69.20 L87.50 72.80 L91.10 74.00 L93.50 76.40 L97.10 77.00 L99.50 78.80 L98.30 81.20 L94.70 81.80 L92.30 82.40 L90.50 85.40 L89.30 84.20 L87.50 82.40 L86.90 80.60 L89.30 79.40 L86.90 79.40 L84.50 81.20 L82.70 82.40 L80.30 83.00 L78.50 84.80 L77.90 88.40 L76.70 92.60 L74.90 93.80 L69.50 94.20 L65.30 93.80 L62.30 92.00 L59.90 94.40 L58.10 93.20 L55.70 90.20 L53.30 88.40 L52.70 83.60 L52.70 77.60 L53.30 72.20"/>
<path d="M118.40 47.50 L121.20 44.70 L124.00 47.50 L121.20 50.30 L118.40 47.50"/>
</g>
</g></g>
<rect x="297.10" y="179.80" width="187.30" height="127.00" fill="none" stroke="#2a2a2a" stroke-width="1.1"/>
<path d="M297.10 179.80 h-3.5 M297.10 243.30 h-3.5 M297.10 306.80 h-3.5 M297.10 306.80 v3.5 M359.53 306.80 v3.5 M421.97 306.80 v3.5 M484.40 306.80 v3.5" stroke="#2a2a2a" stroke-width="1.0"/>
<text x="390.75" y="174.30" font-size="11" fill="#1a1a1a" stroke="#1a1a1a" stroke-width="0.18" text-anchor="middle" textLength="187.2" lengthAdjust="spacingAndGlyphs">FC: 20230906_00 | LT: -120 hrs | RTOT</text>
<text x="267.90" y="174.20" font-size="19.5" font-weight="bold" fill="#000" textLength="25.5" lengthAdjust="spacingAndGlyphs"><tspan font-size="21" dy="0">(</tspan>d<tspan font-size="21">)</tspan></text>
<g clip-path="url(#cp4)">
<g transform="translate(61.00 332.40)" filter="url(#bl)">
<path d="M114.9 10l2.1 -.1 2 .3 1.5 .8 1 .9 .6 1.1 .4 1.5 -.1 1.5 -.7 2 -1 1.5 -1.7 1.7 -1.5 1.1 -2 1 -2 .6 -2 .2 -2 -.2 -1.5 -.6 -1.5 -1.2 -.8 -1.6 -.1 -2 .7 -2.5 1.4 -2 2.3 -2 2.5 -1.3 2.4 -.7zM66.3 24.5l2.7 -.3 4.5 .4 6.5 .3 4.5 .7 4 1.3 3 1.4 2.1 1.7 .8 1 .6 1.5 .2 1 -.1 1.5 -.9 2.5 -3 4 -.3 1 -.1 3.5 -.5 1.5 -.8 1.5 -2.2 2.5 -.9 1.5 -1.7 6.5 -3.3 10.5 -1.3 3 -2.1 3.2 -2.1 2.3 -2.4 2 -2.5 1.6 -2.5 1.1 -3 .9 -3 .5 -3.5 .1 -3 -.3 -3 -.9 -2.5 -1.3 -1.7 -1.7 -1.7 -2.5 -2.4 -4.5 -1.3 -3.5 -.7 -4 .2 -4 .9 -3.5 1.4 -3 1.8 -2.6 2.3 -2.4 2.2 -1.7 2 -1.1 3 -1.2 5.5 -1.3 1 -.7 .9 -1 .4 -1 .1 -1.5 -.9 -6.2 -1.6 -4.3 -.1 -2 .6 -1.5 .9 -1 1.2 -.8 1.8 -.7z" fill="#edf4fc" fill-rule="evenodd"/>
<path d="M113.4 12l1.6 -.4 1.5 0 1.5 .3 1 .6 .6 .5 .6 1 .2 1 -.1 1.5 -.6 1.5 -.7 1 -1 1.1 -1.5 1 -1.5 .8 -1.5 .4 -1.5 .1 -1.5 -.2 -1.5 -.7 -1 -1 -.4 -1.5 .1 -1.5 .9 -2 1.3 -1.5 1.6 -1.1 1.9 -.9zM66.6 26l2.4 -.4 10 0 2.5 .2 3.5 1 4.5 1.8 2.5 1.7 .9 1.2 .5 1 .3 1 0 1.5 -.5 1.5 -.5 1 -2.8 3.5 -.3 1 .1 3.5 -.4 1.5 -.9 1.5 -2.3 2.5 -.6 1 -.5 1.1 -1.9 6.4 -2.1 4.7 -1.7 4.8 -1.1 2 -1 1.5 -2.2 2.3 -3 2.6 -2.5 1.7 -2.5 1.3 -3 1.1 -3 .7 -2.5 .2 -2.5 -.2 -2 -.7 -1.5 -.8 -1.1 -1.2 -.9 -1.5 -3.4 -9.5 -.4 -3.5 .3 -3 .7 -2.5 1 -2 1.3 -2 1.5 -1.6 2 -1.6 2.5 -1.4 2 -.7 3.5 -.7 1.5 -.7 1.5 -1.5 1.8 -2.8 .6 -1.5 0 -1 -1.3 -4 -.8 -4.5 -1 -3 -.1 -1 .1 -1 .6 -1 1.1 -1 1.1 -.5z" fill="#e3eef8" fill-rule="evenodd"/>
<path d="M114.3 13l2.2 0 1.5 .7 .8 1.3 .1 1 -.2 1 -.5 1 -.8 1 -1.9 1.4 -1 .4 -1.5 .3 -2 -.2 -1 -.6 -.6 -.8 -.3 -1 .2 -1.5 .9 -1.5 1 -1 1.3 -.9 1.8 -.6zM69.8 26.5l6.7 -.4 3 0 3 .6 3 1 3.5 1.5 1.5 1 .9 .8 .7 1 .5 1 .2 1 -.2 1.5 -.9 2 -2.2 2.5 -.7 1 -.2 1 .3 3 -.3 1.5 -.8 1.5 -2.3 2.5 -.9 1.5 -2.2 7 -2.4 4.6 -2 4.9 -1.5 2.5 -2 2 -4.5 3.6 -2.5 1.8 -2 1.1 -2.5 1 -2.5 .5 -2.5 .2 -2 -.3 -1.5 -.6 -1 -.7 -.9 -1.1 -.5 -1 -.3 -1.5 -.4 -3.5 -1.3 -4 -.4 -2 0 -2.5 .3 -2 .7 -2 1.1 -2 1.2 -1.5 1.5 -1.3 2.5 -1.5 2 -.7 3.5 -.8 1.5 -1 4.4 -7.2 .3 -1 0 -.5 -2.2 -5 -1.3 -8 .3 -1 1 -1.1 1.5 -.6 1.8 -.3z" fill="#d8e7f5" fill-rule="evenodd"/>
<path d="M113.4 14.5l1.6 -.3 1.4 .3 .6 .5 .3 .5 .1 1 -.7 1.5 -1.1 1 -1.6 .7 -1.5 .1 -.9 -.3 -.6 -.5 -.3 -.5 -.1 -1 .4 -1 .5 -.7 .9 -.8 1 -.5zM76.6 26.5l3.9 .2 3.5 1 3.5 1.5 2 1.1 1.4 1.2 .7 1 .4 1.5 -.3 2 -.8 1.5 -2.4 2.5 -.6 1 -.1 1 .4 3 -.3 1.5 -.6 1 -2.3 2.5 -.9 1.5 -2.3 7 -2.8 5 -2.1 5 -1.8 2.5 -7.6 6.1 -3 1.8 -2 .8 -2.5 .5 -2 .1 -2 -.5 -1 -.5 -.9 -.8 -.6 -1 -.3 -1 -.1 -1.5 .3 -4 -1 -4 -.2 -2 .2 -2 .5 -1.5 1.4 -2.5 2.2 -2.1 2.5 -1.2 4 -1 1.5 -.9 1 -1.5 1.2 -3.3 .8 -1.5 1 -1.3 2.1 -2.2 .1 -.5 -.3 -1 -2.2 -3 -1.1 -2.5 -.7 -6.5 .3 -1.5 1 -1 1.3 -.5 7.6 -1z" fill="#cee0f2" fill-rule="evenodd"/>
<path d="M113.9 16l.6 -.1 .5 .2 .3 .4 -.1 .5 -.7 .8 -.5 .2 -.8 0 -.5 -.5 .1 -.5 .3 -.5 .8 -.5zM75.5 27l3 -.2 3 .5 2.5 .9 4.5 2.1 1.6 1.2 1 1.5 .3 1.5 -.3 1.5 -.9 1.5 -2.9 3 -.3 1 .6 3.5 -.4 1.5 -.7 1.1 -2 2.1 -.8 1.3 -2.3 7 -3 5 -1.8 4.5 -1.1 1.8 -2 1.9 -3.2 2.3 -3.8 3.3 -2 1.3 -2 .9 -2 .5 -2 .1 -1.5 -.3 -1 -.5 -1 -.8 -.5 -1 -.3 -1 .1 -1.5 1.1 -4.5 -.5 -5 .4 -2.5 1.2 -2 1.6 -1.5 1.9 -1 4 -1.1 1.5 -1 .9 -1.4 1 -4 .8 -2 1.3 -1.5 2 -1.2 .7 -.8 .3 -1 -.2 -1 -3.3 -3.5 -.6 -1 -.7 -1.5 -.3 -2.5 .1 -4 .5 -1.3 1 -.8 2 -.6 4.5 -.8z" fill="#c2d9ee" fill-rule="evenodd"/>
<path d="M74.8 27.5l3.2 -.3 2.5 .2 2.5 .9 4.5 2 1.5 .9 1.2 1.3 .6 1.5 -.1 1.5 -.4 1 -.7 1 -3 3 -.3 1 .7 3 -.2 1.5 -.5 1 -2.3 2.5 -.6 1 -.7 1.5 -1.6 5.5 -1.1 2 -2.1 3 -1.8 4.5 -1.1 1.7 -1.5 1.6 -4 2.6 -3.2 3.1 -2.1 1.5 -1.7 .8 -2 .5 -1.5 .1 -1.5 -.3 -1 -.4 -.7 -.7 -.5 -1 -.1 -1 .4 -2 1.8 -3.5 .5 -1.5 .1 -3.5 .5 -2 .7 -1 1.1 -1 5.2 -2.8 1.5 -1.2 .8 -1.5 .5 -4 .7 -2 1 -1.1 2.5 -1.7 .5 -.7 .5 -1.4 0 -1.1 -.4 -1 -3.3 -3 -.8 -1.1 -.7 -1.4 -.3 -1.5 0 -1.5 .1 -2 .4 -1.5 .7 -1 .8 -.6 2 -.7 2.8 -.7z" fill="#b2d2e8" fill-rule="evenodd"/>
<path d="M74.4 28l3.1 -.5 2.5 .2 2 .6 4.5 2 2 1.1 1.1 1.1 .7 1.5 -.1 1.5 -.5 1 -.7 1 -2.3 2 -.8 1 -.3 1 .8 3 -.2 1.5 -.6 1 -1.8 2 -.8 1.2 -.6 1.3 -1.1 4 -.7 2 -1.1 1.8 -2.4 3.2 -1.5 4 -1.1 1.8 -1.8 1.7 -3.7 2.2 -3.1 3.3 -2 1.5 -1.4 .7 -1.5 .4 -1.5 .2 -1.5 -.3 -1 -.5 -.7 -1 -.2 -1.5 .5 -1.5 1.4 -2.1 2.9 -3.4 .4 -1 .5 -3 .8 -1.5 1.4 -1.5 4 -2.9 .9 -1.1 .5 -1.5 .1 -3 .3 -1.5 .7 -1 2.5 -2.3 1 -1.9 .3 -1.8 -.3 -1.4 -.9 -1.1 -2.1 -1.6 -1.3 -1.4 -1 -2 -.2 -2 .5 -3 .9 -1.5 1.6 -1 2.9 -1z" fill="#a1cbe2" fill-rule="evenodd"/>
<path d="M76.2 28l2.3 -.2 2 .4 2 .7 5 2.4 1 .7 .9 1 .4 1 -.1 1.5 -.9 1.5 -2.8 2.5 -.9 1 -.3 1 1 3 -.3 1.5 -2.9 4 -.7 1.5 -1 4 -.6 1.5 -1.2 2 -2.6 3 -1.4 4 -1.1 2 -2 1.6 -4 2 -2.6 3.4 -1.8 1.5 -1.1 .6 -1.5 .4 -1.5 .1 -1 -.2 -1 -.6 -.5 -.8 0 -1 .5 -1.4 1.5 -1.9 3.5 -2.5 .7 -.7 .4 -1 .1 -3 .9 -2 1.4 -1.5 3.5 -2.5 .7 -1 .4 -1 .2 -3 .3 -1.5 .6 -1 1.8 -2.4 1.2 -3.1 .3 -2 -.5 -1.3 -.6 -.7 -3.2 -2.5 -.8 -1 -.5 -1 -.4 -2 .4 -2.5 .7 -1.5 1.4 -1.2 2.5 -1.2 2.2 -.6z" fill="#8cc0dd" fill-rule="evenodd"/>
<path d="M75.7 28.5l2.3 -.3 2 .2 1.7 .6 4.8 2.2 1.3 .8 1 1 .5 1 -.1 1.5 -.9 1.5 -2.9 2.5 -1.2 1.5 -.1 1 1 2.5 -.2 1.5 -1.9 2.5 -.9 1.5 -.6 1.5 -1.1 4 -.9 2 -1 1.4 -2.2 2.1 -.7 1 -.9 3.5 -1.1 2 -1.1 1 -1.5 .9 -4.6 1.1 -.3 .5 -.5 2 -.4 1 -.8 1 -1.2 1 -2.2 .9 -1 .1 -1 -.3 -.5 -.2 -.6 -1 .1 -1 .5 -1 1 -1.1 1.5 -1 4.3 -1.4 .2 -.5 0 -.5 -.4 -2.5 -.1 -1.5 .7 -2 1.2 -1.5 3.8 -2.5 .7 -1 .7 -5 2.4 -5 .9 -3 .2 -1.5 -.2 -1 -.7 -1 -3.2 -2.3 -1.4 -1.7 -.6 -1.5 0 -2 .5 -1.5 1.1 -1.5 2.2 -1.5 2.4 -1z" fill="#77b5d9" fill-rule="evenodd"/>
<path d="M75.7 29l1.8 -.4 2 .1 1.5 .4 4.5 2 1.7 .9 1.1 1 .5 1 .1 1 -.4 1 -.7 1 -3.1 2.5 -1.3 1.5 -.2 1 1.1 2.5 0 1 -2.7 4.5 -1.4 5 -.9 2 -1.3 1.7 -3 2.3 -.4 1 -.6 3.5 -1 1.7 -1 .9 -1 .5 -1.5 .3 -1 0 -1 -.4 -1 -1.3 -.4 -1.7 .2 -1.5 .7 -1.3 1 -1 1.5 -.9 2 -.9 .6 -.4 .4 -.5 .4 -5.5 2.1 -5 1 -3.5 .2 -1.5 -.1 -1 -.7 -1 -3.5 -2.5 -1.3 -1.5 -.6 -1.5 0 -2 .5 -1.3 1 -1.2 2.2 -1.5 2 -1zM61 72.5l1.5 -.5 1 .1 .6 .4 .1 1 -.5 1 -1.1 1 -1.1 .5 -1.5 .1 -.9 -.6 0 -1 .6 -1 1.3 -1z" fill="#63a8d3" fill-rule="evenodd"/>
<path d="M77.8 29l1.2 0 1.5 .4 5.9 2.6 1.1 .8 .6 .7 .3 1.5 -.4 1 -.7 1 -3.8 3 -1.1 1.5 0 1 1 2 .1 1 -2.4 4.5 -1.4 5 -.6 1.5 -1.1 1.4 -1 .8 -1 .4 -1 .1 -.6 -.2 -.6 -1 -.3 -1.5 -.1 -2 .4 -1.5 1.9 -5 1 -3.5 .2 -1.5 -.4 -1 -.4 -.5 -3.5 -2.5 -1.2 -1 -.9 -1.5 -.2 -1.5 .4 -1.5 .6 -1 .7 -.6 3.9 -2.4 1.9 -.5zM70.3 61.5l1.7 -.2 1 .4 .5 1.1 0 1.7 -.5 1.5 -.7 1 -1.3 .8 -1.5 .2 -1 -.3 -.8 -.7 -.5 -1 -.1 -1 .2 -1 .7 -1.1 1 -.8 1.3 -.6zM61.5 74l0 .5 0 -.5z" fill="#529dcc" fill-rule="evenodd"/>
<path d="M76.4 30l1.1 -.4 1 -.1 1.5 .3 1.5 .5 3.5 1.4 1.5 .8 1.1 1 .3 1 -.1 1 -.8 1.2 -4.2 3.3 -1.4 1.5 -.2 1 1.2 2 .1 .5 -.1 1 -1.9 4 -1.1 4.5 -.6 1.5 -1.3 1.5 -1.5 .6 -1 -.3 -.5 -.7 -.3 -1.1 -.1 -1.5 .4 -1.5 1.4 -3.5 1.8 -6 0 -1 -.3 -.5 -1.1 -1 -3.1 -2 -1.2 -1 -1 -1.5 -.2 -1.5 .4 -1.5 .8 -.9 4.4 -2.6zM70.5 62.5l1 0 .5 .3 .5 .7 .1 1 -.2 1 -.8 1 -.6 .3 -1 .2 -1.2 -.5 -.4 -.5 -.2 -1 .2 -1 .4 -.5 .7 -.6 1 -.4z" fill="#4090c5" fill-rule="evenodd"/>
<path d="M77.1 30.5l.9 -.3 1.5 0 4.5 1.4 2.6 1.4 .4 .5 .4 1 -.1 1 -1.1 1.5 -6.7 4.9 -1 -.2 -5 -2.9 -1.5 -1.3 -.7 -1.5 0 -1.5 1 -1.5 1.2 -.8 3.6 -1.7zM79.3 43.5l.7 0 1 .9 .4 .6 .1 1 -1.8 4.5 -.7 3.4 -.5 1.4 -1 1.3 -.6 .4 -.9 .1 -.5 -.3 -.5 -.8 -.2 -1 .2 -1.5 1.4 -3.5 1.4 -4.5 .7 -1.4 .8 -.6zM69.9 64.5l.6 -.3 .5 .2 .1 .6 -.6 .4 -.5 -.1 -.1 -.3 0 -.5z" fill="#3383be" fill-rule="evenodd"/>
<path d="M77.8 31l1.2 -.2 1.5 .2 2.5 .6 2.1 .9 .9 .6 .8 .9 .2 1 -.4 1 -.9 1 -1.7 1.3 -3 1.9 -1.5 .6 -1.5 -.1 -3 -1.4 -2 -1.3 -.8 -1 -.5 -1.5 .1 -1 .7 -1 1 -.8 4.3 -1.7zM79.2 45.5l.3 -.1 .5 .2 .2 .4 -.1 1 -1.3 3.5 -.3 2.5 -.4 1.5 -.6 1 -.5 .3 -.5 .1 -.5 -.3 -.2 -.6 0 -1.5 1.6 -3.5 .9 -3.5 .9 -1z" fill="#2575b7" fill-rule="evenodd"/>
<path d="M78.2 31.5l1.3 -.2 2 .3 2 .6 1.5 .7 .9 .6 .5 1 .1 .5 -.4 1 -.9 1 -1.7 1.2 -2 1.3 -1.5 .6 -1 .2 -1 -.1 -3 -1.3 -1.4 -.9 -.9 -1 -.6 -1.5 .3 -1 .6 -.8 1 -.7 4.2 -1.5z" fill="#1967ad" fill-rule="evenodd"/>
<path d="M78.1 32l1.4 -.2 1.5 .1 3 .8 1 .6 .7 .7 .2 .5 -.1 1 -.6 1 -1.2 1 -2 1.3 -1.5 .7 -2 .3 -2.5 -.7 -1.8 -1.1 -1 -1 -.5 -1 0 -1 .6 -1 .7 -.5 1.5 -.7 2.6 -.8z" fill="#0f5aa3" fill-rule="evenodd"/>
<path d="M77.8 32.5l2.7 -.3 1.5 .2 1.5 .5 1.6 1.1 .3 .5 -.1 1 -.6 1 -1.2 1 -3 1.6 -2 .3 -2 -.5 -2.3 -1.4 -.8 -1 -.2 -1 .3 -.9 .6 -.6 1.4 -.8 2.3 -.7z" fill="#084c95" fill-rule="evenodd"/>
<path d="M77.3 33l2.7 -.4 1.5 .1 1.3 .3 1.7 1 .3 .5 0 1 -1.2 1.5 -2.6 1.6 -2 .4 -2 -.3 -1.5 -.7 -1 -.8 -.6 -.7 -.2 -1 .5 -1 .7 -.5 2.4 -1z" fill="#083e81" fill-rule="evenodd"/>
<path d="M78.9 33l2.1 -.1 2 .6 1.2 1 .1 .5 -.3 1 -1.7 1.5 -2.3 1 -2 .1 -2 -.7 -1 -.8 -.5 -.6 -.2 -1 .2 -.5 .5 -.5 1 -.6 2.9 -.9z" fill="#08306b" fill-rule="evenodd"/>
</g>
<g transform="translate(-1.433 618.150) scale(6.24333 -6.35000)">
<g stroke="#c8c8c8" stroke-width="0.8" fill="none">
<path vector-effect="non-scaling-stroke" d="M20 25 L20 45 M30 25 L30 45 M10 35 L40 35"/>
</g>
<use href="#coast"/>
</g>
<g transform="translate(61.00 332.40)">
<g stroke="#8e8e8e" stroke-width="0.7" fill="none">
<path d="M0.00 8.60 L3.20 9.00 L8.00 9.80 L14.80 11.00 L17.20 13.00 L19.60 16.60 L21.60 19.00 L24.00 19.60 L26.00 18.60 L25.60 17.00 L24.00 13.40 L23.20 7.40 L26.80 0.00"/>
<path d="M0.00 36.50 L4.00 34.20 L8.80 31.40 L12.00 29.80 L19.20 26.20 L22.00 25.40 L30.00 23.00 L41.20 19.80 L46.00 16.60 L49.20 15.40"/>
<path d="M38.00 6.20 L42.80 7.40 L50.00 10.20 L56.40 13.00 L62.00 15.80 L64.40 15.40 L67.60 17.00 L70.00 16.20 L74.00 15.40 L78.00 17.00 L80.80 17.00 L84.00 19.00 L90.40 19.80 L96.00 17.00 L100.00 15.40 L104.80 14.20 L109.60 11.80 L112.80 8.60 L115.20 4.60 L116.50 2.00 L118.00 0.00"/>
<path d="M118.00 18.40 L124.00 17.60"/>
<path d="M153.00 16.80 L156.00 17.00"/>
<path d="M138.00 15.40 L142.00 13.80 L147.60 11.00 L152.40 7.00 L158.00 3.60 L161.80 0.00"/>
<path d="M124.00 30.50 L125.00 30.00 L128.70 28.50 L131.60 28.10 L140.40 26.90 L149.20 26.30 L156.70 26.90 L160.50 28.80 L161.80 30.70 L160.50 32.50 L161.80 33.80 L165.60 30.70 L169.30 27.50 L172.10 30.30 L174.40 31.30 L177.10 33.40"/>
<path d="M124.00 30.50 L120.00 31.50 L117.00 33.00"/>
<path d="M24.50 47.00 L23.90 49.70 L22.00 56.00 L20.00 61.00 L17.50 66.00 L16.40 70.90 L17.00 75.90 L20.20 77.20 L24.60 79.10 L26.40 83.50 L29.00 87.90 L32.70 92.30 L34.60 97.30 L35.90 102.40 L34.00 104.30 L29.00 105.50 L22.70 106.10 L15.10 108.00 L11.30 109.90 L5.00 109.90 L1.30 109.30 L0.00 109.30"/>
<path d="M36.00 46.00 L39.00 42.80 L44.10 39.00 L50.40 36.50 L56.70 35.20 L63.00 34.60 L70.00 34.30 L80.40 34.40 L90.00 35.50 L97.20 37.40 L104.00 40.50 L110.30 44.90 L114.00 50.00 L115.50 56.00 L114.90 60.80 L117.40 65.80 L119.30 70.90 L120.60 75.90 L121.20 81.00 L121.80 84.70 L124.00 84.90 L130.00 87.50 L137.90 91.00 L135.30 92.90 L131.60 94.20 L130.30 97.30 L129.70 103.60 L129.00 108.70 L126.50 112.40 L125.30 116.20 L124.00 120.00 L123.00 127.00"/>
<path d="M47.07 73.25 L46.02 71.83 L45.23 70.26 L44.72 68.59 L44.51 66.87 L44.59 65.13 L44.98 63.43 L45.66 61.81 L46.60 60.33 L47.79 59.01 L49.19 57.90 L50.76 57.02 L52.47 56.41 L54.25 56.07 L56.08 56.01 L57.88 56.25 L59.62 56.76 L61.25 57.55 L62.72 58.58 L63.99 59.82 L65.03 61.25"/>
<path d="M187.00 43.90 L179.60 44.50 L173.40 46.40 L172.10 51.40 L174.60 56.30 L178.30 58.80 L179.40 60.80 L176.90 64.60 L178.20 68.40 L183.20 72.10 L184.50 77.20 L183.20 81.00 L180.70 84.70 L174.40 82.20 L169.30 82.80 L168.00 87.30 L170.60 91.00 L171.20 98.60 L170.60 104.90 L171.90 111.20 L174.40 115.00 L179.40 116.20 L184.50 120.00 L187.00 121.30"/>
<path d="M136.60 127.00 L136.60 123.80 L140.40 120.00 L144.20 117.50 L147.90 116.80 L151.70 116.20 L156.00 118.00 L160.00 121.00 L164.00 124.00 L167.00 127.00"/>
<path d="M159.60 84.70 L159.47 86.20 L159.10 87.30 L158.60 87.70 L158.10 87.30 L157.73 86.20 L157.60 84.70 L157.73 83.20 L158.10 82.10 L158.60 81.70 L159.10 82.10 L159.47 83.20 L159.60 84.70"/>
<path d="M167.00 103.60 L166.81 104.50 L166.30 105.16 L165.60 105.40 L164.90 105.16 L164.39 104.50 L164.20 103.60 L164.39 102.70 L164.90 102.04 L165.60 101.80 L166.30 102.04 L166.81 102.70 L167.00 103.60"/>
<path d="M166.50 39.60 L166.34 40.60 L165.90 41.33 L165.30 41.60 L164.70 41.33 L164.26 40.60 L164.10 39.60 L164.26 38.60 L164.70 37.87 L165.30 37.60 L165.90 37.87 L166.34 38.60 L166.50 39.60"/>
<path d="M10.40 123.80 L10.21 124.51 L9.71 124.94 L9.09 124.94 L8.59 124.51 L8.40 123.80 L8.59 123.09 L9.09 122.66 L9.71 122.66 L10.21 123.09 L10.40 123.80"/>
<path d="M177.10 33.40 L182.00 35.00 L187.30 36.00"/>
</g>
<text x="125.3" y="19.4" font-size="6.4" style="font-family:&quot;Liberation Serif&quot;,serif" fill="#858585" transform="rotate(0 125.3 19.4)">1015</text>
<text x="141.0" y="19.4" font-size="6.4" style="font-family:&quot;Liberation Serif&quot;,serif" fill="#858585" transform="rotate(0 141.0 19.4)">1015</text>
<text x="176.0" y="36.8" font-size="6.4" style="font-family:&quot;Liberation Serif&quot;,serif" fill="#858585" transform="rotate(0 176.0 36.8)">101</text>
<text x="45.0" y="69.5" font-size="6.4" style="font-family:&quot;Liberation Serif&quot;,serif" fill="#858585" transform="rotate(25 45.0 69.5)">1005</text>
<g stroke="#e8292b" stroke-width="1.35" fill="none" stroke-linejoin="miter" stroke-miterlimit="3">
<path d="M77.80 51.00 L75.00 48.60 L74.60 45.00 L73.40 43.00 L71.00 41.80 L68.20 41.00 L66.20 39.80 L65.40 37.40 L65.40 33.40 L65.60 30.80 L68.50 28.30 L70.00 29.80 L71.50 30.80 L74.00 28.80 L78.00 28.10 L88.60 28.20 L93.00 28.30 L95.00 29.30 L96.50 31.30 L96.00 32.80 L94.50 33.80 L94.00 35.80 L94.50 37.30 L96.50 37.80 L99.00 36.30 L101.00 36.30 L103.00 37.80 L103.50 40.30 L102.00 42.80 L99.00 43.80 L96.00 43.80 L93.00 42.80 L90.00 41.30 L87.00 40.60 L84.00 40.80 L82.00 41.80 L81.00 43.30 L81.50 44.80 L84.00 47.80 L85.00 49.80 L86.50 51.80 L87.50 54.80 L87.00 57.80 L85.00 59.80 L84.50 62.80 L86.00 64.30 L87.00 66.80 L84.00 70.30 L81.50 72.30 L78.50 73.30 L77.50 75.80 L78.00 78.80 L76.00 81.80 L73.00 82.30 L70.50 83.80 L68.00 85.80 L62.00 86.10 L58.00 85.80 L55.00 83.80 L53.50 80.80 L54.00 77.80 L56.00 75.30 L59.00 72.80 L61.00 71.50"/>
<path d="M77.80 51.00 L75.00 51.00 L73.40 49.40 L72.60 47.40 L70.20 45.00 L67.80 44.20 L65.80 45.00 L65.00 47.40 L65.80 50.20 L67.80 52.60 L70.20 55.00 L72.00 57.80 L72.00 62.80 L71.50 66.30 L68.50 66.30 L65.50 66.30 L63.50 67.80 L62.00 69.30"/>
<path d="M65.00 47.40 L64.20 45.80 L61.40 44.20 L57.40 43.80 L55.00 44.60 L53.40 47.00 L53.20 49.80 L54.20 52.00 L56.00 53.30 L59.00 50.80 L62.00 49.80 L64.50 49.30 L65.00 47.40"/>
<path d="M53.50 69.30 L55.00 67.30 L58.00 66.30 L60.50 67.30 L61.50 69.30 L60.00 71.80 L58.00 72.30 L55.50 71.80 L53.50 70.30 L53.50 69.30"/>
<path d="M59.90 72.80 L62.50 70.20 L65.10 72.80 L62.50 75.40 L59.90 72.80"/>
<path d="M24.90 44.20 L28.20 40.90 L31.50 44.20 L28.20 47.50 L24.90 44.20"/>
<path d="M33.60 50.60 L37.20 47.00 L40.80 50.60 L40.80 53.60 L37.20 57.20 L33.60 53.60 L33.60 50.60"/>
<path d="M53.20 57.30 L56.00 54.50 L58.80 57.30 L56.00 60.10 L53.20 57.30"/>
<path d="M44.20 76.30 L47.00 73.50 L49.80 76.30 L47.00 79.10 L44.20 76.30"/>
<path d="M90.40 18.50 L93.20 15.70 L96.00 18.50 L93.20 21.30 L90.40 18.50"/>
<path d="M97.20 20.00 L99.40 18.40 L103.00 18.40 L105.20 20.00 L105.20 22.61 L103.00 24.20 L99.40 24.20 L97.20 22.61 L97.20 20.00"/>
<path d="M106.40 18.80 L108.80 16.00 L111.60 12.80 L113.20 14.00 L115.20 16.00 L116.00 18.40 L118.00 18.60 L121.20 19.20 L124.00 21.20 L123.60 23.20 L121.20 24.40 L117.20 24.80 L114.00 24.00 L111.20 22.80 L108.40 21.20 L106.40 18.80"/>
<path d="M115.60 9.30 L118.40 6.50 L121.20 9.30 L118.40 12.10 L115.60 9.30"/>
<path d="M122.30 15.40 L125.10 12.60 L127.90 15.40 L125.10 18.20 L122.30 15.40"/>
<path d="M103.10 31.60 L106.00 28.70 L108.90 31.60 L106.00 34.50 L103.10 31.60"/>
</g>
</g></g>
<rect x="61.00" y="332.40" width="187.30" height="127.00" fill="none" stroke="#2a2a2a" stroke-width="1.1"/>
<path d="M61.00 332.40 h-3.5 M61.00 395.90 h-3.5 M61.00 459.40 h-3.5 M61.00 459.40 v3.5 M123.43 459.40 v3.5 M185.87 459.40 v3.5 M248.30 459.40 v3.5" stroke="#2a2a2a" stroke-width="1.0"/>
<text x="154.65" y="326.90" font-size="11" fill="#1a1a1a" stroke="#1a1a1a" stroke-width="0.18" text-anchor="middle" textLength="180.3" lengthAdjust="spacingAndGlyphs">FC: 20230903_00 | LT: -72 hrs | RTOT</text>
<text x="4.60" y="326.80" font-size="19.5" font-weight="bold" fill="#000" textLength="25.5" lengthAdjust="spacingAndGlyphs"><tspan font-size="21" dy="0">(</tspan>e<tspan font-size="21">)</tspan></text>
<text x="32.60" y="335.30" font-size="9.4" fill="#2a2a2a" textLength="21" lengthAdjust="spacingAndGlyphs">45°N</text>
<text x="32.60" y="398.80" font-size="9.4" fill="#2a2a2a" textLength="21" lengthAdjust="spacingAndGlyphs">35°N</text>
<text x="32.60" y="462.30" font-size="9.4" fill="#2a2a2a" textLength="21" lengthAdjust="spacingAndGlyphs">25°N</text>
<g clip-path="url(#cp5)">
<g transform="translate(297.10 332.40)" filter="url(#bl)">
<path d="M65 65.5l3 -.2 3.5 0 3.5 .5 3.5 1 3.5 1.5 8 4.5 2 1.4 1.3 1.3 .9 1.5 .4 1.5 0 1.5 -.7 2 -1.2 2 -3.8 5 -1.8 2 -1.6 1.4 -2 1.3 -2 1.1 -2.5 1 -3 .8 -5 .6 -2.5 0 -3 -.3 -3.5 -.6 -2 -.6 -6 -2.4 -4 -2.4 -1.6 -1.4 -1.7 -2 -1 -1.5 -.9 -2 -.5 -2 -.1 -2 .2 -2 .6 -2 .7 -1.5 1.4 -2 1.4 -1.4 1.5 -1.1 3.5 -1.8 5 -1.5 6.5 -1.2zM58.3 98l.7 -.1 1 .1 .9 .5 .4 .5 .3 1 -.1 .5 -1 1 -1 .4 -1 0 -1 -.4 -.7 -.5 -.4 -1 .3 -1 .8 -.7 .8 -.3z" fill="#edf4fc" fill-rule="evenodd"/>
<path d="M65.8 66.5l3.2 -.2 3 .2 2.5 .3 3.5 1 3.5 1.6 8 4.3 1.5 1.1 1.2 1.2 .8 1.5 .3 1.5 -.2 1.5 -.6 1.5 -1 1.5 -4.3 5.5 -1.7 1.7 -2 1.6 -4 2.1 -4.5 1.3 -4.5 .4 -5 -.3 -2.5 -.5 -3 -.9 -5 -2.2 -3.5 -2.3 -1.4 -1.4 -1.3 -1.5 -1.1 -2 -.6 -1.5 -.3 -1.5 -.1 -2 .2 -1.5 .6 -2 .7 -1.5 1.1 -1.5 1.2 -1.3 1.5 -1.1 3.5 -1.9 6 -1.9 4.3 -.8zM58.3 99.5l.7 -.2 .5 .1 .4 .6 -.4 .5 -1 0 -.4 -.5 .2 -.5z" fill="#e3eef8" fill-rule="evenodd"/>
<path d="M64.2 67.5l4.3 -.5 4 .2 4 .9 4 1.7 8.5 4.5 2 1.6 .8 1.1 .6 1.5 0 1.5 -.5 1.5 -1 1.5 -4 5 -2.4 2.4 -1.5 1.2 -2 1.2 -3.5 1.4 -2.5 .7 -2.5 .3 -5 .1 -3 -.5 -2.5 -.6 -5 -2 -2.5 -1.4 -2 -1.4 -1.8 -1.9 -1.1 -1.5 -.9 -2 -.5 -2 -.1 -2 .3 -2 .8 -2 .9 -1.5 1.4 -1.5 1.5 -1.2 2 -1.2 3 -1.3 3.5 -1.1 2.7 -.7z" fill="#d8e7f5" fill-rule="evenodd"/>
<path d="M64.8 68l3.7 -.4 4 .2 4 1 3.5 1.4 8 4.1 2.3 1.7 .8 1 .6 1.5 0 1.5 -.6 1.5 -1 1.5 -4.2 5 -2 2 -1.4 1.1 -2 1.2 -3.5 1.4 -4.5 .9 -2.5 .2 -2.5 -.1 -2.5 -.4 -2.5 -.6 -5 -2 -2.5 -1.4 -2 -1.5 -1.7 -1.8 -1 -1.5 -.7 -1.5 -.5 -2 0 -2 .3 -2 .9 -2 1 -1.5 1.2 -1.3 1.5 -1.1 2.5 -1.3 2.5 -1.1 3 -1 2.8 -.7z" fill="#cee0f2" fill-rule="evenodd"/>
<path d="M65 68.5l3.5 -.4 3.5 .2 3.5 .7 3.5 1.4 8.5 4.2 2 1.4 .9 1 .7 1.5 0 1 -.4 1.5 -1.3 2 -5.8 6.5 -3.1 2.2 -3.5 1.5 -4.5 .9 -4.5 .1 -2.5 -.3 -2.5 -.6 -4.5 -1.7 -2.5 -1.4 -2 -1.4 -1.8 -1.8 -1 -1.5 -.9 -2 -.4 -1.5 -.1 -2 .4 -2 .6 -1.5 1 -1.5 1.2 -1.2 1.5 -1.2 2.5 -1.4 2.5 -1.1 3 -1 2.5 -.6z" fill="#c2d9ee" fill-rule="evenodd"/>
<path d="M64.8 69l3.7 -.4 3.5 .1 3 .7 3.5 1.3 4.5 2.3 4 1.8 2 1.3 1 1.2 .5 1.2 .1 1 -.4 1.5 -1.2 1.7 -6 6.6 -3 2 -3 1.3 -2 .6 -2.5 .4 -4.5 .1 -4.5 -.8 -4.5 -1.7 -2.5 -1.3 -1.9 -1.4 -1.6 -1.5 -1.1 -1.5 -.8 -1.5 -.5 -2 -.1 -1.5 .3 -2 .5 -1.5 .9 -1.5 1.3 -1.4 1.5 -1.1 4.5 -2.3 3 -1.1 2.3 -.6z" fill="#b2d2e8" fill-rule="evenodd"/>
<path d="M68 69l2 0 2.5 .2 2.5 .6 2 .7 10.5 5.1 1.5 1.1 .9 1.3 .2 1 -.1 1 -.3 1 -.7 1 -6 6.6 -2 1.6 -2 1.1 -3.5 1.3 -3.5 .6 -4 .1 -3.5 -.6 -4 -1.3 -4 -2.1 -2.8 -2.3 -1.7 -2.5 -.9 -2.5 0 -2.5 .9 -2.5 1.5 -2.1 2.5 -1.9 4.5 -2.2 4 -1.3 3.5 -.5z" fill="#a1cbe2" fill-rule="evenodd"/>
<path d="M66.9 69.5l4.1 -.1 4 .9 2.5 .9 4.5 2.3 4.5 1.9 1.7 1.1 1.2 1.5 .2 1.5 -.4 1.5 -1.2 1.6 -6.2 6.4 -2.8 1.8 -3 1.2 -4 .8 -4.5 0 -4.5 -1 -4 -1.6 -2.1 -1.2 -1.9 -1.4 -1.1 -1.1 -1.1 -1.5 -.7 -1.5 -.5 -2 .1 -2 .4 -1.5 .8 -1.5 .7 -1 1.4 -1.3 1.5 -.9 5.5 -2.6 2.5 -.7 2.4 -.5z" fill="#8cc0dd" fill-rule="evenodd"/>
<path d="M66.2 70l3.8 -.2 4 .6 3 1.1 5 2.4 4 1.7 2 1.3 .9 1.1 .3 1 -.2 1.5 -1 1.5 -6.4 6.5 -2.6 1.8 -2.7 1.2 -3.8 .9 -4.5 0 -4 -.7 -4 -1.5 -2 -1.1 -2 -1.3 -1.4 -1.3 -1.2 -1.5 -.8 -1.5 -.4 -1.5 -.1 -2 .3 -1.5 .7 -1.5 .7 -1 1.2 -1.1 1.5 -1.1 5.5 -2.6 4.2 -1.2z" fill="#77b5d9" fill-rule="evenodd"/>
<path d="M65.7 70.5l2.8 -.4 2.5 .1 3 .6 2.5 .9 4.6 2.3 4.4 1.7 1.5 .8 1.1 1 .5 1 .2 1 -.3 1 -1 1.5 -6 6 -2.5 1.8 -2.6 1.2 -3.4 .9 -4 .2 -4 -.6 -4 -1.3 -2.5 -1.3 -2 -1.3 -1.3 -1.1 -1.2 -1.4 -.9 -1.6 -.4 -1.5 -.1 -1.5 .2 -1.5 .6 -1.5 .6 -1 1 -1 1.5 -1.2 5 -2.4 4.2 -1.4z" fill="#63a8d3" fill-rule="evenodd"/>
<path d="M65.3 71l2.7 -.4 2.5 0 2.7 .4 2.8 .9 5.3 2.6 4.2 1.6 1.5 .9 .6 .5 .6 1 .1 1 -.2 1 -1.1 1.5 -2.8 2.5 -3.4 3.5 -2.3 1.6 -2.5 1.1 -3.5 .8 -3.5 .2 -3.5 -.5 -3.9 -1.2 -4.1 -2.2 -1.5 -1.2 -1.1 -1.1 -1 -1.5 -.6 -1.5 -.3 -1.5 .1 -1.5 .5 -1.5 .6 -1 .9 -1 1.2 -1 4.2 -2.3 4.8 -1.7z" fill="#529dcc" fill-rule="evenodd"/>
<path d="M67.4 71l3.1 -.1 3.5 .7 2.3 .9 4.7 2.3 4.5 1.7 1.5 1 .7 1 .2 1 -.3 1 -1.1 1.4 -2.9 2.6 -3.5 3.5 -2.1 1.4 -2.5 1 -3.5 .8 -3.5 .1 -4 -.7 -3.5 -1.3 -3.9 -2.3 -1.2 -1 -1.2 -1.5 -.7 -1.2 -.4 -1.3 -.1 -1.5 .2 -1.5 .5 -1 .8 -1.3 1 -.9 1.5 -1.1 5.9 -2.7 2.1 -.6 1.9 -.4z" fill="#4090c5" fill-rule="evenodd"/>
<path d="M66.8 71.5l3.2 -.2 3.5 .6 2.5 1 4.5 2.1 4.5 1.6 1.5 .9 .7 1 .2 1 -.3 1 -.7 1 -3 2.5 -3.5 3.5 -2.2 1.5 -2.2 1 -3.5 .8 -3.5 .1 -3.5 -.6 -3.5 -1.3 -4 -2.3 -1.4 -1.2 -.9 -1 -.7 -1.2 -.4 -1.3 -.2 -1.5 .3 -1.5 .5 -1 .8 -1.1 1 -1 1.4 -.9 5.4 -2.5 3.5 -1z" fill="#3383be" fill-rule="evenodd"/>
<path d="M66.4 72l2.1 -.3 2 .1 2 .3 2.5 .8 5 2.4 5.5 2 1.2 1.2 .2 .5 0 1 -1.1 1.5 -3.1 2.5 -3.2 3.2 -1.8 1.3 -2.2 1 -3 .8 -3.5 .2 -3.3 -.5 -3.1 -1 -3.9 -2 -1.4 -1 -1.3 -1.2 -.9 -1.3 -.6 -1.5 -.1 -1.5 .2 -1 1 -2 1.9 -1.7 5 -2.5 3.9 -1.3z" fill="#2575b7" fill-rule="evenodd"/>
<path d="M66.3 72.5l1.7 -.3 2 0 2 .2 2 .6 5.5 2.6 5.6 1.9 1.1 1 .2 .5 -.1 1 -.8 1.2 -3 2.4 -3.6 3.4 -1.4 1 -2 1 -3 .8 -3 .2 -3 -.3 -3 -.8 -4 -1.9 -2.7 -2 -.8 -1 -.8 -1.5 -.3 -1 .1 -1.5 .2 -1 .8 -1.3 2 -1.7 4.5 -2.2 3.8 -1.3z" fill="#1967ad" fill-rule="evenodd"/>
<path d="M66.3 73l1.7 -.3 2 0 2 .3 1.8 .5 5.7 2.6 5 1.6 1 .8 .3 .5 -.1 1 -.7 1 -3.3 2.5 -3.2 3.1 -1.5 1.1 -1.6 .8 -2.4 .7 -3 .4 -3 -.3 -3.1 -.8 -4.3 -2 -2.6 -2 -1.3 -2 -.3 -1 .1 -1.5 .3 -1 .6 -1 1.7 -1.5 4.1 -2 4.1 -1.5z" fill="#0f5aa3" fill-rule="evenodd"/>
<path d="M66.6 73.5l1.9 -.3 1.5 0 1.9 .3 1.6 .5 5.5 2.5 5 1.5 .7 .5 .4 .5 0 1 -.9 1 -3.2 2.3 -3.3 3.2 -2.7 1.5 -2.5 .8 -3 .2 -2.5 -.2 -2.9 -.8 -4.1 -1.9 -2.5 -1.9 -1 -1.2 -.4 -1 -.2 -1 .1 -1 .4 -1 .6 -.9 1.5 -1.3 3.9 -1.8 4.2 -1.5z" fill="#084c95" fill-rule="evenodd"/>
<path d="M67.2 74l2.8 -.2 3 .7 6 2.7 4.5 1.3 .6 .5 .2 .5 -.1 .5 -1 1 -2.9 2 -3.2 3 -2.6 1.5 -2.5 .7 -2.5 .2 -2.5 -.2 -2.5 -.7 -3.5 -1.5 -1.7 -1 -1.2 -1 -.9 -1 -.5 -1 -.2 -1 .1 -1 .9 -1.6 1.8 -1.4 4.7 -2 3.2 -1z" fill="#083e81" fill-rule="evenodd"/>
<path d="M66.3 75l2.7 -.4 3 .4 1.5 .5 4.5 2.2 4.3 1.3 .5 .5 0 .5 -3.3 2.5 -3.2 3 -2.3 1.3 -2 .6 -2 .3 -2.5 -.2 -2.2 -.5 -3.8 -1.5 -2.5 -1.5 -1.3 -1.5 -.4 -1 0 -1 .6 -1.5 1.6 -1.4 2.6 -1.1 4.2 -1.5z" fill="#08306b" fill-rule="evenodd"/>
</g>
<g transform="translate(234.667 618.150) scale(6.24333 -6.35000)">
<g stroke="#c8c8c8" stroke-width="0.8" fill="none">
<path vector-effect="non-scaling-stroke" d="M20 25 L20 45 M30 25 L30 45 M10 35 L40 35"/>
</g>
<use href="#coast"/>
</g>
<g transform="translate(297.10 332.40)">
<g stroke="#8e8e8e" stroke-width="0.7" fill="none">
<path d="M38.00 7.50 L44.00 6.30 L48.00 5.70 L53.00 5.00 L58.00 6.30 L63.00 6.90 L66.00 7.40 L71.00 9.90 L73.50 12.40 L76.00 14.50 L81.00 15.80 L91.00 17.60 L96.00 15.10 L101.00 12.60 L106.00 11.30 L111.00 8.80 L115.00 6.30 L118.90 2.50 L122.60 0.00"/>
<path d="M75.00 10.60 L79.00 8.60 L83.00 6.30 L90.00 5.50 L95.00 8.60 L93.70 11.10 L88.00 11.80 L81.00 12.40 L77.40 13.60 L75.00 10.60"/>
<path d="M49.10 6.30 L50.40 9.40 L54.20 12.60 L56.00 14.50 L57.90 16.40"/>
<path d="M46.60 16.40 L47.90 18.90 L50.40 21.40 L49.10 25.20 L46.60 29.00 L44.10 31.50 L41.60 40.30 L37.80 44.10 L35.30 46.60"/>
<path d="M18.30 52.90 L20.80 52.90 L23.30 55.40 L25.20 57.90 L26.40 60.80 L25.80 65.80 L21.40 68.40 L20.20 69.60 L24.60 73.40 L27.10 78.40 L29.00 83.50 L31.50 91.00 L34.00 97.30 L36.50 102.40 L37.80 104.90 L34.00 105.50 L30.50 105.50"/>
<path d="M15.50 106.80 L12.60 109.90 L10.10 113.70 L6.90 116.80 L8.80 120.00 L12.60 122.50 L16.40 127.00"/>
<path d="M46.80 111.40 L46.48 112.40 L45.60 113.13 L44.40 113.40 L43.20 113.13 L42.32 112.40 L42.00 111.40 L42.32 110.40 L43.20 109.67 L44.40 109.40 L45.60 109.67 L46.48 110.40 L46.80 111.40"/>
<path d="M87.40 83.50 L87.21 85.10 L86.65 86.62 L85.74 87.99 L84.54 89.13 L83.10 89.99 L81.49 90.52 L79.80 90.70 L78.11 90.52 L76.50 89.99 L75.06 89.13 L73.86 87.99 L72.95 86.62 L72.39 85.10 L72.20 83.50 L72.39 81.90 L72.95 80.38 L73.86 79.01 L75.06 77.87 L76.50 77.01 L78.11 76.48 L79.80 76.30 L81.49 76.48 L83.10 77.01 L84.54 77.87 L85.74 79.01 L86.65 80.38 L87.21 81.90 L87.40 83.50"/>
<path d="M86.70 84.10 L86.48 85.46 L85.86 86.69 L84.89 87.66 L83.66 88.28 L82.30 88.50 L80.94 88.28 L79.71 87.66 L78.74 86.69 L78.12 85.46 L77.90 84.10 L78.12 82.74 L78.74 81.51 L79.71 80.54 L80.94 79.92 L82.30 79.70 L83.66 79.92 L84.89 80.54 L85.86 81.51 L86.48 82.74 L86.70 84.10"/>
<path d="M62.20 91.00 L60.00 86.00 L62.00 81.00 L66.00 77.20 L73.50 72.90 L81.00 70.90 L92.40 70.20 L101.20 72.80 L107.50 75.90 L110.60 80.90 L111.30 85.40 L108.80 87.90 L102.50 88.50 L97.40 91.00"/>
<path d="M80.00 96.10 L73.50 95.40 L66.00 92.30 L62.20 91.00"/>
<path d="M55.00 94.00 L60.90 96.10 L64.70 99.80 L71.00 103.60 L78.50 106.10 L86.10 109.90 L92.40 113.70 L97.40 118.70 L102.50 123.80 L105.00 127.00"/>
<path d="M123.90 35.60 L129.00 31.80 L134.10 27.30 L140.50 33.70 L149.50 36.30 L154.60 38.80 L161.00 38.20 L167.40 36.90 L172.50 33.10 L177.70 32.40 L187.90 33.10"/>
<path d="M105.00 42.00 L112.00 43.50 L118.00 45.00 L123.90 46.50 L130.30 49.10 L136.70 51.00 L143.10 51.00 L149.50 49.10 L155.90 47.20 L162.30 44.60 L168.70 43.30 L175.10 41.40 L181.50 38.20 L187.90 35.60"/>
<path d="M187.90 43.30 L181.50 44.60 L175.10 45.90 L171.30 48.50 L168.70 52.30 L167.40 54.80 L168.70 58.70 L172.50 61.20 L178.00 63.00 L184.00 64.00 L187.90 63.50"/>
<path d="M184.00 7.50 L177.70 9.40 L175.80 12.60 L177.70 16.40 L184.10 17.70 L187.90 17.10"/>
<path d="M131.60 65.90 L136.70 63.40 L149.50 62.70 L154.60 64.60 L149.50 67.20 L143.10 67.20 L134.10 67.20 L131.60 65.90"/>
<path d="M131.50 101.50 L131.28 103.24 L130.67 104.63 L129.79 105.40 L128.81 105.40 L127.93 104.63 L127.32 103.24 L127.10 101.50 L127.32 99.76 L127.93 98.37 L128.81 97.60 L129.79 97.60 L130.67 98.37 L131.28 99.76 L131.50 101.50"/>
<path d="M150.30 101.80 L150.15 102.74 L149.75 103.32 L149.25 103.32 L148.85 102.74 L148.70 101.80 L148.85 100.86 L149.25 100.28 L149.75 100.28 L150.15 100.86 L150.30 101.80"/>
<path d="M154.60 104.30 L159.70 106.90 L164.90 110.70 L168.70 114.60 L172.50 117.10 L177.70 118.40 L181.50 122.30 L185.40 124.80 L187.30 126.00"/>
<path d="M92.00 61.00 L96.00 64.50 L101.00 68.00 L104.00 70.50"/>
</g>
<text x="54.5" y="18.6" font-size="6.4" style="font-family:&quot;Liberation Serif&quot;,serif" fill="#858585" transform="rotate(0 54.5 18.6)">1020</text>
<text x="17.5" y="109.8" font-size="6.4" style="font-family:&quot;Liberation Serif&quot;,serif" fill="#858585" transform="rotate(0 17.5 109.8)">1015</text>
<text x="84.5" y="99.3" font-size="6.4" style="font-family:&quot;Liberation Serif&quot;,serif" fill="#858585" transform="rotate(-28 84.5 99.3)">1005</text>
<g stroke="#e8292b" stroke-width="1.35" fill="none" stroke-linejoin="miter" stroke-miterlimit="3">
<path d="M53.30 72.20 L56.90 69.20 L59.90 68.60 L62.90 66.20 L80.30 66.20 L83.90 69.20 L87.50 72.80 L91.10 74.00 L93.50 76.40 L97.10 77.00 L99.50 78.80 L98.30 81.20 L94.70 81.80 L92.30 82.40 L90.50 85.40 L89.30 84.20 L87.50 82.40 L86.90 80.60 L89.30 79.40 L86.90 79.40 L84.50 81.20 L82.70 82.40 L80.30 83.00 L78.50 84.80 L77.90 88.40 L76.70 92.60 L74.90 93.80 L69.50 94.20 L65.30 93.80 L62.30 92.00 L59.90 94.40 L58.10 93.20 L55.70 90.20 L53.30 88.40 L52.70 83.60 L52.70 77.60 L53.30 72.20"/>
<path d="M118.40 47.50 L121.20 44.70 L124.00 47.50 L121.20 50.30 L118.40 47.50"/>
</g>
</g></g>
<rect x="297.10" y="332.40" width="187.30" height="127.00" fill="none" stroke="#2a2a2a" stroke-width="1.1"/>
<path d="M297.10 332.40 h-3.5 M297.10 395.90 h-3.5 M297.10 459.40 h-3.5 M297.10 459.40 v3.5 M359.53 459.40 v3.5 M421.97 459.40 v3.5 M484.40 459.40 v3.5" stroke="#2a2a2a" stroke-width="1.0"/>
<text x="390.75" y="326.90" font-size="11" fill="#1a1a1a" stroke="#1a1a1a" stroke-width="0.18" text-anchor="middle" textLength="180.3" lengthAdjust="spacingAndGlyphs">FC: 20230908_00 | LT: -72 hrs | RTOT</text>
<text x="267.90" y="326.80" font-size="19.5" font-weight="bold" fill="#000" textLength="25.5" lengthAdjust="spacingAndGlyphs"><tspan font-size="21" dy="0">(</tspan>f<tspan font-size="21">)</tspan></text>
<g clip-path="url(#cp6)">
<g transform="translate(61.00 485.00)" filter="url(#bl)">
<path d="M107.6 14l1.4 -.4 1.5 .1 2 .5 1 .5 3 2.9 2.5 1.2 1 .7 .4 .5 -.1 1 -.8 .9 -1 .5 -1.5 .4 -4 .6 -2 .1 -1.5 -.3 -4.5 -2.1 -1 1.4 -1.5 .8 -2 .3 -1 -.2 -1 -.4 -.6 -.5 -.3 -1 .5 -1 .9 -.6 1 -.3 1.5 -.1 3 .6 .2 -2.6 .5 -1.5 .8 -1.1 1.6 -.9zM78.2 23.5l4.3 -.4 4 .1 4 .6 3.5 1.1 3 1.5 2 1.6 1.6 2 .6 1.5 .3 1 0 1.5 -.3 1.5 -1 2 -1.2 1.5 -1.6 1.5 -1.9 1.4 -5 2.6 -1 .8 -.5 .8 -.6 2.9 -.3 7.5 -.3 3 -1.9 7.5 -1.2 3 -1.2 2 -1.2 1.5 -1.3 1.3 -2 1.4 -3 1.5 -6 2.3 -5.5 2.3 -4.5 1.3 -4.5 .7 -3.5 -.2 -1.5 -.3 -1.5 -.6 -1.5 -1.1 -.8 -1.1 -.1 -1.5 .4 -1 .9 -1 1.1 -.7 5 -1.7 1.8 -1.1 1.2 -1.3 .8 -1.2 1.2 -3.5 .4 -3 -.4 -5.6 -.5 -.6 -2.5 -.5 -1.5 -.7 -.6 -.6 -.3 -1 .3 -1 1.1 -.8 1.5 -.4 2.5 0 .7 -.3 .6 -1 .1 -1 -.3 -.5 -2.4 -2 -.6 -1 -.2 -1 .6 -1.5 1 -1 1.5 -.7 2.5 -.5 .6 -.3 -.1 -1 -1.1 -3 -.5 -2.5 .3 -2.5 .7 -2 .9 -1.5 1.2 -1.5 1.7 -1.5 1.8 -1.2 4 -1.6 6.2 -1.2z" fill="#edf4fc" fill-rule="evenodd"/>
<path d="M108.3 14.5l1.2 -.2 1 0 1.5 .4 1 .5 1.1 .8 1.9 2.1 2.5 1.8 .3 .6 -.2 .5 -.6 .5 -1.2 .5 -4.3 .9 -2.5 -.2 -2 -.8 -1.7 -1.4 -.6 -1 -.2 -1.5 .1 -1 .5 -1 .9 -.9 1.3 -.6zM99.7 21l.8 -.4 1 0 .8 .4 .3 .5 -.6 .7 -1.5 .2 -.9 -.4 -.2 -.5 .3 -.5zM78 24.5l4.5 -.3 4.5 .2 4 .9 3.5 1.4 2.5 1.8 .9 1 1 1.5 .3 1 .2 1.5 -.2 1.5 -.3 1 -1.3 2 -1.6 1.7 -2.5 1.7 -4.1 2.1 -.9 .7 -.6 .8 -.5 2 -.4 4.5 -.2 5 -.5 3 -2.7 8.5 -1 2 -1.6 2 -1.5 1.3 -1.5 .9 -11.5 6 -3.5 1.6 -3.5 .9 -4 .4 -3 -.1 -2 -.6 -1 -.6 -.7 -.8 -.3 -1 .3 -1 .7 -.8 1 -.6 3.5 -1.2 1.5 -.7 1.9 -1.7 1.6 -2 3.5 -7.5 .3 -1.5 .5 -5 .9 -3.5 1.3 -2.5 2.5 -3.4 .8 -1.6 .1 -1 -.3 -1 -3.5 -4 -1.5 -2.5 -.4 -1.5 -.1 -1.5 .2 -1.5 .5 -1.5 .8 -1.5 1.3 -1.5 3.1 -2.3 3.5 -1.5 3 -.8 2.5 -.4zM59.3 45l1.2 -.4 1.5 0 1 .2 1 .5 .6 .7 .5 1 0 .5 -.4 1 -1.2 .9 -1.5 .3 -1.5 -.1 -1.5 -.7 -.9 -.9 -.2 -1 .3 -1 1.1 -1zM55.7 56l.3 -.3 .5 -.1 .5 .4 -.5 .4 -.5 0 -.3 -.4z" fill="#e3eef8" fill-rule="evenodd"/>
<path d="M108.2 15l1.3 -.3 1 0 1.5 .4 1 .6 1 .8 1.5 1.9 1.7 1.6 .1 .5 -.3 .5 -2 .9 -3 .5 -2 -.1 -2 -.9 -1.4 -1.4 -.5 -1 -.1 -1 .2 -1 .5 -1 1.5 -1zM78.6 25l3.4 -.2 3.5 .1 3 .5 3 .9 2.5 1.3 2 1.5 1.4 1.9 .6 2 0 1 -.3 1.5 -.7 1.5 -1.3 1.5 -2.7 2.1 -4.5 2.4 -1 .8 -.4 .7 -.5 2 -.9 11.5 -2.5 8 -.9 2.5 -1.8 2.5 -2 1.6 -12.5 7.1 -2 1 -3 .9 -3.5 .5 -3.5 .1 -2.5 -.6 -.8 -.6 -.3 -.5 0 -1 .3 -.5 .8 -.6 3 -1.2 1.5 -.9 2.4 -2.3 1.5 -2 1.8 -3.5 2.7 -4.5 2 -6.5 3.1 -5.6 1 -2.4 .5 -3 0 -1 -.4 -1 -.8 -1 -2.3 -1.7 -1.4 -1.3 -1 -1.5 -.7 -1.5 -.3 -2.5 .7 -2.5 .9 -1.5 1.3 -1.4 3.5 -2.3 4 -1.6 4.1 -.7zM59.6 45.5l1.4 -.4 1 .1 .9 .3 .9 1 .1 1 -.3 .5 -1.1 .8 -1 .2 -1 0 -1 -.4 -.6 -.6 -.3 -1 .4 -1 .6 -.5z" fill="#d8e7f5" fill-rule="evenodd"/>
<path d="M108 15.5l1 -.4 1 0 1.5 .2 1 .5 1 .7 .8 1 1.4 2 .3 1 -.4 .5 -1 .5 -2.1 .5 -2 0 -2 -.7 -1.4 -1.3 -.7 -1.5 .2 -1.5 .7 -1 .7 -.5zM78.1 25.5l3.9 -.3 4 .3 3.5 .8 3 1.3 2.6 1.9 1.5 2 .4 2 -.2 1.5 -.3 1 -1 1.5 -1.5 1.5 -2 1.4 -4.1 2.1 -.9 .7 -.5 .8 -.4 1.5 -.7 10.5 -.4 2.5 -3.1 9 -.8 1.5 -1.1 1.3 -2.5 2 -11 6.5 -3 1.5 -2.5 .8 -2 .3 -3 0 -2.6 -.4 -.9 -.5 -.2 -.5 .1 -.5 3.6 -2.3 3.5 -3.6 1.1 -1.6 2.2 -4 2.5 -3.5 2.4 -5.5 2.3 -4 1.5 -4 .5 -4 -.1 -2.5 -.9 -1.3 -3.5 -2.5 -1 -1 -.8 -1.2 -.5 -1 -.3 -1.5 0 -1.5 .4 -1.5 .9 -1.5 .8 -1 3 -2.2 4 -1.9 4.1 -.9zM59.7 46l1.3 -.5 1 .2 .6 .3 .4 .5 .1 1 -.4 .5 -.7 .4 -1 .1 -1 -.2 -.8 -.8 -.1 -.5 .2 -.5 .4 -.5z" fill="#cee0f2" fill-rule="evenodd"/>
<path d="M108.9 15.5l1.1 -.2 1 .2 1 .3 1 .7 .9 1 1 1.5 .3 1 -.1 .5 -.5 .5 -1.1 .5 -2 .3 -2 -.3 -1.5 -.9 -1.1 -1.6 -.1 -1.5 .7 -1.2 1.4 -.8zM77.4 26l3.6 -.4 4 .2 3.5 .7 3 1.2 2.6 1.8 1.5 2 .6 2 -.4 2 -1.2 2 -1.6 1.5 -2 1.3 -3.5 1.8 -1 .7 -.5 .7 -.4 1.5 -.7 11 -.4 2 -3.1 9 -1.5 2.5 -2.4 2 -11 6.8 -2.5 1.3 -2 .8 -2 .3 -2 0 -2 -.4 -.6 -.3 -.2 -.5 .2 -.5 5.1 -5.9 2.6 -4.6 3.4 -4.5 1.7 -3.5 2.7 -4.5 1.2 -4 .7 -5.5 -.2 -2.5 -.6 -1 -4 -2.7 -1.6 -1.8 -.5 -1 -.4 -1.5 0 -1.5 .3 -1 1.1 -2 2.1 -1.9 4.9 -2.6 3.5 -1zM59.9 46.5l.6 -.4 1 0 .8 .4 .2 .5 -.2 .5 -.3 .3 -1 .3 -.5 -.2 -.6 -.4 -.1 -.5 .1 -.5z" fill="#c2d9ee" fill-rule="evenodd"/>
<path d="M108.4 16l1.1 -.4 1 0 1 .3 1 .5 1 1 .7 1.1 .4 1 0 .5 -.2 .5 -1.4 .8 -1.5 .3 -1.5 -.2 -1.5 -.8 -1 -1.1 -.4 -1.5 .2 -1 1.1 -1zM79.9 26l3.1 0 3.5 .4 3 1 2.5 1.3 2 1.6 1.1 1.7 .3 1.5 -.3 2 -.9 1.5 -1.4 1.5 -1.8 1.2 -4.3 2.3 -.7 .5 -.6 1 -.3 1 -.1 4 -.8 9 -3.2 9 -1.4 2.5 -2.1 1.9 -13 8.1 -2 .8 -1.5 .3 -1.5 .1 -1.6 -.2 -.9 -.7 -.1 -.3 .3 -1 1 -1.5 2.9 -3.5 2.5 -4.5 3.7 -4.5 1.5 -3 2.7 -4.3 .6 -1.7 .7 -3 .6 -6.5 -.2 -2 -.7 -1 -3.5 -2.1 -1.1 -.9 -.9 -1 -.5 -1 -.5 -1.5 .1 -1.5 .2 -1 .8 -1.5 .9 -1 2.5 -1.7 5 -2.4 2 -.6 2.4 -.3zM60.7 47l.3 -.2 .5 .2 -.5 .2 -.3 -.2z" fill="#b2d2e8" fill-rule="evenodd"/>
<path d="M109 16l1 -.2 1 .2 1 .4 .9 .6 .7 1 .5 1 0 1 -.3 .5 -1.3 .7 -1.5 .1 -1.5 -.4 -1.4 -.9 -.6 -1 -.1 -1.5 .6 -.9 1 -.6zM78.4 26.5l3.1 -.3 3.5 .3 3 .8 2.8 1.2 2.1 1.5 1.2 1.5 .5 1 .2 1 -.4 2 -.9 1.5 -1.5 1.5 -2 1.3 -3.5 1.8 -1 .7 -.5 .7 -.4 1.5 0 3.5 -.8 9.5 -.6 2 -1.6 3.5 -1.1 3.5 -1.1 2 -1 1 -1.4 1.1 -7 4.6 -5.5 3.4 -1.5 .6 -1.5 .4 -1.5 .1 -1.2 -.2 -.7 -.5 -.1 -.3 .2 -1.2 .9 -1.5 2.4 -2.9 2.5 -4.5 3.6 -4.1 2 -3.5 1.9 -2.8 1 -2.2 .9 -4 .6 -7.5 -.3 -1.5 -.8 -1 -3.9 -2.2 -1.5 -1.5 -.7 -1.3 -.3 -1 0 -1.5 .3 -1 .9 -1.5 1.8 -1.6 5.6 -2.9 3.3 -1z" fill="#a1cbe2" fill-rule="evenodd"/>
<path d="M108.5 16.5l1.5 -.4 1 .1 1 .4 1.3 1.4 .5 1 -.1 1 -.7 .7 -1.5 .4 -1.5 -.2 -1 -.5 -1 -.9 -.4 -1 .1 -1 .8 -1zM77.6 27l2.9 -.4 3 0 3 .6 3 1.1 2.5 1.6 1.5 1.6 .6 1.5 .1 1 -.2 1 -.7 1.5 -1.4 1.5 -1.9 1.3 -4.2 2.2 -.8 .7 -.6 .8 -.2 1 .1 4 -.9 9.5 -.7 2 -1.4 3 -1.3 4 -1 1.7 -2 1.9 -7 4.7 -5.2 3.2 -2.8 1.1 -1.5 .1 -1 -.2 -.6 -.5 -.1 -.5 .3 -1 2.9 -4 2.2 -4 3.7 -4 4.2 -6.5 .9 -2.2 .8 -3.8 .6 -8 -.1 -1.5 -.8 -1.2 -4 -2.2 -1.7 -1.6 -.5 -1 -.3 -1 -.1 -1 .4 -1.5 .9 -1.5 1.8 -1.5 6 -2.9 1.6 -.6z" fill="#8cc0dd" fill-rule="evenodd"/>
<path d="M109 16.5l1.5 -.2 1 .3 .7 .4 .5 .5 .6 1 .2 1 -.2 .5 -.8 .6 -1.5 .3 -1 -.2 -1.2 -.7 -.8 -1 -.1 -1 .4 -1 .7 -.5zM79.2 27l2.8 -.2 3 .4 2.8 .8 2.7 1.4 1.5 1.1 1.2 1.5 .4 1.5 0 1 -.3 1 -1 1.5 -1.3 1.2 -1.5 1 -4 2 -1.4 1.3 -.3 1 .1 4.5 -.8 9 -.6 2 -1.6 3.5 -1.2 3.5 -1.1 2 -1.6 1.6 -6.3 4.4 -5.8 3.5 -1.4 .7 -1.5 .5 -1 0 -1 -.2 -.4 -.5 .1 -1 2.4 -3.5 2.2 -4 1.2 -1.5 2.9 -3 4.3 -6.5 .8 -2 .7 -3.5 .7 -9 -.2 -1.5 -.8 -1 -3.9 -2 -1.7 -1.5 -.6 -1 -.3 -1 0 -1.5 .3 -1 1 -1.5 1.8 -1.3 6.5 -3.1 2.2 -.6z" fill="#77b5d9" fill-rule="evenodd"/>
<path d="M108.7 17l.8 -.4 1 -.1 1.5 .6 1 1.4 .1 1 -.2 .5 -.9 .5 -1 .2 -1 -.2 -.9 -.5 -.6 -.7 -.4 -.8 .2 -1 .4 -.5zM78.5 27.5l2.5 -.4 2.5 .1 2.5 .6 3 1.2 2 1.2 1.3 1.3 .7 1.5 .1 1 -.2 1 -.8 1.5 -1.4 1.5 -1.7 1.1 -4 2 -1 .8 -.4 .6 -.2 1 .2 4.5 -.8 9 -.7 2 -1.7 3.5 -1.1 3.5 -.8 1.5 -1.5 1.6 -8 5.6 -5.5 3.1 -1.5 .4 -1 -.1 -.7 -.6 .2 -1 2.1 -3 1.7 -3.5 1.2 -1.6 3.5 -3.4 1.9 -3 2.1 -3 .8 -2 .8 -4 .3 -6 .5 -3.5 -.1 -1 -.6 -1 -.7 -.5 -3.5 -1.7 -1.7 -1.3 -.7 -1 -.3 -1 -.1 -1 .2 -1 .8 -1.5 1.8 -1.4 8 -3.6z" fill="#63a8d3" fill-rule="evenodd"/>
<path d="M109.1 17l1.4 -.3 1.5 .7 .5 .6 .4 1 -.4 1 -.5 .3 -1 .1 -1 -.2 -1 -.6 -.4 -.6 -.2 -1 .2 -.5 .5 -.5zM80.3 27.5l2.2 0 2.5 .4 2.5 .8 2.5 1.3 1.3 1 1 1.5 .3 1 -.2 1.5 -.8 1.5 -1.1 1.2 -2 1.3 -4.1 2 -.9 .8 -.4 .7 -.2 1 .4 4.5 -.8 9 -.8 2 -1.6 3 -1.2 4 -.9 1.5 -1.5 1.4 -7 5.1 -5.5 3.1 -1.5 .4 -.8 0 -.5 -.5 .1 -.5 1.7 -2.9 1.7 -3.6 1.3 -1.6 3.1 -2.9 4.5 -6.5 .6 -1.5 .8 -4.6 .3 -5.9 .6 -3.5 -.2 -1.5 -1.2 -1.2 -3.5 -1.6 -1.7 -1.2 -.7 -1 -.4 -1 -.1 -1 .2 -1 .9 -1.5 1.8 -1.3 4.1 -1.7 2.9 -1.4 2.3 -.6z" fill="#529dcc" fill-rule="evenodd"/>
<path d="M109.8 17l1.2 .1 .8 .4 .4 .5 .4 1 -.1 .5 -.5 .5 -1.5 .2 -1 -.5 -.5 -.4 -.3 -.8 0 -.5 .3 -.6 .8 -.4zM79.6 28l1.9 -.2 2.5 .2 2.5 .7 2.5 1.1 1.5 1 1.1 1.2 .5 1.5 -.1 1.5 -.9 1.5 -1.6 1.5 -5.5 2.8 -1.3 1.2 -.2 1 .5 4.5 -.5 4.5 -.3 4.5 -.6 2 -2 3.5 -1 3.5 -.7 1.5 -1.5 1.5 -2.9 2 -4 3.2 -5.5 2.8 -1 .2 -.5 -.1 -.1 -.6 .2 -.5 2.5 -5.5 1.2 -1.5 3.3 -3 2 -3 2.3 -3 .6 -1.5 .9 -5.5 .2 -5.5 .8 -4 -.1 -1 -.3 -.5 -1 -.9 -4 -1.8 -1.5 -1.2 -.9 -1.6 -.1 -1 .2 -1 .8 -1.3 1.5 -1.2 8.6 -3.5z" fill="#4090c5" fill-rule="evenodd"/>
<path d="M109.3 17.5l1.2 -.3 1 .4 .7 .9 .1 .5 -.2 .5 -1.1 .5 -1.5 -.5 -.6 -1 .1 -.5 .3 -.5zM79.4 28.5l2.1 -.4 2 .2 2.5 .6 2.5 1 1.6 1.1 1 1 .6 1.5 -.2 1.5 -.8 1.5 -1.2 1.1 -2 1.2 -4 1.9 -1.1 .8 -.3 .5 -.2 1 .7 3 .1 1.5 -.5 4.5 -.3 4.5 -.7 2 -2.1 3.5 -.9 3.5 -.7 1.3 -1.1 1.2 -2.9 2.1 -4 3.2 -3.5 1.7 -1.5 .5 -.5 -.1 -.2 -.4 .3 -1.5 .6 -2 .8 -1.5 1 -1.2 3.2 -2.8 2.3 -3.3 2.5 -3.2 .5 -1.5 .8 -5.5 .1 -5.5 1.1 -4 0 -1 -.5 -.8 -.9 -.7 -4.1 -1.8 -1.6 -1.2 -.9 -1.5 -.1 -1 .2 -1 .9 -1.3 1.5 -1.1 7.9 -3.1z" fill="#3383be" fill-rule="evenodd"/>
<path d="M109.9 17.5l.9 0 .8 .5 .3 .5 0 .5 -.3 .5 -1.1 .2 -1 -.6 -.3 -.6 .1 -.5 .6 -.5zM79.2 29l1.8 -.4 2 0 2.5 .5 2.5 .9 1.6 1 1.3 1.5 .3 1 -.1 1.5 -.9 1.5 -1.2 1.1 -2 1.2 -3.9 1.7 -1.4 1 -.3 .5 -.1 1 .9 2.5 .2 2 -.6 4.5 -.2 4 -.6 2.1 -2.3 3.4 -.8 3.5 -.7 1.5 -1.2 1.3 -3 2.2 -3.5 3 -2 1 -1.5 .5 -.7 0 -.3 -.1 -.3 -.4 0 -1 .4 -1.5 .7 -1.5 1.2 -1.3 3.3 -2.7 2.1 -3 2.2 -2.5 .6 -1 1 -7.5 .1 -5.5 1.4 -4 -.2 -1 -1.1 -1 -4.5 -2 -1.5 -1 -1 -1.5 -.1 -1.5 .9 -1.5 1.3 -1 7.7 -3z" fill="#2575b7" fill-rule="evenodd"/>
<path d="M109.8 18l.7 -.2 .5 .1 .5 .6 0 .5 -.5 .4 -1 -.3 -.4 -.6 .2 -.5zM80.9 29l1.6 -.1 2 .3 2 .5 2 1 1.1 .8 .8 1 .4 1 -.2 1.5 -.9 1.5 -1.2 1.1 -2 1.1 -5.2 2.3 -1.1 1 0 .5 1.5 2.5 .4 2 0 1.5 -.6 3.5 -.2 3.5 -.5 2 -.8 1.4 -1.8 2.1 -.4 1 -.4 3 -.4 1 -.8 1 -3.2 2.4 -3.5 3.2 -2 1 -1.5 .2 -.5 -.3 -.2 -1 .2 -1 .8 -1.5 1.2 -1.2 3 -2.3 2.5 -3.5 2.1 -2 .7 -1 .3 -4.5 .5 -3.5 -.1 -4 .2 -1.5 .7 -2 1.4 -2 .1 -.5 -.9 -1 -1.6 -1 -3.9 -1.6 -1.6 -.9 -.5 -.5 -.6 -1 -.1 -1.5 .8 -1.3 1.5 -1.1 6.5 -2.5 2.4 -.6z" fill="#1967ad" fill-rule="evenodd"/>
<path d="M110.2 18.5l.3 -.2 .4 .2 -.4 .3 -.3 -.3zM80.3 29.5l2.2 -.2 3 .4 2.5 1 1.5 1.2 .7 1.1 .2 1.5 -.7 1.5 -1.6 1.5 -3.6 1.8 -4 1.4 -1 .1 -7.1 -2.8 -.9 -.5 -1 -1 -.4 -1 .1 -1 .5 -1 .8 -.7 2 -1 6.8 -2.3zM79.4 43.5l.6 .1 1 1 .5 1.1 .3 1.3 -.1 1.5 -.6 3.5 -.1 3.5 -.4 1.5 -.6 1.1 -1 1.1 -1.5 .7 -.5 -.3 -.2 -.6 -.3 -2 0 -1.5 .5 -3.5 -.1 -5 .5 -1.5 .6 -1.1 .5 -.5 .9 -.4zM75.2 62l.8 -.3 .5 .1 .4 1.2 -.1 2 -.8 1.5 -3.5 2.6 -2.2 2.4 -1.3 1 -1.5 .6 -1.3 -.1 -.3 -.5 .1 -1 .7 -1.5 1.3 -1.2 2.8 -1.8 2.5 -3.5 .7 -.7 1.2 -.8z" fill="#0f5aa3" fill-rule="evenodd"/>
<path d="M79.6 30l1.9 -.4 2 .1 2.5 .5 1.8 .8 1.3 1 .7 1 .2 1 -.4 1.5 -1.1 1.3 -1.8 1.2 -3.2 1.3 -3 .9 -1 0 -1 -.2 -6.3 -2.5 -1.2 -1 -.5 -1 .1 -1 .6 -1 .8 -.6 1.5 -.8 6.1 -2.1zM78.8 44.5l.7 -.2 .5 .1 .6 .6 .7 1.5 .1 1.5 -.8 4 0 3 -.3 1.5 -.8 1.4 -1 .7 -.5 0 -.7 -.6 -.3 -1.5 0 -1.5 .5 -3 -.2 -4.5 .5 -2 1 -1zM74.4 63.5l1.1 -.3 .5 .4 .1 1.4 -.5 1 -1.1 .9 -2.5 1.3 -1.4 2.3 -1.1 1.1 -1.5 .8 -1 .1 -.4 -.5 -.1 -.5 .8 -1.5 1.2 -1 3.3 -1.5 1.2 -2.5 1.4 -1.5z" fill="#084c95" fill-rule="evenodd"/>
<path d="M81.2 30l2.3 0 2.5 .5 2 1 1.1 1 .4 1 -.1 1.5 -.9 1.4 -1.4 1.1 -1.6 .8 -2.5 .9 -2 .5 -1.5 .1 -2 -.6 -4.5 -1.7 -1 -.6 -.8 -.9 -.2 -.5 .1 -1 .4 -.7 1 -.8 5.5 -2.2 3.2 -.8zM78.5 45.5l.5 -.4 .5 -.1 .5 .2 .7 .8 .4 1.5 -.2 1.5 -.9 3 0 3 -.1 1 -.5 1 -.9 .5 -.5 -.2 -.2 -.3 -.3 -1 .7 -4 -.5 -3 0 -1.5 .3 -1.3 .5 -.7zM69.3 69.5l.4 0 .2 .5 -.6 1 -.8 .5 -.5 .2 -.5 -.2 0 -.5 .2 -.5 .8 -.7 .8 -.3z" fill="#083e81" fill-rule="evenodd"/>
<path d="M80 30.5l2 -.3 2 .1 2 .5 1.5 .7 1.1 1 .5 1 0 1 -.4 1 -1.2 1.3 -1.5 1 -2.5 .9 -2.5 .6 -1.5 0 -1 -.1 -5.6 -2.2 -.9 -.7 -.5 -.8 .1 -1 .8 -1 3.2 -1.5 4.4 -1.5zM78.9 46l.6 -.1 .5 .2 .5 .9 .1 .5 -.1 1 -.5 1.2 -.5 .7 -.5 0 -.5 -.7 -.4 -1.7 .4 -1.5 .4 -.5z" fill="#08306b" fill-rule="evenodd"/>
</g>
<g transform="translate(-1.433 770.750) scale(6.24333 -6.35000)">
<g stroke="#c8c8c8" stroke-width="0.8" fill="none">
<path vector-effect="non-scaling-stroke" d="M20 25 L20 45 M30 25 L30 45 M10 35 L40 35"/>
</g>
<use href="#coast"/>
</g>
<g transform="translate(61.00 485.00)">
<g stroke="#8e8e8e" stroke-width="0.7" fill="none">
<path d="M0.00 8.60 L3.20 9.00 L8.00 9.80 L14.80 11.00 L17.20 13.00 L19.60 16.60 L21.60 19.00 L24.00 19.60 L26.00 18.60 L25.60 17.00 L24.00 13.40 L23.20 7.40 L26.80 0.00"/>
<path d="M0.00 36.50 L4.00 34.20 L8.80 31.40 L12.00 29.80 L19.20 26.20 L22.00 25.40 L30.00 23.00 L41.20 19.80 L46.00 16.60 L49.20 15.40"/>
<path d="M38.00 6.20 L42.80 7.40 L50.00 10.20 L56.40 13.00 L62.00 15.80 L64.40 15.40 L67.60 17.00 L70.00 16.20 L74.00 15.40 L78.00 17.00 L80.80 17.00 L84.00 19.00 L90.40 19.80 L96.00 17.00 L100.00 15.40 L104.80 14.20 L109.60 11.80 L112.80 8.60 L115.20 4.60 L116.50 2.00 L118.00 0.00"/>
<path d="M118.00 18.40 L124.00 17.60"/>
<path d="M153.00 16.80 L156.00 17.00"/>
<path d="M138.00 15.40 L142.00 13.80 L147.60 11.00 L152.40 7.00 L158.00 3.60 L161.80 0.00"/>
<path d="M124.00 30.50 L125.00 30.00 L128.70 28.50 L131.60 28.10 L140.40 26.90 L149.20 26.30 L156.70 26.90 L160.50 28.80 L161.80 30.70 L160.50 32.50 L161.80 33.80 L165.60 30.70 L169.30 27.50 L172.10 30.30 L174.40 31.30 L177.10 33.40"/>
<path d="M124.00 30.50 L120.00 31.50 L117.00 33.00"/>
<path d="M24.50 47.00 L23.90 49.70 L22.00 56.00 L20.00 61.00 L17.50 66.00 L16.40 70.90 L17.00 75.90 L20.20 77.20 L24.60 79.10 L26.40 83.50 L29.00 87.90 L32.70 92.30 L34.60 97.30 L35.90 102.40 L34.00 104.30 L29.00 105.50 L22.70 106.10 L15.10 108.00 L11.30 109.90 L5.00 109.90 L1.30 109.30 L0.00 109.30"/>
<path d="M36.00 46.00 L39.00 42.80 L44.10 39.00 L50.40 36.50 L56.70 35.20 L63.00 34.60 L70.00 34.30 L80.40 34.40 L90.00 35.50 L97.20 37.40 L104.00 40.50 L110.30 44.90 L114.00 50.00 L115.50 56.00 L114.90 60.80 L117.40 65.80 L119.30 70.90 L120.60 75.90 L121.20 81.00 L121.80 84.70 L124.00 84.90 L130.00 87.50 L137.90 91.00 L135.30 92.90 L131.60 94.20 L130.30 97.30 L129.70 103.60 L129.00 108.70 L126.50 112.40 L125.30 116.20 L124.00 120.00 L123.00 127.00"/>
<path d="M47.07 73.25 L46.02 71.83 L45.23 70.26 L44.72 68.59 L44.51 66.87 L44.59 65.13 L44.98 63.43 L45.66 61.81 L46.60 60.33 L47.79 59.01 L49.19 57.90 L50.76 57.02 L52.47 56.41 L54.25 56.07 L56.08 56.01 L57.88 56.25 L59.62 56.76 L61.25 57.55 L62.72 58.58 L63.99 59.82 L65.03 61.25"/>
<path d="M187.00 43.90 L179.60 44.50 L173.40 46.40 L172.10 51.40 L174.60 56.30 L178.30 58.80 L179.40 60.80 L176.90 64.60 L178.20 68.40 L183.20 72.10 L184.50 77.20 L183.20 81.00 L180.70 84.70 L174.40 82.20 L169.30 82.80 L168.00 87.30 L170.60 91.00 L171.20 98.60 L170.60 104.90 L171.90 111.20 L174.40 115.00 L179.40 116.20 L184.50 120.00 L187.00 121.30"/>
<path d="M136.60 127.00 L136.60 123.80 L140.40 120.00 L144.20 117.50 L147.90 116.80 L151.70 116.20 L156.00 118.00 L160.00 121.00 L164.00 124.00 L167.00 127.00"/>
<path d="M159.60 84.70 L159.47 86.20 L159.10 87.30 L158.60 87.70 L158.10 87.30 L157.73 86.20 L157.60 84.70 L157.73 83.20 L158.10 82.10 L158.60 81.70 L159.10 82.10 L159.47 83.20 L159.60 84.70"/>
<path d="M167.00 103.60 L166.81 104.50 L166.30 105.16 L165.60 105.40 L164.90 105.16 L164.39 104.50 L164.20 103.60 L164.39 102.70 L164.90 102.04 L165.60 101.80 L166.30 102.04 L166.81 102.70 L167.00 103.60"/>
<path d="M166.50 39.60 L166.34 40.60 L165.90 41.33 L165.30 41.60 L164.70 41.33 L164.26 40.60 L164.10 39.60 L164.26 38.60 L164.70 37.87 L165.30 37.60 L165.90 37.87 L166.34 38.60 L166.50 39.60"/>
<path d="M10.40 123.80 L10.21 124.51 L9.71 124.94 L9.09 124.94 L8.59 124.51 L8.40 123.80 L8.59 123.09 L9.09 122.66 L9.71 122.66 L10.21 123.09 L10.40 123.80"/>
<path d="M177.10 33.40 L182.00 35.00 L187.30 36.00"/>
</g>
<text x="125.3" y="19.4" font-size="6.4" style="font-family:&quot;Liberation Serif&quot;,serif" fill="#858585" transform="rotate(0 125.3 19.4)">1015</text>
<text x="141.0" y="19.4" font-size="6.4" style="font-family:&quot;Liberation Serif&quot;,serif" fill="#858585" transform="rotate(0 141.0 19.4)">1015</text>
<text x="176.0" y="36.8" font-size="6.4" style="font-family:&quot;Liberation Serif&quot;,serif" fill="#858585" transform="rotate(0 176.0 36.8)">101</text>
<text x="45.0" y="69.5" font-size="6.4" style="font-family:&quot;Liberation Serif&quot;,serif" fill="#858585" transform="rotate(25 45.0 69.5)">1005</text>
<g stroke="#e8292b" stroke-width="1.35" fill="none" stroke-linejoin="miter" stroke-miterlimit="3">
<path d="M77.80 51.00 L75.00 48.60 L74.60 45.00 L73.40 43.00 L71.00 41.80 L68.20 41.00 L66.20 39.80 L65.40 37.40 L65.40 33.40 L65.60 30.80 L68.50 28.30 L70.00 29.80 L71.50 30.80 L74.00 28.80 L78.00 28.10 L88.60 28.20 L93.00 28.30 L95.00 29.30 L96.50 31.30 L96.00 32.80 L94.50 33.80 L94.00 35.80 L94.50 37.30 L96.50 37.80 L99.00 36.30 L101.00 36.30 L103.00 37.80 L103.50 40.30 L102.00 42.80 L99.00 43.80 L96.00 43.80 L93.00 42.80 L90.00 41.30 L87.00 40.60 L84.00 40.80 L82.00 41.80 L81.00 43.30 L81.50 44.80 L84.00 47.80 L85.00 49.80 L86.50 51.80 L87.50 54.80 L87.00 57.80 L85.00 59.80 L84.50 62.80 L86.00 64.30 L87.00 66.80 L84.00 70.30 L81.50 72.30 L78.50 73.30 L77.50 75.80 L78.00 78.80 L76.00 81.80 L73.00 82.30 L70.50 83.80 L68.00 85.80 L62.00 86.10 L58.00 85.80 L55.00 83.80 L53.50 80.80 L54.00 77.80 L56.00 75.30 L59.00 72.80 L61.00 71.50"/>
<path d="M77.80 51.00 L75.00 51.00 L73.40 49.40 L72.60 47.40 L70.20 45.00 L67.80 44.20 L65.80 45.00 L65.00 47.40 L65.80 50.20 L67.80 52.60 L70.20 55.00 L72.00 57.80 L72.00 62.80 L71.50 66.30 L68.50 66.30 L65.50 66.30 L63.50 67.80 L62.00 69.30"/>
<path d="M65.00 47.40 L64.20 45.80 L61.40 44.20 L57.40 43.80 L55.00 44.60 L53.40 47.00 L53.20 49.80 L54.20 52.00 L56.00 53.30 L59.00 50.80 L62.00 49.80 L64.50 49.30 L65.00 47.40"/>
<path d="M53.50 69.30 L55.00 67.30 L58.00 66.30 L60.50 67.30 L61.50 69.30 L60.00 71.80 L58.00 72.30 L55.50 71.80 L53.50 70.30 L53.50 69.30"/>
<path d="M59.90 72.80 L62.50 70.20 L65.10 72.80 L62.50 75.40 L59.90 72.80"/>
<path d="M24.90 44.20 L28.20 40.90 L31.50 44.20 L28.20 47.50 L24.90 44.20"/>
<path d="M33.60 50.60 L37.20 47.00 L40.80 50.60 L40.80 53.60 L37.20 57.20 L33.60 53.60 L33.60 50.60"/>
<path d="M53.20 57.30 L56.00 54.50 L58.80 57.30 L56.00 60.10 L53.20 57.30"/>
<path d="M44.20 76.30 L47.00 73.50 L49.80 76.30 L47.00 79.10 L44.20 76.30"/>
<path d="M90.40 18.50 L93.20 15.70 L96.00 18.50 L93.20 21.30 L90.40 18.50"/>
<path d="M97.20 20.00 L99.40 18.40 L103.00 18.40 L105.20 20.00 L105.20 22.61 L103.00 24.20 L99.40 24.20 L97.20 22.61 L97.20 20.00"/>
<path d="M106.40 18.80 L108.80 16.00 L111.60 12.80 L113.20 14.00 L115.20 16.00 L116.00 18.40 L118.00 18.60 L121.20 19.20 L124.00 21.20 L123.60 23.20 L121.20 24.40 L117.20 24.80 L114.00 24.00 L111.20 22.80 L108.40 21.20 L106.40 18.80"/>
<path d="M115.60 9.30 L118.40 6.50 L121.20 9.30 L118.40 12.10 L115.60 9.30"/>
<path d="M122.30 15.40 L125.10 12.60 L127.90 15.40 L125.10 18.20 L122.30 15.40"/>
<path d="M103.10 31.60 L106.00 28.70 L108.90 31.60 L106.00 34.50 L103.10 31.60"/>
</g>
</g></g>
<rect x="61.00" y="485.00" width="187.30" height="127.00" fill="none" stroke="#2a2a2a" stroke-width="1.1"/>
<path d="M61.00 485.00 h-3.5 M61.00 548.50 h-3.5 M61.00 612.00 h-3.5 M61.00 612.00 v3.5 M123.43 612.00 v3.5 M185.87 612.00 v3.5 M248.30 612.00 v3.5" stroke="#2a2a2a" stroke-width="1.0"/>
<text x="154.65" y="479.50" font-size="11" fill="#1a1a1a" stroke="#1a1a1a" stroke-width="0.18" text-anchor="middle" textLength="180.3" lengthAdjust="spacingAndGlyphs">FC: 20230905_00 | LT: -24 hrs | RTOT</text>
<text x="4.60" y="479.40" font-size="19.5" font-weight="bold" fill="#000" textLength="25.5" lengthAdjust="spacingAndGlyphs"><tspan font-size="21" dy="0">(</tspan>g<tspan font-size="21">)</tspan></text>
<text x="32.60" y="487.90" font-size="9.4" fill="#2a2a2a" textLength="21" lengthAdjust="spacingAndGlyphs">45°N</text>
<text x="32.60" y="551.40" font-size="9.4" fill="#2a2a2a" textLength="21" lengthAdjust="spacingAndGlyphs">35°N</text>
<text x="32.60" y="614.90" font-size="9.4" fill="#2a2a2a" textLength="21" lengthAdjust="spacingAndGlyphs">25°N</text>
<text x="51.00" y="625.40" font-size="9.4" fill="#2a2a2a" textLength="20.4" lengthAdjust="spacingAndGlyphs">10°E</text>
<text x="113.43" y="625.40" font-size="9.4" fill="#2a2a2a" textLength="20.4" lengthAdjust="spacingAndGlyphs">20°E</text>
<text x="175.87" y="625.40" font-size="9.4" fill="#2a2a2a" textLength="20.4" lengthAdjust="spacingAndGlyphs">30°E</text>
<text x="238.30" y="625.40" font-size="9.4" fill="#2a2a2a" textLength="20.4" lengthAdjust="spacingAndGlyphs">40°E</text>
<g clip-path="url(#cp7)">
<g transform="translate(297.10 485.00)" filter="url(#bl)">
<path d="M66.5 64.5l4 -.2 4 .3 3 .7 4 1.5 3.5 2 7 5 1.9 2.2 .9 2 0 2 -.5 2 -3.9 7 -2.2 3 -2.7 2.5 -3.5 2.7 -3.5 2 -3 1.1 -4 .5 -4 -.2 -2 -.5 -2.5 -.8 -4.5 -2.1 -4 -2.3 -2.8 -2.4 -1.5 -2 -.9 -1.5 -1.3 -3.5 -.5 -3.5 .4 -3.5 1.2 -3.5 1.2 -2 1.2 -1.5 2.5 -2.3 3.5 -2 5 -1.9 4 -.8z" fill="#edf4fc" fill-rule="evenodd"/>
<path d="M66.8 65.5l3.7 -.2 4 .4 3 .7 3.5 1.3 3.5 2.1 6.5 4.5 1.5 1.7 1 2 .1 2 -.9 2.5 -3.5 6 -1.8 2.5 -2.9 2.9 -4 2.9 -2.5 1.4 -3 1.1 -2 .4 -2 .1 -4 -.4 -3.5 -1 -4.5 -2.2 -4 -2.4 -2.5 -2.1 -1.3 -1.7 -.9 -1.5 -1.2 -3 -.4 -3.5 .4 -3.5 1 -3 2 -3 2.4 -2.3 3.5 -2 4.5 -1.8 4.3 -.9z" fill="#e3eef8" fill-rule="evenodd"/>
<path d="M65.1 66.5l3.4 -.4 3.5 0 3.5 .5 3.5 1.1 4 2 6.5 4.3 1.7 1.5 1.3 2 .3 2 -.5 2 -1 2 -4.1 6.5 -2.2 2.4 -3 2.4 -3 2 -3 1.4 -3 .8 -3.5 .1 -3 -.5 -3.5 -1.3 -6 -3.1 -3 -2.1 -2.3 -2.6 -1.5 -3 -.7 -3.5 .1 -3.5 1.1 -3.5 1.6 -2.5 2.2 -2.3 3 -1.9 3.5 -1.6 4.1 -1.2z" fill="#d8e7f5" fill-rule="evenodd"/>
<path d="M65.5 67l3.5 -.4 3.5 .1 3.5 .6 3 1 3 1.5 7 4.5 1.9 1.7 1.1 2 .2 1.5 -.5 2 -3.9 6.5 -1.5 2 -2.3 2.4 -3 2.4 -3 1.9 -2.5 1.1 -3 .7 -3 0 -3.5 -.6 -3 -1.2 -5.5 -3 -3 -2 -1.2 -1.2 -1.2 -1.5 -1.4 -3 -.6 -3 .1 -3.5 1 -3 1.4 -2.5 2.4 -2.4 3 -1.9 3.5 -1.6 4 -1.1z" fill="#cee0f2" fill-rule="evenodd"/>
<path d="M65.5 67.5l3 -.4 3.5 0 3.5 .6 3 1 3 1.4 7 4.4 1.7 1.5 .8 1 .4 1 .2 2 -.7 2 -3.8 6 -1.5 2 -2.1 2.1 -3.5 2.7 -3 1.8 -2.5 1 -3 .5 -3 -.1 -3 -.8 -3.5 -1.6 -5 -2.8 -2.5 -1.8 -2.1 -2.5 -1.3 -3 -.6 -3 .2 -3 1 -3 1.6 -2.5 2.1 -2 2.6 -1.7 3.5 -1.7 4 -1.1z" fill="#c2d9ee" fill-rule="evenodd"/>
<path d="M65.2 68l3.3 -.5 3.5 .1 3 .5 3 .9 3 1.4 7 4.3 2 1.7 .9 1.6 .2 1.5 -.5 2 -4.1 6.5 -1.5 1.9 -2.5 2.4 -3 2.3 -2.5 1.5 -2.5 1 -2.5 .5 -3 0 -3 -.7 -3 -1.3 -5 -2.7 -3 -2.1 -2.1 -2.3 -.8 -1.5 -.6 -1.5 -.5 -3 .2 -3 .8 -2.5 1.5 -2.5 2 -2 2.5 -1.7 3.5 -1.7 3.7 -1.1z" fill="#b2d2e8" fill-rule="evenodd"/>
<path d="M67.9 68l2.6 -.1 3 .3 3 .7 2.5 .9 9 5.3 1.6 1.4 .7 1 .3 1 .1 1.5 -.8 2 -4.4 6.5 -1.7 2 -2.8 2.4 -3.5 2.4 -2.5 1.2 -2.5 .7 -3 .1 -3.5 -.8 -3.5 -1.6 -5.5 -3.2 -2.3 -1.7 -1.6 -2 -1 -2 -.6 -2.5 -.1 -3 .6 -2.5 1.2 -2.5 1.8 -2 2.5 -1.9 3.5 -1.8 3.5 -1.2 3.4 -.6z" fill="#a1cbe2" fill-rule="evenodd"/>
<path d="M66.9 68.5l3.1 -.2 3 .2 3 .6 2.5 .9 2.5 1.3 7 4.2 1.5 1.5 .7 1.5 .1 1.5 -.8 2 -4.2 6 -1.6 2 -2.7 2.4 -3.5 2.5 -2.5 1.2 -2 .6 -3 .2 -3.5 -.7 -3.5 -1.5 -5 -2.8 -2.5 -1.7 -1.6 -1.7 -1.2 -2 -.8 -2.5 -.2 -2.5 .4 -2.5 1 -2.5 1.4 -2 2 -1.7 3.5 -2.1 3.5 -1.4 3.4 -.8z" fill="#8cc0dd" fill-rule="evenodd"/>
<path d="M66.2 69l2.8 -.3 3 0 3 .5 2.5 .8 2.5 1.2 7.4 4.3 1.7 1.5 .7 1.5 .1 1.5 -.5 1.5 -5.8 8 -2.1 2 -3.5 2.6 -2.5 1.4 -2 .7 -2.5 .4 -3 -.3 -2.5 -.8 -3.5 -1.8 -4.5 -2.6 -2.5 -1.9 -1.7 -2.2 -.9 -2.5 -.3 -2.5 .2 -2.5 .9 -2.5 1.4 -2 1.9 -1.7 3.5 -2.2 3 -1.3 3.2 -.8z" fill="#77b5d9" fill-rule="evenodd"/>
<path d="M65.5 69.5l3 -.4 3 0 3 .4 2.5 .7 2.5 1.2 7.5 4.2 1.7 1.4 .8 1.5 0 1.5 -.5 1.5 -5.5 7.5 -2 2 -2.6 2 -2.9 1.8 -2 .9 -2.5 .5 -2.5 -.1 -2.5 -.6 -2.5 -1.1 -5.5 -3.1 -2.5 -1.7 -1.9 -2.1 -1.3 -2.5 -.4 -2.5 .1 -2.5 .8 -2.5 1.2 -1.9 2 -1.9 2.5 -1.6 3.5 -1.7 3 -.9z" fill="#63a8d3" fill-rule="evenodd"/>
<path d="M67.5 69.5l3 -.1 2.5 .2 2.5 .5 2.5 .9 9.1 5 1.5 1.5 .6 1.5 -.2 1.5 -.7 1.5 -5.8 7.5 -2.5 2.2 -3.3 2.3 -2.2 1.1 -2 .6 -3 .1 -3 -.7 -3 -1.4 -5.5 -3.2 -2 -1.4 -1.5 -1.6 -1.1 -2 -.6 -2 -.1 -2.5 .4 -2 .9 -2 1.6 -2 2.4 -1.9 3.5 -1.9 3 -1.1 3 -.6z" fill="#529dcc" fill-rule="evenodd"/>
<path d="M66.5 70l3 -.3 2.5 .1 2.5 .4 2.5 .8 9.5 4.9 1.3 1.1 1 1.5 0 1.5 -.6 1.5 -5.8 7.5 -2.1 2 -3.3 2.4 -2 1.1 -2 .8 -2.5 .3 -2.5 -.4 -2.5 -.9 -3.4 -1.8 -4.3 -2.5 -2 -1.5 -1.6 -2 -1 -2.5 -.2 -2.5 .3 -2 .8 -2 1.4 -2 2 -1.6 3.5 -2 3 -1.3 2.5 -.6z" fill="#4090c5" fill-rule="evenodd"/>
<path d="M65.8 70.5l2.7 -.4 2.5 0 2.5 .3 2.5 .6 2.5 1.1 7.5 3.8 1.5 1.2 .9 1.4 .1 1.5 -.6 1.5 -5.9 7.4 -2 1.8 -3 2.2 -2 1.2 -2 .8 -2 .3 -2 -.1 -2.1 -.6 -2.9 -1.4 -5.5 -3.1 -2 -1.4 -1.6 -1.6 -1.2 -2.5 -.4 -2 .2 -2.5 .7 -2 1.3 -2 2 -1.7 3 -1.7 2.5 -1.2 2.8 -.9z" fill="#3383be" fill-rule="evenodd"/>
<path d="M67.9 70.5l2.1 -.1 2.5 .2 2.2 .4 2.3 .8 9 4.5 1.5 1.2 .7 1.5 0 1 -.7 1.5 -6.5 7.8 -2 1.7 -3 2.1 -2 1.1 -2 .5 -2.5 .1 -2.5 -.7 -3 -1.4 -5.6 -3.2 -1.9 -1.3 -1.2 -1.2 -.9 -1.5 -.7 -2 -.1 -2 .3 -2 .9 -2 1.2 -1.5 2.5 -1.9 4 -2.1 2.8 -1 2.6 -.5z" fill="#2575b7" fill-rule="evenodd"/>
<path d="M67 71l2.5 -.2 2.5 .1 2.5 .4 2 .7 9.4 4.5 1.2 1 .7 1.5 0 1 -.7 1.5 -6.1 7.3 -2 1.7 -2.8 2 -1.7 1 -2 .7 -2 .3 -2.5 -.4 -2.5 -1 -3.7 -2.1 -4.2 -2.5 -1.6 -1.3 -1.3 -1.7 -.7 -2 -.1 -2 .3 -2 .8 -1.7 1 -1.3 2 -1.6 3.5 -2 3 -1.3 2.5 -.6z" fill="#1967ad" fill-rule="evenodd"/>
<path d="M66.4 71.5l2.1 -.3 2.5 -.1 2.5 .4 2 .5 10 4.6 1.5 1.3 .5 1.1 0 1 -.8 1.5 -2.8 3 -3.2 4 -1.7 1.5 -2.8 2 -1.7 1 -2 .8 -1.5 .3 -2 -.2 -2 -.6 -2.7 -1.3 -7.3 -4.4 -1.6 -1.6 -.9 -2 -.3 -2 .2 -2 .6 -1.5 1 -1.5 1.8 -1.5 3.4 -2 2.8 -1.3 2.4 -.7z" fill="#0f5aa3" fill-rule="evenodd"/>
<path d="M69.5 71.5l3 .2 2.5 .6 9.5 4.1 1.1 .6 .9 .8 .5 .7 .2 1 -.3 1 -.6 1 -2.9 3 -2.4 3 -1.5 1.5 -2.5 1.9 -2.5 1.6 -2 .9 -1.5 .2 -2 -.1 -2.5 -.9 -9 -5.1 -1 -.8 -1 -1.2 -.7 -1.5 -.3 -1.5 .1 -2 .5 -1.5 .9 -1.4 1.5 -1.4 3.6 -2.2 2.9 -1.4 2.5 -.7 3 -.4z" fill="#084c95" fill-rule="evenodd"/>
<path d="M68.2 72l3.8 0 2 .4 1.8 .6 9.2 4 1.2 1 .5 1 0 1 -.7 1.3 -2.7 2.7 -3.9 4.5 -1.9 1.5 -3 2 -1.5 .7 -1.5 .4 -2 0 -2.5 -.7 -2.7 -1.4 -6.1 -3.5 -1.2 -.9 -1 -1 -.6 -1.1 -.5 -1.5 0 -2 .4 -1.5 .7 -1.3 1.1 -1.2 1.9 -1.3 4 -2.2 2.7 -1 2.5 -.5z" fill="#083e81" fill-rule="evenodd"/>
<path d="M67.8 72.5l3.7 -.1 3.5 .8 5 2.2 4.3 1.6 1.5 1 .5 1 0 1 -.5 1 -3.1 3 -3.7 4.2 -2 1.6 -2.5 1.6 -1.5 .8 -1.5 .4 -2 0 -2.1 -.6 -3 -1.5 -5.9 -3.4 -2.1 -1.6 -.6 -1 -.6 -1.5 0 -1.5 .3 -1.5 .5 -1.1 1.2 -1.4 1.4 -1 4.5 -2.5 2.4 -1 2.3 -.5z" fill="#08306b" fill-rule="evenodd"/>
</g>
<g transform="translate(234.667 770.750) scale(6.24333 -6.35000)">
<g stroke="#c8c8c8" stroke-width="0.8" fill="none">
<path vector-effect="non-scaling-stroke" d="M20 25 L20 45 M30 25 L30 45 M10 35 L40 35"/>
</g>
<use href="#coast"/>
</g>
<g transform="translate(297.10 485.00)">
<g stroke="#8e8e8e" stroke-width="0.7" fill="none">
<path d="M38.00 7.50 L44.00 6.30 L48.00 5.70 L53.00 5.00 L58.00 6.30 L63.00 6.90 L66.00 7.40 L71.00 9.90 L73.50 12.40 L76.00 14.50 L81.00 15.80 L91.00 17.60 L96.00 15.10 L101.00 12.60 L106.00 11.30 L111.00 8.80 L115.00 6.30 L118.90 2.50 L122.60 0.00"/>
<path d="M75.00 10.60 L79.00 8.60 L83.00 6.30 L90.00 5.50 L95.00 8.60 L93.70 11.10 L88.00 11.80 L81.00 12.40 L77.40 13.60 L75.00 10.60"/>
<path d="M49.10 6.30 L50.40 9.40 L54.20 12.60 L56.00 14.50 L57.90 16.40"/>
<path d="M46.60 16.40 L47.90 18.90 L50.40 21.40 L49.10 25.20 L46.60 29.00 L44.10 31.50 L41.60 40.30 L37.80 44.10 L35.30 46.60"/>
<path d="M18.30 52.90 L20.80 52.90 L23.30 55.40 L25.20 57.90 L26.40 60.80 L25.80 65.80 L21.40 68.40 L20.20 69.60 L24.60 73.40 L27.10 78.40 L29.00 83.50 L31.50 91.00 L34.00 97.30 L36.50 102.40 L37.80 104.90 L34.00 105.50 L30.50 105.50"/>
<path d="M15.50 106.80 L12.60 109.90 L10.10 113.70 L6.90 116.80 L8.80 120.00 L12.60 122.50 L16.40 127.00"/>
<path d="M46.80 111.40 L46.48 112.40 L45.60 113.13 L44.40 113.40 L43.20 113.13 L42.32 112.40 L42.00 111.40 L42.32 110.40 L43.20 109.67 L44.40 109.40 L45.60 109.67 L46.48 110.40 L46.80 111.40"/>
<path d="M87.40 83.50 L87.21 85.10 L86.65 86.62 L85.74 87.99 L84.54 89.13 L83.10 89.99 L81.49 90.52 L79.80 90.70 L78.11 90.52 L76.50 89.99 L75.06 89.13 L73.86 87.99 L72.95 86.62 L72.39 85.10 L72.20 83.50 L72.39 81.90 L72.95 80.38 L73.86 79.01 L75.06 77.87 L76.50 77.01 L78.11 76.48 L79.80 76.30 L81.49 76.48 L83.10 77.01 L84.54 77.87 L85.74 79.01 L86.65 80.38 L87.21 81.90 L87.40 83.50"/>
<path d="M86.70 84.10 L86.48 85.46 L85.86 86.69 L84.89 87.66 L83.66 88.28 L82.30 88.50 L80.94 88.28 L79.71 87.66 L78.74 86.69 L78.12 85.46 L77.90 84.10 L78.12 82.74 L78.74 81.51 L79.71 80.54 L80.94 79.92 L82.30 79.70 L83.66 79.92 L84.89 80.54 L85.86 81.51 L86.48 82.74 L86.70 84.10"/>
<path d="M62.20 91.00 L60.00 86.00 L62.00 81.00 L66.00 77.20 L73.50 72.90 L81.00 70.90 L92.40 70.20 L101.20 72.80 L107.50 75.90 L110.60 80.90 L111.30 85.40 L108.80 87.90 L102.50 88.50 L97.40 91.00"/>
<path d="M80.00 96.10 L73.50 95.40 L66.00 92.30 L62.20 91.00"/>
<path d="M55.00 94.00 L60.90 96.10 L64.70 99.80 L71.00 103.60 L78.50 106.10 L86.10 109.90 L92.40 113.70 L97.40 118.70 L102.50 123.80 L105.00 127.00"/>
<path d="M123.90 35.60 L129.00 31.80 L134.10 27.30 L140.50 33.70 L149.50 36.30 L154.60 38.80 L161.00 38.20 L167.40 36.90 L172.50 33.10 L177.70 32.40 L187.90 33.10"/>
<path d="M105.00 42.00 L112.00 43.50 L118.00 45.00 L123.90 46.50 L130.30 49.10 L136.70 51.00 L143.10 51.00 L149.50 49.10 L155.90 47.20 L162.30 44.60 L168.70 43.30 L175.10 41.40 L181.50 38.20 L187.90 35.60"/>
<path d="M187.90 43.30 L181.50 44.60 L175.10 45.90 L171.30 48.50 L168.70 52.30 L167.40 54.80 L168.70 58.70 L172.50 61.20 L178.00 63.00 L184.00 64.00 L187.90 63.50"/>
<path d="M184.00 7.50 L177.70 9.40 L175.80 12.60 L177.70 16.40 L184.10 17.70 L187.90 17.10"/>
<path d="M131.60 65.90 L136.70 63.40 L149.50 62.70 L154.60 64.60 L149.50 67.20 L143.10 67.20 L134.10 67.20 L131.60 65.90"/>
<path d="M131.50 101.50 L131.28 103.24 L130.67 104.63 L129.79 105.40 L128.81 105.40 L127.93 104.63 L127.32 103.24 L127.10 101.50 L127.32 99.76 L127.93 98.37 L128.81 97.60 L129.79 97.60 L130.67 98.37 L131.28 99.76 L131.50 101.50"/>
<path d="M150.30 101.80 L150.15 102.74 L149.75 103.32 L149.25 103.32 L148.85 102.74 L148.70 101.80 L148.85 100.86 L149.25 100.28 L149.75 100.28 L150.15 100.86 L150.30 101.80"/>
<path d="M154.60 104.30 L159.70 106.90 L164.90 110.70 L168.70 114.60 L172.50 117.10 L177.70 118.40 L181.50 122.30 L185.40 124.80 L187.30 126.00"/>
<path d="M92.00 61.00 L96.00 64.50 L101.00 68.00 L104.00 70.50"/>
</g>
<text x="54.5" y="18.6" font-size="6.4" style="font-family:&quot;Liberation Serif&quot;,serif" fill="#858585" transform="rotate(0 54.5 18.6)">1020</text>
<text x="17.5" y="109.8" font-size="6.4" style="font-family:&quot;Liberation Serif&quot;,serif" fill="#858585" transform="rotate(0 17.5 109.8)">1015</text>
<text x="84.5" y="99.3" font-size="6.4" style="font-family:&quot;Liberation Serif&quot;,serif" fill="#858585" transform="rotate(-28 84.5 99.3)">1005</text>
<g stroke="#e8292b" stroke-width="1.35" fill="none" stroke-linejoin="miter" stroke-miterlimit="3">
<path d="M53.30 72.20 L56.90 69.20 L59.90 68.60 L62.90 66.20 L80.30 66.20 L83.90 69.20 L87.50 72.80 L91.10 74.00 L93.50 76.40 L97.10 77.00 L99.50 78.80 L98.30 81.20 L94.70 81.80 L92.30 82.40 L90.50 85.40 L89.30 84.20 L87.50 82.40 L86.90 80.60 L89.30 79.40 L86.90 79.40 L84.50 81.20 L82.70 82.40 L80.30 83.00 L78.50 84.80 L77.90 88.40 L76.70 92.60 L74.90 93.80 L69.50 94.20 L65.30 93.80 L62.30 92.00 L59.90 94.40 L58.10 93.20 L55.70 90.20 L53.30 88.40 L52.70 83.60 L52.70 77.60 L53.30 72.20"/>
<path d="M118.40 47.50 L121.20 44.70 L124.00 47.50 L121.20 50.30 L118.40 47.50"/>
</g>
</g></g>
<rect x="297.10" y="485.00" width="187.30" height="127.00" fill="none" stroke="#2a2a2a" stroke-width="1.1"/>
<path d="M297.10 485.00 h-3.5 M297.10 548.50 h-3.5 M297.10 612.00 h-3.5 M297.10 612.00 v3.5 M359.53 612.00 v3.5 M421.97 612.00 v3.5 M484.40 612.00 v3.5" stroke="#2a2a2a" stroke-width="1.0"/>
<text x="390.75" y="479.50" font-size="11" fill="#1a1a1a" stroke="#1a1a1a" stroke-width="0.18" text-anchor="middle" textLength="180.3" lengthAdjust="spacingAndGlyphs">FC: 20230910_00 | LT: -24 hrs | RTOT</text>
<text x="267.90" y="479.40" font-size="19.5" font-weight="bold" fill="#000" textLength="25.5" lengthAdjust="spacingAndGlyphs"><tspan font-size="21" dy="0">(</tspan>h<tspan font-size="21">)</tspan></text>
<text x="287.10" y="625.40" font-size="9.4" fill="#2a2a2a" textLength="20.4" lengthAdjust="spacingAndGlyphs">10°E</text>
<text x="349.53" y="625.40" font-size="9.4" fill="#2a2a2a" textLength="20.4" lengthAdjust="spacingAndGlyphs">20°E</text>
<text x="411.97" y="625.40" font-size="9.4" fill="#2a2a2a" textLength="20.4" lengthAdjust="spacingAndGlyphs">30°E</text>
<text x="474.40" y="625.40" font-size="9.4" fill="#2a2a2a" textLength="20.4" lengthAdjust="spacingAndGlyphs">40°E</text>
<path d="M144.40 636.20 L131.40 644.20 L144.40 652.20 Z" fill="#f7fbff"/>
<rect x="144.40" y="636.20" width="13.73" height="16.00" fill="#edf4fc"/>
<rect x="157.83" y="636.20" width="13.73" height="16.00" fill="#e3eef8"/>
<rect x="171.26" y="636.20" width="13.73" height="16.00" fill="#d8e7f5"/>
<rect x="184.69" y="636.20" width="13.73" height="16.00" fill="#cee0f2"/>
<rect x="198.13" y="636.20" width="13.73" height="16.00" fill="#c2d9ee"/>
<rect x="211.56" y="636.20" width="13.73" height="16.00" fill="#b2d2e8"/>
<rect x="224.99" y="636.20" width="13.73" height="16.00" fill="#a1cbe2"/>
<rect x="238.42" y="636.20" width="13.73" height="16.00" fill="#8cc0dd"/>
<rect x="251.85" y="636.20" width="13.73" height="16.00" fill="#77b5d9"/>
<rect x="265.28" y="636.20" width="13.73" height="16.00" fill="#63a8d3"/>
<rect x="278.72" y="636.20" width="13.73" height="16.00" fill="#529dcc"/>
<rect x="292.15" y="636.20" width="13.73" height="16.00" fill="#4090c5"/>
<rect x="305.58" y="636.20" width="13.73" height="16.00" fill="#3383be"/>
<rect x="319.01" y="636.20" width="13.73" height="16.00" fill="#2575b7"/>
<rect x="332.44" y="636.20" width="13.73" height="16.00" fill="#1967ad"/>
<rect x="345.87" y="636.20" width="13.73" height="16.00" fill="#0f5aa3"/>
<rect x="359.31" y="636.20" width="13.73" height="16.00" fill="#084c95"/>
<rect x="372.74" y="636.20" width="13.73" height="16.00" fill="#083e81"/>
<rect x="386.17" y="636.20" width="13.73" height="16.00" fill="#08306b"/>
<path d="M144.40 636.20 L399.60 636.20 L399.60 652.20 L144.40 652.20 L131.40 644.20 Z" fill="none" stroke="#333" stroke-width="0.9"/>
<text x="157.83" y="668.60" font-size="10.6" fill="#1a1a1a" text-anchor="middle">10</text>
<text x="184.69" y="668.60" font-size="10.6" fill="#1a1a1a" text-anchor="middle">20</text>
<text x="211.56" y="668.60" font-size="10.6" fill="#1a1a1a" text-anchor="middle">30</text>
<text x="238.42" y="668.60" font-size="10.6" fill="#1a1a1a" text-anchor="middle">40</text>
<text x="265.28" y="668.60" font-size="10.6" fill="#1a1a1a" text-anchor="middle">50</text>
<text x="292.15" y="668.60" font-size="10.6" fill="#1a1a1a" text-anchor="middle">60</text>
<text x="319.01" y="668.60" font-size="10.6" fill="#1a1a1a" text-anchor="middle">70</text>
<text x="345.87" y="668.60" font-size="10.6" fill="#1a1a1a" text-anchor="middle">80</text>
<text x="372.74" y="668.60" font-size="10.6" fill="#1a1a1a" text-anchor="middle">90</text>
<text x="399.60" y="668.60" font-size="10.6" fill="#1a1a1a" text-anchor="middle">100</text>
<path d="M157.83 652.20 v3.5 M184.69 652.20 v3.5 M211.56 652.20 v3.5 M238.42 652.20 v3.5 M265.28 652.20 v3.5 M292.15 652.20 v3.5 M319.01 652.20 v3.5 M345.87 652.20 v3.5 M372.74 652.20 v3.5 M399.60 652.20 v3.5" stroke="#333" stroke-width="0.9"/>
<text x="211.2" y="690.6" font-size="16.6" fill="#111" textLength="114.5" lengthAdjust="spacingAndGlyphs">probability [%]</text>
</svg></body></html>
